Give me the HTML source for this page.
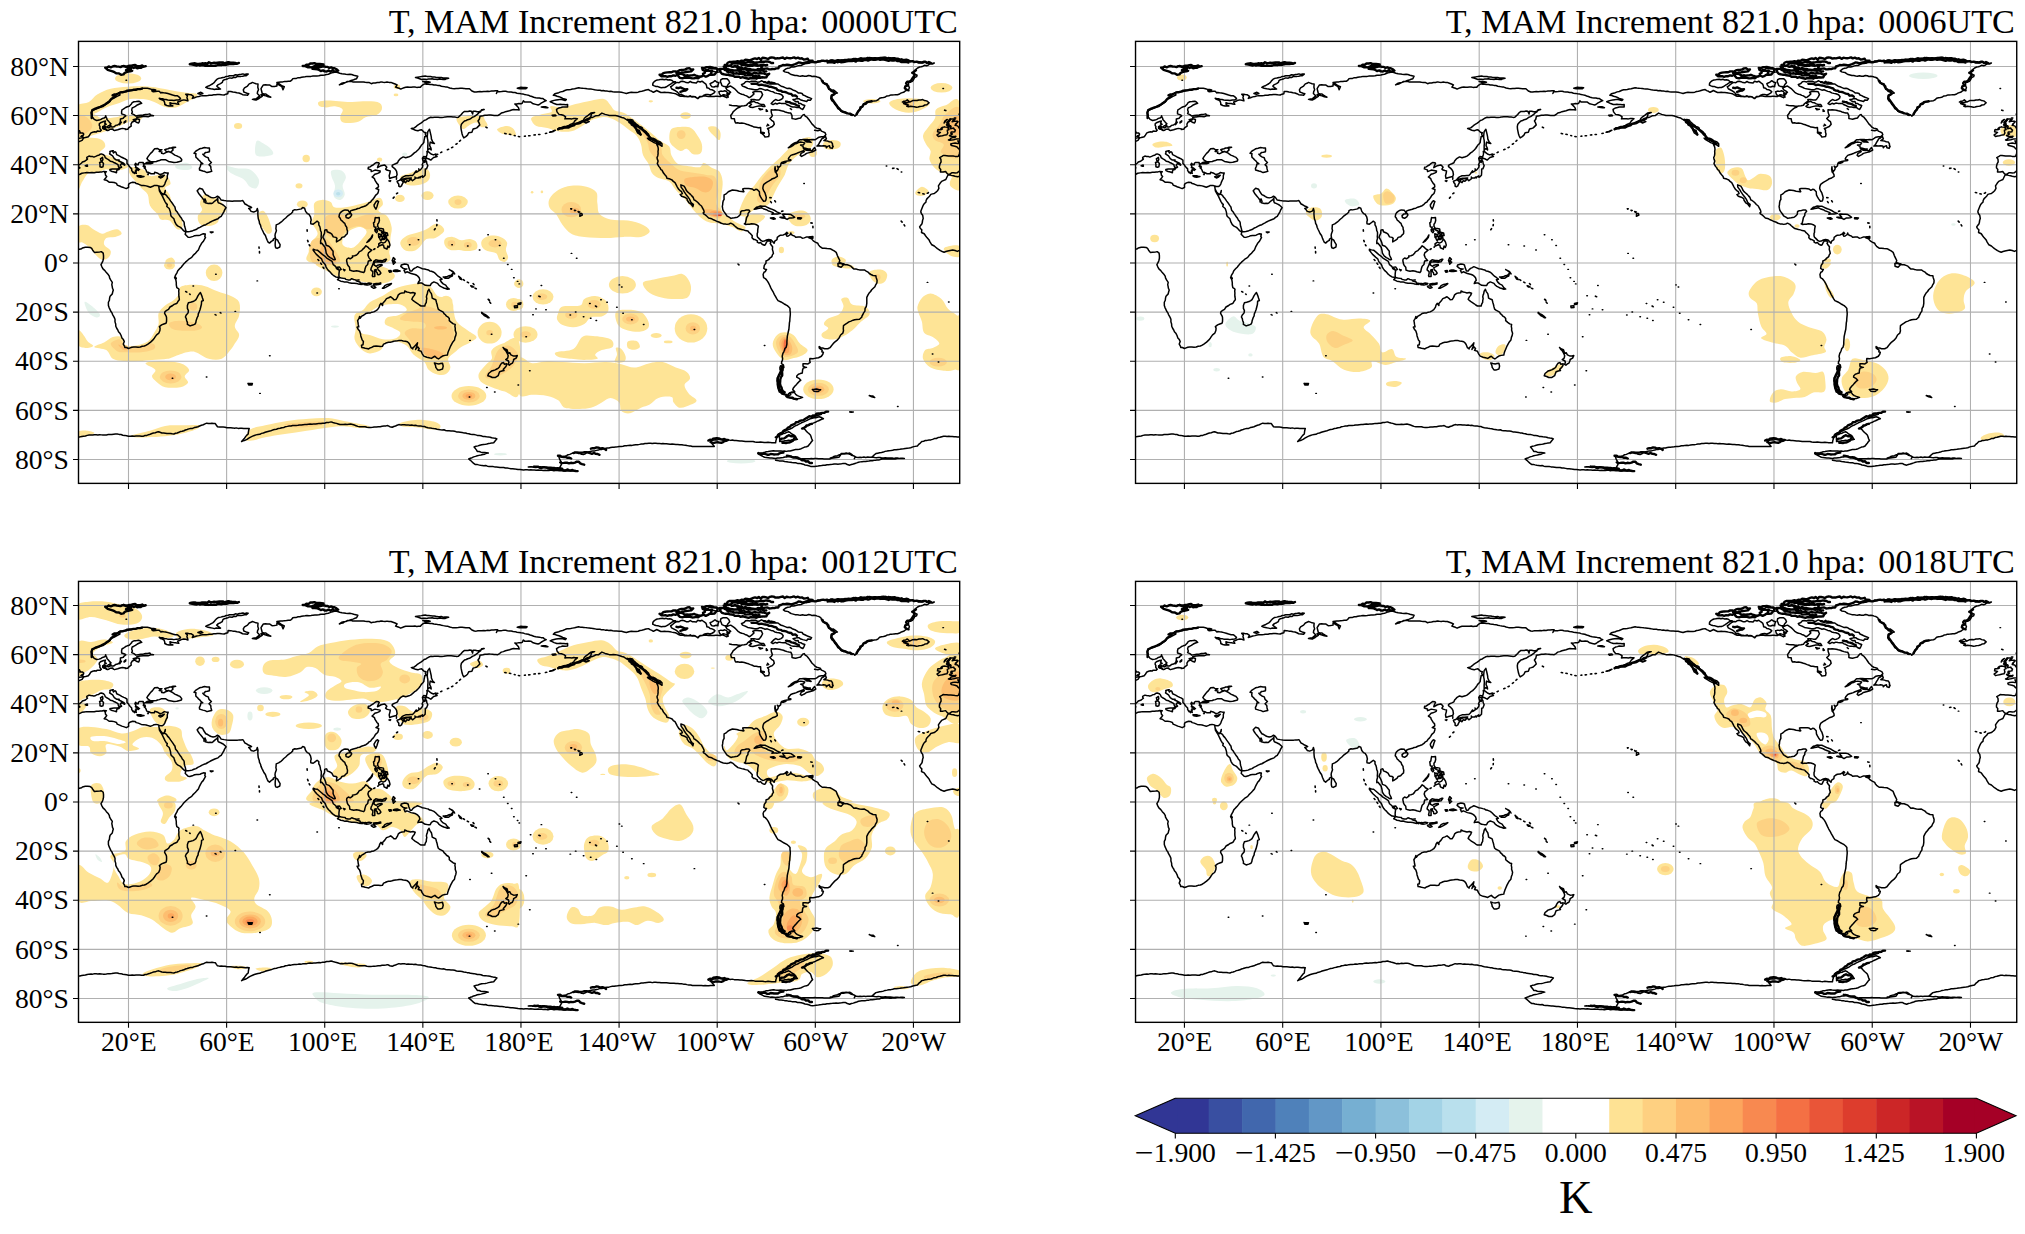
<!DOCTYPE html>
<html><head><meta charset="utf-8"><title>T, MAM Increment 821.0 hpa</title>
<style>html,body{margin:0;padding:0;background:#fff}svg{display:block}</style></head>
<body>
<svg width="2025" height="1234" viewBox="0 0 2025 1234" font-family='"Liberation Serif","Times New Roman",serif'>
<rect width="2025" height="1234" fill="#fff"/>
<defs><clipPath id="cp0"><rect x="0" y="0" width="881.20" height="442.00"/></clipPath><clipPath id="cp1"><rect x="0" y="0" width="881.20" height="440.95"/></clipPath>
<g id="coast" fill="none" stroke="#000" stroke-width="1.5" stroke-linejoin="round" stroke-linecap="round"><path stroke-width="1.45" d="M330.9 203.4h0.6M339.7 198.3h0.6M373.3 203.4h0.6M389.0 204.6h0.6M400.8 208.6h0.6M409.3 193.3h0.6M416.7 198.3h0.6M420.9 204.1h0.6M425.0 216.9h0.6M429.0 223.1h0.6M432.9 228.0h0.6M440.5 242.5h0.6M438.8 240.0h0.6M435.1 236.3h0.6M451.8 254.3h0.6M454.2 273.4h0.6M457.2 267.5h0.6M491.5 273.7h0.6M496.9 270.7h0.6M511.1 262.1h0.6M522.2 258.4h0.6M528.3 260.9h0.6M538.1 265.8h0.6M544.3 271.9h0.6M540.6 243.5h0.6M543.0 245.7h0.6M497.9 216.9h0.6M492.7 212.0h0.6M178.5 239.5h0.6M156.5 270.0h0.6M870.0 260.6h0.6M848.7 241.0h0.6M853.8 312.7h0.6M859.7 320.6h0.6M191.0 314.4h0.6M127.8 335.6h0.6M93.7 336.8h0.6M181.2 352.0h0.6M390.7 355.7h0.6M416.0 350.6h0.6M408.1 346.1h0.6M451.0 329.4h0.6M439.5 343.7h0.6M615.6 288.2h0.6M685.8 304.1h0.6M819.0 365.1h0.6M772.1 370.7h0.6M725.3 142.2h0.6M822.7 130.7h0.6M807.7 124.6h0.6M47.5 38.8h0.6M864.4 47.2h0.6M137.1 232.9h0.6M114.5 244.7h0.6M238.4 251.6h0.6M260.2 247.4h0.6M412.8 292.8h0.6M391.2 299.0h0.6M462.6 244.2h0.6M467.2 268.3h0.6M447.4 295.3h0.6M564.9 283.2h0.6M553.1 278.3h0.6M517.5 279.1h0.6M504.8 275.4h0.6M511.9 276.9h0.6"/><path d="M869.5 133.6L871.0 133.4L872.8 134.0L874.8 134.3L876.6 134.9L879.1 135.4L880.9 134.8L882.5 133.9L884.0 133.1M0.9 133.1L1.4 132.9L3.4 131.9L5.8 131.5L8.3 131.2L10.9 131.4L13.5 131.2L15.7 131.3L17.9 130.8L20.1 130.9L21.8 130.6L23.6 130.5L25.2 130.0L27.9 130.4L26.2 131.2L26.9 132.2L26.9 133.6L28.2 135.1L27.4 136.3L25.7 138.3L27.9 138.8L30.6 140.8L33.3 140.8L35.7 141.2L38.0 142.0L38.7 143.7L41.7 144.9L43.3 145.7L45.1 146.2L47.8 147.2L50.2 145.9L50.0 144.2L50.2 142.7L52.0 141.5L54.2 140.8L56.4 141.0L57.8 142.2L59.8 142.7L62.8 144.0L65.2 144.2L67.7 144.5L69.7 145.2L71.8 145.9L74.3 144.9L75.5 144.2L77.5 144.0L78.9 144.2L80.2 144.7L80.7 147.9L80.9 149.6L82.4 152.3L83.9 154.8L85.3 157.7L86.5 160.2L88.0 162.6L88.8 162.9L88.3 165.1L90.7 167.1L91.7 170.0L92.1 171.7L92.2 173.4L92.7 174.9L94.0 176.1L95.4 177.4L95.9 179.2L96.6 181.1L97.8 183.3L99.5 184.7L102.0 186.0L103.2 187.2L104.3 188.5L105.7 189.7L107.2 190.6L106.7 193.1L107.6 193.8L109.6 195.8L111.3 196.0L113.0 195.5L114.6 195.0L116.2 194.3L118.0 194.1L119.8 194.1L121.6 193.8L123.2 193.0L124.8 192.4L126.8 192.6L126.3 195.1L127.0 196.0L125.8 198.3L124.7 200.2L123.1 201.9L122.1 203.8L121.1 205.6L119.9 208.6L118.4 210.2L117.0 211.8L115.7 213.0L114.5 214.2L113.5 215.6L112.1 216.7L110.3 217.8L108.9 219.1L107.0 220.8L105.2 222.6L104.0 224.2L102.7 225.8L101.3 227.2L99.3 229.4L98.3 231.7L96.9 234.1L96.1 236.3L97.3 238.3L97.8 241.2L97.8 243.5L98.3 246.2L99.5 246.9L100.5 247.9L100.2 249.8L100.4 251.6L100.3 253.5L100.4 255.4L100.8 257.2L100.8 258.4L99.6 259.8L98.8 261.4L97.4 262.4L95.6 263.0L94.2 264.1L91.5 265.6L90.0 268.0L88.2 269.1L86.5 270.2L86.1 271.9L87.5 274.4L88.0 275.9L88.1 278.1L88.0 280.3L87.5 281.8L85.3 282.6L83.1 283.5L80.9 285.2L81.6 286.7L81.4 289.1L80.4 291.6L79.7 292.3L78.1 293.5L77.0 295.0L75.8 296.8L74.5 298.5L72.1 300.7L69.4 302.7L67.8 303.8L65.9 304.6L63.7 304.9L61.8 305.6L59.6 305.8L57.4 305.6L55.2 305.6L53.3 305.9L51.7 306.5L50.0 307.1L48.0 306.1L46.3 306.1L46.1 304.9L44.8 302.7L45.8 300.2L44.9 298.2L43.4 296.5L42.6 294.1L41.4 291.8L40.0 290.3L39.3 288.6L38.2 286.9L37.3 284.9L37.2 282.7L36.5 280.5L36.5 277.8L35.8 276.2L35.0 274.7L34.1 273.2L33.5 271.5L32.3 269.9L31.6 268.3L30.6 266.2L29.9 264.1L29.9 260.9L30.9 258.9L31.1 256.8L31.6 254.8L33.8 252.5L34.2 250.6L34.8 248.6L34.0 246.9L33.7 245.0L33.3 243.2L33.8 241.0L32.3 238.8L31.1 236.6L30.9 235.1L29.9 233.4L27.9 231.2L26.4 229.2L24.5 227.5L23.4 225.4L22.5 223.3L24.0 220.6L24.5 219.1L25.0 216.9L25.0 214.2L24.7 211.8L22.8 210.3L21.3 210.5L18.1 210.8L15.9 211.0L14.2 208.8L13.2 207.1L11.7 206.1L9.3 205.9L6.8 205.9L3.9 206.6L3.1 207.3L0.9 207.9M884.0 207.9L883.5 208.1L881.5 208.8L878.8 210.0L876.6 209.1L874.2 208.6L871.7 209.1L869.3 209.6L867.4 210.1L865.6 210.8L863.7 210.1L861.9 209.3L860.4 208.2L858.9 207.3L857.5 206.1L855.8 204.6L853.3 203.4L851.6 200.7L850.4 198.3L848.2 195.8L847.2 194.6L845.7 192.4L843.0 191.1L843.3 188.4L841.9 187.1L841.1 185.5L842.3 183.9L843.5 182.3L843.9 180.6L844.1 178.8L844.7 177.1L844.2 173.9L843.0 172.3L842.3 170.5L842.5 169.3L843.3 167.3L844.1 165.3L845.0 163.4L846.0 162.0L847.4 160.9L847.6 159.1L848.4 157.5L849.7 156.1L851.1 154.8L852.3 153.0L854.0 152.5L855.8 152.1L857.5 150.8L859.0 149.4L860.4 146.9L859.9 144.5L861.4 142.2L863.1 140.0L865.3 139.0L867.3 138.1L868.5 135.6L869.5 133.6M121.9 251.1L122.6 252.7L123.3 254.3L124.0 256.7L124.8 259.2L123.1 259.9L122.9 262.9L122.1 266.1L121.5 268.4L120.6 270.7L119.8 272.5L119.6 274.4L118.7 276.1L118.1 277.8L117.6 279.4L117.3 281.2L116.5 282.8L114.3 283.7L111.6 284.5L108.9 283.0L108.9 281.0L108.1 279.1L107.8 277.3L106.9 275.6L107.6 273.9L109.6 271.5L109.9 269.2L108.9 267.0L108.9 264.1L109.9 261.4L112.1 260.9L114.5 260.2L116.2 259.2L117.5 258.2L118.7 256.0L119.4 254.5L120.9 252.3L121.9 251.1M80.2 144.7L81.9 145.2L83.9 145.2L85.1 144.5L86.3 142.7L86.8 141.0L88.0 138.3L88.8 137.1L88.8 134.4L89.7 131.7L88.0 131.7L85.8 131.2L83.6 132.7L81.4 133.2L79.4 131.9L76.2 130.9L75.8 132.4L72.6 132.4L70.4 131.2L68.2 130.7L67.7 129.0L66.7 127.3L65.7 126.5L66.9 125.8L66.4 124.6L65.0 124.6L65.2 123.3L66.4 122.3L68.4 122.3L70.2 122.4L72.1 122.3L74.3 121.6L72.1 120.9L72.3 120.4L75.3 120.4L78.0 120.1L78.9 119.6L80.9 119.2L82.6 118.4L85.0 118.3L87.3 118.4L90.0 120.1L92.9 120.6L95.4 121.1L98.3 120.9L100.3 120.3L102.2 119.9L103.0 119.4L103.2 118.2L101.5 116.0L99.8 115.3L98.3 114.5L96.3 113.7L94.6 112.5L93.7 111.8L90.7 110.5L92.7 110.3L94.6 108.6L93.7 107.1L95.3 106.4L97.1 105.9L94.6 105.9L93.0 106.3L91.2 106.6L89.5 107.4L87.5 107.8L86.3 108.3L88.0 110.3L90.5 110.1L87.8 111.0L85.3 112.3L83.1 112.0L83.4 110.5L80.7 110.1L83.4 108.3L80.7 108.3L79.2 107.1L76.2 107.4L74.9 108.9L73.8 110.5L72.4 111.7L71.3 113.0L69.4 115.5L68.4 117.2L69.6 118.7L71.8 120.1L71.8 120.9L69.6 120.9L68.4 121.1L67.2 121.9L66.4 122.3L65.2 123.2L64.7 121.9L64.7 121.1L62.3 121.1L60.8 121.1L59.6 122.3L59.8 123.3L58.3 123.4L57.1 121.9L56.4 123.3L57.4 125.0L56.9 126.3L59.8 127.7L59.8 129.1L58.6 128.2L57.4 128.5L57.8 129.7L56.9 129.5L57.6 131.2L57.8 132.0L56.1 131.2L56.1 132.2L55.2 130.7L54.7 131.3L54.2 130.7L53.2 129.0L53.2 127.5L51.7 126.0L50.5 124.6L50.0 123.6L48.5 122.1L48.5 120.1L48.5 118.7L46.6 117.4L45.3 116.9L43.2 115.9L41.2 114.7L38.2 113.3L37.5 111.0L36.3 110.3L35.0 111.5L34.1 109.8L34.8 109.3L33.1 109.6L31.4 110.1L31.6 111.3L31.1 112.5L32.6 113.5L34.1 114.5L35.8 117.2L38.0 118.7L40.7 118.7L39.9 119.4L42.4 120.6L45.1 121.9L46.3 123.1L46.1 123.8L45.1 123.3L43.1 122.1L41.7 123.8L43.1 125.8L41.7 126.3L40.4 128.2L39.5 128.4L39.3 127.7L40.7 125.8L39.7 124.6L39.5 123.3L37.2 121.9L35.8 121.4L34.3 120.4L31.8 119.8L30.9 118.9L29.9 118.2L28.2 117.3L26.7 116.2L26.2 114.7L25.0 113.3L22.8 112.5L21.8 112.8L20.1 114.0L18.8 114.2L17.2 115.0L15.4 115.7L14.2 115.2L12.2 115.1L10.5 114.7L8.3 116.0L8.3 116.9L9.0 117.7L7.7 118.8L6.3 119.9L3.9 120.6L3.1 121.6L0.9 123.4L0.9 123.4M884.0 123.4L883.3 124.8L884.0 125.8M0.9 125.8L1.4 126.5L0.9 126.8M884.0 126.8L882.8 127.5L881.5 129.2L880.1 130.3L878.6 131.4L876.8 131.5L875.0 131.3L873.2 131.4L870.9 132.9L870.2 133.2L868.5 131.9L867.1 130.2L864.6 130.7L861.9 130.7L862.2 128.2L860.9 126.5L860.9 124.8L861.5 122.6L862.6 120.6L862.4 117.9L861.2 116.2L863.4 115.0L864.6 114.1L866.4 114.2L868.2 114.3L870.0 114.6L872.3 114.6L874.7 114.7L876.6 115.0L879.1 115.2L880.1 114.7L881.0 112.0L881.3 109.6L881.0 108.1L879.7 107.0L878.6 105.6L876.4 104.9L873.2 104.2L872.5 103.7L872.2 102.7L874.2 102.0L876.6 101.7L879.1 102.1L880.3 102.1L880.1 100.7L879.3 99.5L880.8 99.5L881.3 100.2L883.3 100.5L884.0 100.1M0.9 100.1L1.2 100.0L3.6 99.0L4.9 97.0L5.5 96.4L6.8 96.2L8.1 95.8L9.8 95.3L11.0 93.8L12.5 91.5L14.2 90.9L16.1 90.4L18.1 90.5L18.6 89.7L20.8 89.9L21.8 89.9L22.3 89.2L22.8 88.9L22.0 87.9L21.3 86.7L21.5 85.2L20.8 84.0L20.8 82.5L22.0 81.3L25.2 80.1L26.9 79.7L26.7 80.6L26.2 81.8L27.7 83.0L26.0 83.6L25.2 85.2L24.2 85.2L24.2 87.0L25.7 87.9L28.2 87.9L27.7 88.9L29.2 89.2L30.6 88.6L31.6 87.8L34.3 87.5L34.8 88.7L36.0 89.2L39.2 88.4L41.5 87.6L43.9 87.0L47.1 87.5L46.8 88.1L48.8 87.9L50.0 87.2L50.0 86.6L52.7 84.8L52.5 82.8L53.7 80.6L56.4 79.7L57.8 80.8L60.1 81.6L60.8 80.3L61.0 78.1L58.6 77.4L58.3 76.2L61.5 75.5L64.7 75.2L67.2 75.1L69.6 75.4L72.1 74.4L75.0 74.3L72.1 73.7L71.3 72.5L69.1 73.0L66.9 73.1L64.7 73.7L62.3 73.8L59.8 74.2L57.4 74.7L55.4 73.2L53.2 72.2L53.9 70.5L53.2 68.5L53.7 66.6L55.4 65.8L56.9 64.9L58.8 63.6L61.0 62.6L63.2 61.9L61.3 60.2L60.1 59.9L57.7 60.2L55.4 60.4L53.7 61.2L52.9 62.6L50.7 64.9L48.8 65.4L47.1 66.1L44.8 67.8L43.6 68.3L43.1 70.0L43.1 72.5L46.1 73.5L47.3 74.4L45.3 75.9L44.8 76.9L41.9 77.6L41.9 79.7L41.2 82.3L39.2 83.6L37.0 84.0L36.1 85.1L34.8 85.5L33.3 85.6L32.8 85.0L32.1 83.9L31.5 83.3L32.5 82.4L31.1 81.2L30.1 79.8L28.4 78.1L28.3 76.8L27.7 76.2L27.2 74.4L26.7 75.9L25.5 76.6L24.0 77.0L22.5 78.0L20.6 78.7L18.2 79.1L15.7 78.0L14.7 76.6L13.8 75.7L13.7 73.2L13.0 71.7L13.2 70.3L13.5 68.8L15.9 68.1L17.9 67.4L19.8 66.6L21.8 65.6L24.7 65.1L26.7 63.4L28.4 62.2L30.9 60.7L31.8 59.5L32.8 58.0L34.6 57.2L36.3 56.3L39.0 54.8L41.4 53.6L41.4 52.6L40.4 51.3L42.1 50.9L43.9 50.6L45.7 50.4L47.5 50.4L49.5 49.9L51.2 49.1L53.2 48.8L55.2 48.6L57.1 48.2L59.1 47.9L60.8 47.7L62.5 47.3L64.2 46.9L66.6 46.9L68.9 46.9L71.0 47.3L73.0 48.0L75.2 48.0L77.2 48.6L75.2 48.8L73.3 49.4L74.8 50.4L77.0 50.1L78.8 49.9L80.7 49.9L82.4 51.6L83.1 51.1L85.1 51.4L87.0 51.6L89.4 52.2L91.7 52.8L94.1 53.6L96.6 54.3L98.6 54.3L100.1 55.3L101.5 56.5L102.0 57.5L100.3 58.5L97.8 58.7L95.4 59.2L93.4 58.8L91.3 58.9L89.2 58.7L87.6 58.2L85.8 58.0L84.1 57.4L82.3 57.4L80.7 56.8L81.9 58.0L83.9 58.6L85.6 59.7L86.3 61.9L86.3 63.1L88.3 64.1L90.5 64.6L92.4 64.4L94.4 64.6L91.7 63.4L91.5 61.4L93.1 61.8L94.9 62.1L96.6 62.2L98.3 62.6L100.3 62.9L99.1 60.7L101.0 60.1L102.7 59.2L105.2 58.5L107.3 58.9L109.4 59.5L108.9 57.2L108.4 56.5L108.9 54.5L107.2 52.9L109.0 52.9L110.7 53.2L112.5 53.3L115.0 55.0L113.8 57.0L116.0 56.3L118.2 55.5L120.4 55.2L122.4 54.5L124.1 54.3L125.8 54.3L127.5 54.3L129.3 54.1L130.9 53.8L133.4 53.8L135.2 53.4L137.1 53.4L138.9 53.1L140.8 53.1L143.2 53.4L145.7 53.6L147.4 52.8L149.3 52.3L149.6 50.1L152.3 50.2L154.3 50.7L156.4 50.8L158.4 51.3L160.4 51.6L162.3 52.3L164.1 53.3L166.5 53.5L169.0 53.8L170.2 52.3L168.5 51.9L166.9 51.2L165.3 50.6L164.8 48.4L166.0 46.4L169.0 44.7L170.7 42.5L172.4 41.9L173.9 41.0L175.7 41.7L177.5 42.4L179.5 42.7L179.3 45.9L180.0 48.4L179.1 50.2L178.8 52.1L180.0 53.3L181.2 54.5L179.4 56.0L177.6 57.5L175.7 57.5L173.9 58.0L175.7 58.3L177.6 58.7L180.0 57.5L181.7 56.1L183.7 55.0L182.5 53.3L184.9 53.9L187.4 54.5L189.7 55.4L192.3 55.8L190.5 54.8L188.8 53.8L187.4 52.6L185.5 52.5L183.7 52.1L183.1 49.6L182.5 47.2L183.7 45.3L184.9 43.5L187.0 43.4L189.0 43.5L191.0 43.5L193.5 45.2L196.0 45.1L198.4 44.7L198.4 42.3L199.9 43.3L201.6 44.3L203.3 45.2L204.5 48.4L205.8 45.4L203.9 44.5L202.1 43.5L200.4 42.1L198.4 41.0L200.3 40.8L202.2 40.6L204.2 40.5L206.1 40.2L208.0 40.1L209.9 39.8L211.9 39.8L213.3 38.7L214.3 37.3L216.1 37.0L217.9 37.0L219.6 36.3L221.4 36.4L223.1 35.9L224.8 35.6L226.6 35.4L228.5 35.0L230.5 35.2L232.5 35.0L234.5 34.7L236.4 34.6L238.4 34.5L240.4 34.4L242.3 33.8L244.3 33.9L246.2 33.7L248.0 33.1L249.8 32.8L251.5 32.2L253.2 31.5L255.0 31.1L256.8 30.7L259.1 31.1L261.2 31.8L263.4 32.4L265.4 32.5L267.3 32.9L269.3 33.0L271.3 32.8L273.2 33.2L275.2 33.9L277.3 34.4L279.3 34.9L278.1 37.3L276.3 37.9L274.5 38.7L272.6 39.2L270.8 39.8L268.8 40.1L267.2 41.0L265.3 41.3L263.4 41.8L260.9 43.5L262.6 42.9L264.3 42.6L265.8 41.7L267.4 41.0L269.0 40.4L270.8 40.0L272.5 39.9L274.2 40.5L275.9 40.5L277.6 40.5L279.3 40.5L281.2 40.5L283.0 40.6L284.9 40.6L286.7 40.9L288.5 41.0L290.4 41.0L292.8 42.3L294.7 41.7L296.8 41.6L298.7 41.1L300.8 41.1L302.6 40.5L304.6 40.8L306.6 41.0L308.5 40.7L310.5 41.0L312.5 41.0L314.5 41.8L316.6 42.6L318.6 43.5L317.1 45.7L318.9 46.3L320.6 46.9L322.3 47.7L323.8 47.0L325.5 46.4L327.2 45.9L329.0 45.7L330.9 45.9L332.7 45.8L334.5 45.7L336.4 45.6L338.2 46.0L340.1 45.8L341.9 45.9L342.9 44.6L344.3 43.5L346.1 42.5L347.9 42.9L349.8 42.8L351.7 43.0L353.6 43.1L355.4 43.6L357.2 43.7L359.1 44.0L361.1 44.2L362.9 44.8L364.9 45.2L366.9 45.5L368.9 45.7L371.2 46.6L373.8 47.2L375.8 47.3L377.7 47.2L379.7 47.1L381.6 46.9L383.6 46.9L385.4 47.0L387.3 47.4L389.1 47.4L391.0 47.4L393.4 49.6L395.9 50.6L397.7 50.7L399.5 50.3L401.4 50.2L403.2 50.4L405.2 50.1L407.2 50.2L409.1 49.8L411.1 50.0L413.0 49.6L415.1 49.6L417.1 49.4L419.2 49.4L417.9 52.1L418.7 50.4L420.9 50.3L423.1 50.2L425.3 49.9L427.2 49.9L429.0 50.3L430.8 50.6L432.7 50.6L434.6 51.1L436.6 51.2L438.5 51.8L440.5 52.0L442.5 52.3L444.4 52.5L446.1 53.2L448.0 53.5L449.8 53.8L451.6 54.6L453.4 55.1L455.2 55.8L457.2 56.3L459.0 56.5L460.9 56.7L462.7 57.2L464.5 57.2L465.9 58.4L467.7 59.2L466.1 59.9L464.5 60.7L462.6 61.8L460.9 63.1L459.6 63.6L457.2 63.0L454.7 62.4L452.3 60.7L450.2 60.5L448.2 60.7L446.1 60.7L444.9 59.5L443.7 61.9L442.5 62.4L440.4 62.2L438.4 62.7L436.3 62.6L437.7 63.8L438.9 65.0L440.0 66.3L440.7 68.5L438.9 68.4L437.0 68.3L435.1 68.1L433.1 68.6L431.1 69.3L429.0 69.8L426.9 70.3L424.9 71.2L422.8 71.7L421.1 73.1L419.2 74.2L417.4 74.1L415.7 74.1L414.0 73.9L412.3 73.7L410.6 73.5L408.6 73.9L406.4 73.9L404.4 74.4L401.5 74.9L400.8 77.9L399.5 79.6L400.6 81.5L401.3 83.5L399.8 85.0L398.3 86.5L396.5 87.2L394.6 87.7L393.4 90.9L390.2 91.4L389.0 93.8L387.3 95.3L385.3 96.5L384.3 94.6L383.6 92.6L383.1 90.2L382.6 87.7L382.4 85.2L382.9 82.8L384.4 81.2L386.0 79.6L387.7 79.1L389.2 78.3L391.0 77.9L392.5 77.0L393.9 75.9L395.7 75.2L397.1 74.2L398.8 73.0L400.2 71.6L402.0 70.5L403.2 68.3L405.7 68.1L403.9 68.7L402.4 69.5L400.8 70.3L398.7 70.3L396.7 69.8L394.6 69.8L394.1 72.7L392.9 69.8L391.2 69.6L389.5 70.1L387.8 70.1L386.0 70.0L384.2 71.4L382.8 73.1L381.1 74.7L379.9 75.9L378.1 76.0L376.3 75.7L374.5 75.5L372.7 75.3L370.8 75.4L368.9 75.4L367.0 75.5L365.2 75.9L363.4 76.1L361.5 76.1L359.7 75.8L357.8 75.9L356.0 75.9L354.1 76.1L352.2 75.9L350.4 76.6L348.9 77.5L347.4 78.5L345.6 79.1L344.1 80.4L342.4 81.7L340.7 82.8L338.9 83.9L337.5 85.3L335.8 86.5L332.8 87.2L334.9 88.0L337.0 88.9L339.4 89.4L341.2 88.7L343.1 88.4L344.4 89.7L345.6 90.9L347.5 91.4L346.8 92.6L347.8 95.1L346.3 95.1L346.0 96.9L345.6 98.8L345.3 101.2L344.2 102.6L342.8 103.9L341.9 105.4L340.8 107.1L339.4 108.6L337.8 110.2L335.8 111.5L334.0 113.2L332.1 114.7L330.5 115.4L328.8 115.9L327.2 116.4L324.7 115.5L322.3 116.9L321.5 117.7L319.8 119.6L319.1 121.4L317.0 122.4L314.9 123.3L313.7 124.1L313.7 125.3L315.9 127.0L317.2 128.4L318.1 130.0L318.6 133.2L317.9 135.1L314.9 135.9L313.0 136.4L311.2 137.1L310.7 134.4L311.5 131.4L311.7 129.5L310.0 129.2L308.3 128.7L307.1 127.7L308.3 125.8L306.8 124.1L305.8 123.6L302.6 124.3L300.8 125.3L299.0 126.3L299.5 124.6L300.7 122.1L300.2 121.4L297.7 121.1L296.1 122.3L294.6 123.6L293.0 124.4L291.6 125.5L289.9 125.8L289.6 127.5L292.6 128.5L292.8 130.2L294.7 129.5L296.5 128.7L299.0 129.2L301.7 129.7L301.4 130.9L299.8 131.7L298.1 132.4L296.3 132.9L295.0 134.3L293.6 135.6L296.0 137.3L296.5 139.0L297.5 140.5L298.4 142.0L299.7 143.2L300.0 145.4L297.5 147.2L300.2 148.1L299.9 150.1L299.2 152.1L297.0 154.0L295.9 155.9L294.6 157.7L293.1 159.1L292.1 160.7L290.6 161.4L289.2 163.0L287.4 164.3L285.2 165.1L283.0 165.8L281.1 166.8L279.3 167.1L277.6 167.9L275.7 168.3L273.8 168.9L272.0 169.5L271.3 171.7L270.3 170.0L269.5 168.8L266.6 168.5L264.9 169.1L263.4 170.0L261.9 171.3L260.9 172.9L260.5 175.4L261.7 176.9L262.4 178.6L263.8 179.7L264.9 181.0L266.3 182.0L267.0 184.1L268.3 186.0L268.4 187.8L269.0 189.7L268.8 192.4L267.2 193.8L265.9 195.3L263.4 196.0L262.2 198.0L260.1 199.3L258.0 200.5L258.0 198.7L258.5 197.0L257.3 196.0L254.8 195.5L253.3 192.8L251.6 191.6L248.7 190.4L248.4 188.7L247.5 188.4L246.2 188.9L246.0 192.1L245.0 193.9L244.3 195.8L246.0 198.7L247.0 201.0L247.7 203.9L250.4 204.9L251.9 206.4L253.2 208.1L254.6 209.8L254.6 213.0L255.2 214.6L256.0 216.2L256.8 218.1L255.6 218.4L254.6 218.1L253.2 217.0L251.6 216.2L249.4 214.5L247.7 211.8L247.2 208.6L246.5 205.9L245.3 204.4L243.3 201.9L242.1 202.2L242.1 199.5L242.8 197.0L242.6 195.2L242.8 193.3L242.8 190.9L242.0 189.1L241.8 187.2L241.3 185.3L240.3 183.5L240.3 181.1L238.6 179.8L236.9 181.1L234.7 182.8L232.3 182.3L232.2 180.4L232.7 178.6L232.0 175.4L230.5 172.9L228.8 172.2L227.1 170.0L226.1 166.8L224.2 166.1L222.9 167.5L220.5 168.0L218.0 168.5L216.3 168.3L214.3 169.3L214.1 170.7L212.9 171.9L211.4 172.9L209.4 174.4L207.2 176.6L205.3 178.1L204.1 179.4L202.8 180.6L200.1 182.5L197.7 183.5L197.6 185.4L197.4 187.2L197.9 189.4L196.7 192.6L196.5 194.5L196.9 196.3L194.7 198.0L194.7 199.0L192.8 200.0L191.0 201.7L189.6 200.7L188.7 198.9L187.9 197.0L186.9 194.1L185.4 192.1L184.4 189.9L183.4 187.9L182.5 185.9L182.0 183.8L181.0 181.9L180.7 179.8L179.8 177.4L179.5 174.9L179.3 172.0L179.5 169.8L178.8 167.1L178.0 169.5L175.1 170.7L172.6 170.0L171.6 168.4L170.2 167.1L173.1 166.1L171.6 165.2L169.9 164.6L168.2 163.4L166.5 162.6L165.3 160.7L164.3 159.2L162.6 159.5L160.9 159.5L159.2 159.7L157.3 159.7L155.5 159.7L153.8 159.9L150.6 159.7L148.1 159.5L145.7 159.2L142.7 158.7L140.8 156.0L139.0 154.8L137.1 156.0L134.6 156.5L132.7 156.1L130.9 155.3L129.2 154.1L127.3 153.3L125.5 150.6L124.1 147.9L121.1 146.9L119.9 148.1L118.7 149.4L119.9 151.6L121.0 153.2L122.4 154.8L123.8 156.5L125.5 158.9L125.5 160.7L126.5 157.5L127.5 160.2L126.8 161.4L129.7 162.1L131.6 161.9L133.4 162.1L134.4 161.4L136.6 159.4L138.3 158.2L139.3 156.7L139.3 160.2L139.8 161.4L141.5 162.0L143.1 162.8L144.7 163.6L146.2 164.9L147.6 166.3L146.2 168.4L145.2 170.7L144.0 172.8L142.7 174.9L140.9 176.0L139.5 177.4L136.3 178.6L133.6 179.8L132.0 180.6L130.5 181.5L129.0 182.3L127.3 183.3L125.4 183.9L123.6 184.7L121.4 186.0L119.3 186.9L117.5 188.2L115.4 188.8L113.5 189.7L111.3 190.1L109.5 190.3L107.6 190.4L107.2 188.9L106.8 187.0L106.2 185.2L105.8 183.3L105.7 181.3L105.2 180.1L103.8 178.6L103.0 176.9L101.8 175.4L100.7 173.7L99.5 172.0L98.5 170.3L97.1 168.8L96.4 165.6L95.2 164.0L94.2 162.4L92.2 159.7L90.5 157.2L89.0 155.7L88.0 154.0L85.8 152.6L86.6 150.9L86.8 149.1L86.2 151.3L85.1 153.3L83.4 152.1L81.9 150.3L80.9 148.1M121.1 107.4L123.6 106.8L126.0 106.1L128.5 106.5L130.9 106.6L131.0 108.5L130.9 110.3L128.9 110.9L126.8 111.0L126.0 112.5L124.3 112.8L125.6 114.2L127.3 115.5L129.7 116.4L130.5 118.9L132.9 121.1L130.5 123.3L132.2 125.0L132.5 127.5L133.2 130.0L130.8 130.6L128.5 131.2L126.5 130.2L124.3 129.7L121.1 128.7L120.9 127.0L121.9 124.9L122.4 122.6L124.3 122.3L122.4 120.9L121.3 119.5L119.9 118.4L118.9 117.1L117.5 116.0L117.2 114.1L117.5 112.3L115.5 111.8L117.5 109.6L119.4 108.5L121.1 107.4M870.0 98.6L871.2 98.9L873.2 98.7L875.2 98.3L878.1 97.5L880.8 97.3L883.7 96.8L884.0 96.8M0.9 96.8L3.3 96.5L4.4 95.9L4.5 95.3L2.4 95.1L3.4 94.3L4.9 93.8L5.2 92.6L4.1 91.5L1.9 91.6L1.2 91.6L1.8 91.0L1.2 89.9L0.9 89.3M884.0 89.3L883.7 88.7L882.5 87.7L881.0 87.3L880.6 86.5L879.1 84.5L876.6 84.0L877.6 83.3L876.9 82.9L878.8 81.2L879.6 80.3L879.1 79.8L877.2 79.9L875.4 79.8L873.7 80.3L874.2 79.4L876.4 78.0L876.6 77.5L874.2 77.5L871.7 77.6L871.0 79.1L869.8 80.3L870.2 81.8L868.8 82.3L870.5 83.0L870.2 85.7L870.7 84.8L872.0 84.3L872.6 85.4L871.7 86.5L872.0 87.3L875.2 86.7L875.6 87.7L876.9 88.7L876.5 89.4L876.4 90.4L874.7 90.7L872.7 90.7L872.3 91.9L873.9 92.6L872.5 93.6L871.0 94.1L871.5 94.7L874.2 95.0L876.1 95.2L877.4 94.8L876.6 95.8L874.8 96.2L872.9 96.3L871.7 97.8L870.0 98.6M865.8 85.5L869.0 86.0L870.0 87.3L870.5 88.2L868.8 88.9L869.0 90.5L869.3 91.5L868.4 93.4L866.8 93.5L863.9 94.3L861.9 94.7L859.9 95.2L858.5 93.6L860.2 92.4L861.9 91.0L859.0 90.4L859.2 88.9L859.5 88.2L861.2 88.4L862.9 88.2L863.9 87.5L862.4 87.2L863.6 86.1L865.8 85.5M823.9 60.7L825.4 59.8L827.3 59.5L828.8 58.5L831.2 60.7L834.2 59.2L836.4 59.0L838.6 59.2L840.4 58.6L842.4 58.6L844.2 58.2L846.1 59.2L848.2 59.5L850.6 61.4L848.4 63.4L846.4 63.6L844.7 64.6L843.0 65.0L841.3 65.2L839.6 65.6L837.9 65.8L835.8 65.3L833.7 65.1L831.9 64.9L830.1 65.3L828.3 64.9L830.0 63.6L827.5 63.1L825.1 62.2L827.4 61.9L829.5 61.2L827.6 61.3L825.8 60.8L823.9 60.7M31.4 128.2L33.8 127.7L35.6 127.6L37.4 127.6L39.2 127.5L38.0 130.0L38.0 131.4L36.0 130.7L33.7 130.1L31.6 129.2L31.4 128.2M21.1 121.1L23.5 120.4L25.0 122.1L24.5 125.3L23.0 125.8L21.5 125.3L21.5 122.6L21.1 121.1M22.0 117.4L24.0 116.0L24.4 118.2L23.5 119.9L22.5 119.4L22.0 117.4M58.6 134.4L60.3 134.4L62.1 134.4L63.8 134.8L65.5 135.1L62.3 135.9L60.5 135.6L58.8 135.0L58.6 134.4M80.2 135.5L81.9 134.7L83.9 134.5L85.8 133.9L84.1 135.6L81.9 136.6L80.2 135.5M127.3 45.9L128.8 45.0L130.6 44.4L132.2 43.5L134.2 42.4L135.9 41.0L136.9 39.5L138.3 38.1L140.1 37.0L142.3 36.7L144.4 36.1L146.2 35.8L147.7 35.0L149.5 34.9L151.2 34.4L153.0 34.4L155.0 34.3L156.9 33.4L159.0 33.7L160.8 33.0L162.8 32.9L164.5 32.5L166.3 33.2L168.0 32.6L169.7 32.7L167.7 34.4L165.9 34.4L164.2 34.8L162.5 35.0L160.7 35.0L158.9 35.0L157.3 36.1L155.5 35.9L153.6 36.8L151.2 36.5L149.3 37.3L147.6 37.9L145.9 38.3L144.4 39.3L143.8 41.1L142.0 42.3L139.8 43.2L138.3 44.7L140.0 46.3L142.0 47.7L139.9 47.8L137.8 47.6L135.9 48.2L134.1 47.7L132.2 47.4L129.6 46.9L127.3 45.9M337.0 36.1L338.9 35.8L340.9 35.5L342.9 35.2L344.8 34.8L346.8 34.6L348.5 35.0L350.3 35.1L352.1 35.2L353.8 35.6L355.6 35.5L357.3 35.9L359.1 36.1L360.9 36.2L362.8 36.1L364.6 36.7L366.4 36.5L368.3 36.5L370.1 36.9L368.1 37.3L366.4 38.1L364.6 38.0L362.7 37.9L360.9 37.7L359.1 38.1L357.2 37.8L355.4 37.9L353.6 37.4L351.7 37.6L350.0 37.6L348.3 38.0L346.5 37.8L344.8 37.9L343.1 38.1L341.1 37.3L339.1 36.6L337.0 36.1M344.3 40.0L346.2 40.1L348.1 40.2L349.9 40.4L351.7 40.8L349.9 41.3L348.0 41.5L346.2 40.8L344.3 40.0M438.8 46.9L440.6 46.4L442.5 45.9L444.5 46.0L446.6 46.0L448.6 46.4L447.4 47.4L445.3 47.3L443.3 47.2L441.2 47.4L438.8 46.9M119.4 52.1L122.4 50.9L124.3 52.1L121.9 52.8L119.4 52.1M349.3 108.8L349.3 106.1L349.3 104.3L349.5 102.4L349.4 100.6L349.3 98.8L348.9 96.9L348.8 95.1L349.0 92.6L349.3 90.2L351.0 87.9L351.7 90.7L352.4 93.8L352.8 95.7L352.9 97.5L354.2 100.5L355.9 102.1L353.7 101.6L351.7 100.7L351.4 102.4L351.2 104.2L352.4 106.6L352.7 108.6L351.0 107.1L349.3 108.8M344.6 119.9L347.3 118.9L346.8 117.7L345.3 117.2L348.3 116.9L350.4 117.6L352.3 118.7L353.7 117.4L355.1 116.1L356.8 115.6L358.6 115.1L357.3 115.2L357.5 112.6L354.9 113.5L352.6 112.6L350.9 111.2L349.1 109.8L348.4 110.1L348.7 111.8L348.4 113.6L347.7 115.5L345.2 115.1L343.9 116.9L344.6 119.9M322.0 138.1L323.5 136.3L325.2 135.2L327.2 134.4L330.1 134.3L332.1 134.0L334.0 134.1L335.3 132.8L336.3 131.4L337.7 129.5L337.0 131.2L338.8 130.5L340.2 129.4L341.9 128.5L343.9 126.0L344.3 124.1L343.6 123.6L344.3 121.9L345.1 120.3L346.3 121.1L346.8 119.9L348.0 119.9L348.3 122.1L349.3 124.3L348.0 127.5L346.8 127.7L346.8 130.7L346.6 133.9L345.1 135.4L344.0 135.9L343.9 134.4L343.5 135.2L342.4 135.1L341.5 136.6L340.7 135.6L339.9 136.6L337.0 136.6L336.5 135.6L336.7 137.3L334.0 139.4L332.3 137.6L332.8 136.6L332.1 136.5L329.6 136.8L327.6 136.9L325.7 137.3L323.5 138.1L322.0 138.1M322.0 138.3L324.0 139.8L324.7 141.0L323.5 143.2L323.0 144.5L321.5 145.4L320.3 144.8L320.3 143.0L319.8 142.0L319.1 141.3L318.6 139.8L320.8 139.0L322.0 138.3M324.7 139.7L326.4 138.3L327.2 137.8L329.6 137.2L331.1 137.6L331.5 138.6L330.1 139.9L328.4 139.3L327.2 141.3L326.2 140.8L326.0 140.0L324.7 139.7M299.0 159.4L300.1 160.2L299.2 162.6L298.5 165.1L297.4 167.8L295.8 165.3L295.5 163.6L297.0 161.2L297.7 160.1L299.0 159.4M272.5 172.2L273.2 173.4L272.0 175.4L269.8 176.9L267.6 176.1L267.3 174.2L269.0 172.7L270.8 172.3L272.5 172.2M197.2 197.5L199.1 198.7L200.1 200.7L201.6 203.2L201.3 205.6L198.6 207.0L197.2 206.4L196.7 204.4L196.7 201.9L196.9 199.5L197.2 197.5M296.8 176.1L298.7 176.3L300.7 176.1L300.9 179.1L300.2 181.5L299.2 182.8L299.2 185.0L300.7 187.2L302.6 187.2L304.9 187.7L305.3 190.6L303.4 189.7L301.7 189.2L299.5 187.4L297.7 187.8L296.8 186.7L297.5 185.7L296.8 186.0L295.5 185.2L295.3 183.4L295.0 181.5L296.0 180.8L296.3 178.6L296.8 176.1M308.5 197.5L309.7 199.1L310.7 200.7L311.5 203.7L310.5 206.1L309.3 204.6L308.5 207.8L305.6 206.4L305.1 203.9L303.6 203.4L300.4 204.6L300.2 202.4L302.6 200.7L304.6 201.7L306.8 200.7L307.6 199.5L308.5 197.5M305.8 190.9L308.8 191.6L309.3 194.1L307.6 194.1L307.8 196.3L307.1 196.8L306.1 194.8L307.1 192.4L305.8 190.9M301.2 195.3L302.6 194.6L303.9 195.1L303.4 197.3L302.6 199.2L301.7 198.5L301.2 197.0L300.2 195.8L300.0 192.6L302.9 193.1L302.6 194.6M303.6 198.0L304.2 195.9L305.1 193.8L306.6 196.5L305.8 198.0L304.9 198.0L303.6 198.0M288.4 201.0L290.4 198.7L291.6 197.4L292.8 196.0L294.1 193.6L293.6 195.8L292.1 197.8L290.1 200.0L288.4 201.0M296.3 188.4L298.2 188.7L299.0 189.7L298.2 191.4L296.8 190.1L296.3 188.4M269.9 216.6L271.7 217.4L274.2 215.7L273.9 214.7L276.1 214.4L278.1 213.7L279.6 212.2L280.6 210.5L283.0 209.3L284.1 208.0L285.5 206.8L287.4 204.4L289.6 205.9L290.6 207.3L293.3 208.8L290.9 210.8L290.1 211.3L289.4 213.5L290.4 216.2L291.5 217.7L292.8 219.1L289.9 219.6L289.5 221.3L289.2 223.1L287.4 224.8L286.5 227.7L286.0 230.2L285.2 231.2L282.0 230.4L280.6 229.9L278.1 229.4L275.2 229.9L273.2 229.4L271.3 228.7L271.0 225.8L269.7 224.4L268.8 222.8L268.6 221.6L268.1 219.4L268.3 217.9L269.9 216.6M234.7 207.8L236.7 208.5L238.9 208.8L241.3 210.8L243.0 212.3L244.5 213.6L246.2 214.7L248.2 216.7L251.1 218.4L253.6 220.1L254.8 223.3L257.3 225.3L258.0 227.2L260.9 229.0L260.5 231.9L260.4 233.9L260.7 235.8L259.2 235.8L257.3 235.6L254.8 233.9L253.1 232.5L251.9 230.9L250.1 229.3L248.7 227.5L247.6 225.7L247.0 223.8L246.0 222.2L244.5 220.9L243.7 219.2L243.0 217.4L241.5 216.3L240.1 215.0L238.2 213.3L236.7 211.5L234.7 208.8L234.7 207.8M259.0 238.3L260.9 236.1L262.9 236.6L264.7 236.9L266.6 237.1L267.3 238.0L269.5 238.5L271.7 238.5L273.2 237.3L275.1 238.1L277.1 238.5L277.6 239.3L280.6 240.3L281.6 240.7L281.8 243.0L279.9 242.6L278.1 242.0L275.7 241.8L273.2 241.9L270.7 241.3L268.3 240.5L265.9 240.7L264.1 240.0L262.2 239.8L260.6 239.0L259.0 238.3M281.8 241.7L284.7 242.0L283.5 243.2L281.8 241.7M285.5 242.2L287.2 242.0L286.7 243.5L285.5 243.2L285.5 242.2M287.4 242.5L290.4 241.7L293.1 242.2L291.6 243.2L289.8 243.5L287.9 243.7L287.4 242.5M295.0 242.5L297.7 242.2L300.0 242.1L302.2 241.5L302.2 242.7L300.0 243.1L297.7 243.5L295.0 243.2L295.0 242.5M292.8 244.9L295.3 244.4L297.3 246.2L295.3 246.9L292.8 245.4L292.8 244.9M303.9 246.9L305.3 245.6L306.3 244.2L308.8 243.0L310.9 242.7L313.0 242.2L311.2 243.7L309.4 244.7L307.6 245.7L305.1 246.9L303.9 246.9M294.1 235.1L293.8 234.1L294.3 232.2L294.3 230.2L292.3 228.5L292.7 226.6L293.6 224.8L294.8 221.6L295.3 219.9L297.3 218.4L300.2 219.1L302.1 219.1L303.9 219.4L305.4 218.5L307.1 217.9L308.0 217.9L306.3 220.4L303.4 220.9L301.2 220.6L299.0 220.4L295.8 220.9L295.5 223.6L297.7 225.0L299.2 223.8L301.3 223.3L303.4 223.1L303.6 224.0L300.7 225.5L299.0 226.3L299.7 228.5L301.2 229.7L302.4 231.7L301.7 232.6L300.2 233.4L299.0 233.1L298.7 231.4L297.5 230.2L297.7 228.2L296.0 228.7L296.2 230.7L296.3 232.6L296.3 235.1L294.1 235.1M313.7 219.1L314.9 216.2L316.6 217.9L314.9 219.9L316.9 220.9L314.9 222.8L314.4 220.9L313.7 219.1M314.9 229.2L316.7 228.7L318.6 228.5L321.8 229.7L318.6 230.2L316.7 230.1L314.9 229.9L314.9 229.2M310.3 229.4L312.5 229.2L313.0 230.4L311.2 230.9L310.3 229.4M322.8 223.6L326.0 222.6L327.9 222.8L329.6 223.6L330.4 226.5L331.6 229.7L333.3 229.7L334.3 228.2L335.8 227.0L337.4 226.2L339.0 225.3L341.9 226.5L343.9 227.3L346.1 227.7L348.0 228.2L349.8 228.6L351.2 229.6L352.9 229.9L355.4 230.9L357.1 232.3L358.6 233.9L359.9 235.1L361.5 236.1L363.5 237.8L361.5 238.3L362.7 240.5L364.7 242.5L367.2 243.7L368.9 246.2L370.8 247.6L368.9 247.9L367.1 247.1L365.2 246.6L363.6 245.8L362.0 244.9L360.3 243.6L359.1 242.0L357.3 241.2L355.4 240.5L352.9 242.0L351.7 244.2L349.3 244.2L346.8 243.9L344.9 242.8L343.1 241.5L341.2 241.7L339.4 242.2L340.1 240.4L341.4 238.8L340.7 236.3L339.5 235.0L338.2 233.9L336.5 233.1L334.5 232.6L332.6 232.2L330.9 231.4L328.4 230.4L326.7 231.4L325.5 228.7L328.4 227.5L326.5 227.4L324.7 227.0L322.3 225.0L322.8 223.6M364.7 235.6L366.8 235.4L368.9 235.1L370.6 234.3L372.6 233.9L374.5 231.9L373.8 234.6L371.8 235.5L370.1 236.8L368.3 236.8L366.4 236.8L364.7 235.6M370.8 228.2L373.8 229.7L375.2 231.0L376.2 232.6L375.5 231.9L374.2 230.4L372.6 229.2L370.8 228.2M380.2 234.9L382.4 236.8L383.3 238.3L381.6 237.6L380.2 234.9M350.5 247.9L351.4 250.2L352.9 252.3L353.4 254.5L353.7 256.7L355.5 257.6L357.3 258.4L357.9 260.8L358.6 263.1L359.1 265.5L359.8 267.8L361.0 268.8L362.9 269.7L364.7 270.7L365.5 272.2L366.9 273.4L368.0 274.8L369.7 275.8L370.8 277.1L370.8 279.3L372.8 281.0L374.8 282.5L376.7 283.0L376.4 285.0L376.8 286.9L376.7 288.9L377.7 291.8L377.3 294.0L376.5 296.0L376.0 298.7L374.4 300.5L373.3 302.4L372.1 304.7L370.8 307.8L370.0 309.7L369.3 311.7L368.9 313.7L366.4 314.0L364.0 314.7L362.0 316.1L360.0 317.6L358.0 316.4L356.4 314.9L354.5 315.9L352.9 317.0L350.6 316.4L348.3 315.9L345.3 314.7L343.6 312.2L342.6 309.8L339.7 309.0L340.7 307.3L339.4 305.6L338.0 306.7L337.0 308.1L338.2 305.4L338.6 303.4L339.0 301.4L338.2 302.7L337.1 303.9L335.9 305.2L334.5 306.3L334.3 307.6L332.6 306.3L331.3 303.1L330.4 301.7L328.9 300.4L326.9 299.9L324.7 299.6L322.8 299.0L320.9 299.0L319.0 299.4L317.1 299.5L315.3 299.8L313.6 300.4L311.8 300.8L310.0 300.9L308.3 301.3L306.7 302.1L305.1 302.7L303.9 304.9L301.9 305.1L300.0 304.9L297.6 304.7L295.3 304.9L293.6 305.8L291.7 306.5L290.1 307.6L288.4 307.2L286.7 306.8L285.0 306.3L283.3 306.1L283.0 303.9L284.5 303.4L284.9 300.2L283.6 298.5L283.0 296.5L282.3 294.5L282.0 292.3L281.1 289.6L279.6 287.8L278.6 285.7L280.3 285.5L279.7 282.8L279.5 281.0L279.1 279.3L280.4 277.3L281.1 275.1L281.6 276.9L283.3 274.7L285.4 273.6L287.2 272.2L289.5 271.6L291.9 271.5L293.5 270.8L295.3 270.5L297.2 269.4L299.0 268.3L300.7 265.8L301.2 263.8L302.4 261.9L304.1 264.1L304.1 262.1L306.3 259.7L308.0 257.2L310.2 256.4L312.2 255.4L314.4 257.2L315.4 258.4L317.4 258.2L318.8 256.0L319.8 253.5L321.8 252.0L323.5 251.6L326.0 251.3L326.2 249.6L328.4 250.6L330.3 251.0L332.1 251.6L334.5 251.1L336.7 251.8L335.8 254.0L334.5 255.5L333.3 257.9L334.8 259.3L336.5 260.6L339.4 262.4L340.9 263.6L342.6 264.6L344.5 264.5L346.3 264.6L346.8 262.7L347.8 260.9L347.9 259.0L348.3 257.2L347.9 255.4L348.3 253.5L348.8 252.5L349.3 249.8L350.5 247.9M355.9 321.6L358.0 322.2L360.3 322.6L362.1 322.2L364.0 321.8L364.7 324.8L364.0 327.7L361.5 328.5L359.1 328.5L357.3 326.0L357.1 324.3L355.9 321.6M424.6 306.1L426.5 307.6L428.5 308.3L429.1 310.1L429.7 312.0L431.2 311.3L432.4 313.5L435.1 314.7L437.0 314.6L438.8 314.2L437.6 316.7L435.1 318.1L435.1 319.1L433.9 321.8L432.2 322.6L430.9 323.8L429.7 323.0L430.4 321.1L430.0 319.6L427.3 318.1L429.2 316.7L429.7 314.4L429.0 312.5L428.2 311.0L427.3 309.4L425.8 308.1L424.6 306.1M425.0 321.1L425.8 322.8L428.2 322.3L428.0 324.0L427.0 325.7L424.8 328.0L425.5 329.2L423.3 329.7L421.1 330.4L419.9 333.6L419.7 334.3L417.0 336.1L413.8 336.1L411.8 335.1L409.3 334.3L410.1 332.1L411.6 330.9L413.0 329.7L414.9 329.1L416.7 328.5L418.3 327.6L419.9 326.7L420.9 325.7L421.6 324.0L423.1 321.8L425.0 321.1M403.2 271.0L404.9 272.2L406.9 273.2L408.8 274.7L410.6 276.4L409.3 276.4L407.7 275.1L405.7 274.2L404.5 272.9L403.2 271.7L403.2 271.0M435.8 264.6L438.8 264.3L439.0 266.1L436.1 266.3L435.8 264.6M439.5 262.1L442.5 261.4L442.0 262.9L439.5 263.1L439.5 262.1M501.3 174.9L503.8 173.7L503.3 172.2L501.6 172.0L501.3 174.9M499.6 170.2L501.3 170.5L500.4 171.0L499.6 170.2M495.9 168.8L497.2 169.0L496.4 169.3L495.9 168.8M492.3 167.3L493.2 167.3L492.7 167.8L492.3 167.3M471.7 60.4L473.6 59.6L475.6 59.0L477.6 58.6L479.7 58.3L481.7 58.0L484.2 58.4L486.6 59.2L487.8 58.2L486.0 57.6L484.2 57.0L482.4 56.1L480.5 55.3L478.6 54.9L476.8 54.1L474.8 53.8L476.3 52.3L478.3 51.8L480.3 51.3L482.1 50.5L484.2 50.1L486.9 48.9L488.6 48.4L490.4 48.3L492.2 48.1L494.0 47.7L496.1 47.4L498.1 46.9L500.1 46.4L501.8 46.7L503.6 46.8L505.3 47.0L507.0 47.2L508.7 47.4L510.6 47.5L512.4 47.7L514.3 48.0L516.1 48.4L517.9 48.7L519.7 48.9L521.5 48.8L523.1 49.4L524.9 49.2L526.6 49.7L528.3 49.6L530.3 50.0L532.3 49.8L534.2 50.3L536.1 50.6L538.1 50.6L540.6 50.7L543.0 50.9L545.5 51.5L547.9 52.1L550.3 51.3L552.8 50.9L555.3 51.1L557.8 51.0L559.7 50.8L561.4 50.1L563.3 49.8L565.1 49.4L567.5 48.6L570.0 48.2L571.5 49.2L573.3 49.9L574.9 50.9L577.4 49.6L578.1 49.1L580.2 50.1L582.3 51.1L584.1 51.0L586.0 50.9L587.8 51.0L589.6 51.1L591.5 51.3L593.3 51.7L595.2 52.0L597.0 52.3L598.6 53.2L600.1 54.1L601.9 54.8L603.8 54.7L605.6 55.2L607.4 55.2L609.3 55.3L611.1 55.1L612.9 55.2L614.8 55.1L616.6 55.3L619.1 57.2L621.5 55.0L624.0 55.0L626.4 54.5L628.3 54.8L630.1 55.0L632.0 54.8L633.8 55.0L635.5 55.1L637.2 54.9L638.9 54.9L640.7 55.0L642.4 55.0L644.8 53.3L646.7 53.7L648.5 54.0L649.7 55.8L649.2 53.9L648.5 52.1L650.4 51.6L652.2 50.9L650.4 49.5L648.5 48.4L647.3 46.4L648.9 45.9L650.5 45.2L652.2 44.7L654.1 45.9L655.9 47.2L657.1 48.4L658.3 49.6L659.5 50.9L661.2 52.0L663.2 52.8L665.0 53.2L666.5 54.0L668.1 54.5L670.6 56.3L671.8 55.8L673.7 54.2L675.5 52.6L674.3 50.9L676.7 50.1L678.8 50.1L680.8 50.2L682.8 50.4L684.1 53.3L682.8 55.8L681.7 57.3L680.4 58.7L677.9 58.7L675.5 58.2L672.5 58.2L673.0 59.5L670.6 61.2L669.1 62.4L668.1 63.9L665.7 64.4L663.2 64.6L661.6 65.6L659.8 66.3L658.3 67.3L656.4 68.9L654.6 70.5L653.6 72.4L652.2 74.2L652.9 77.1L655.9 77.4L656.2 79.5L657.1 81.6L659.1 81.4L661.2 81.8L663.2 81.6L665.8 82.0L668.1 82.8L670.0 83.4L671.9 84.2L673.8 84.8L675.5 85.7L677.7 85.9L679.9 86.3L682.1 86.2L682.2 87.9L682.3 89.7L682.1 91.4L683.9 92.5L685.3 93.8L686.5 95.6L688.4 95.4L690.2 95.1L690.7 92.6L690.1 90.8L690.2 88.9L689.0 87.2L690.7 86.7L692.2 85.8L693.9 85.2L695.8 82.8L695.1 80.3L693.1 78.9L691.4 77.1L692.9 75.8L693.9 74.2L693.2 72.4L692.7 70.5L692.7 68.3L694.7 68.6L696.8 68.3L698.8 68.5L700.9 68.8L702.9 69.4L704.9 69.8L706.7 70.6L708.6 71.2L710.4 71.6L712.3 71.7L713.5 74.2L713.5 77.1L715.3 77.5L717.2 77.9L719.6 77.2L722.1 76.6L723.2 75.0L724.5 73.5L725.8 73.2L726.7 74.7L728.4 75.7L729.5 77.1L730.8 78.7L731.9 80.3L733.6 82.8L735.3 84.3L736.8 86.0L738.3 86.8L740.0 87.2L741.7 87.7L742.9 89.7L744.8 90.5L746.6 91.4L747.4 93.4L745.4 95.1L742.9 95.3L740.5 95.8L738.7 97.1L736.8 98.3L734.4 98.2L731.9 98.3L729.4 98.2L727.0 98.0L725.0 98.0L723.1 98.3L721.1 98.3L718.9 100.5L716.0 101.5L714.4 102.4L713.0 103.4L711.6 105.0L709.8 106.4L712.3 105.4L714.3 104.2L716.0 102.7L718.0 102.1L719.9 101.2L722.1 100.7L724.2 101.0L726.3 101.5L725.0 103.4L722.1 103.7L724.5 104.9L724.8 106.6L725.8 108.1L728.2 108.8L730.1 109.0L731.9 109.1L733.4 109.6L734.6 107.8L736.1 106.1L737.3 108.6L734.4 110.3L731.9 111.0L729.9 111.5L728.0 112.0L726.4 113.3L724.5 114.2L723.1 115.0L721.8 114.0L722.6 112.0L724.2 111.2L725.8 110.3L725.0 109.3L721.8 110.5L719.6 111.3L717.9 112.2L716.0 112.8L714.1 113.4L712.3 114.0L710.6 116.0L709.8 117.7L710.8 118.7L712.3 118.3L712.3 119.1L710.6 119.4L708.8 119.6L706.2 120.1L703.2 121.1L705.3 121.2L707.4 120.9L704.9 121.9L702.5 121.9L702.5 122.3L702.0 124.6L700.3 126.0L698.8 124.8L699.8 126.5L699.5 128.2L697.8 130.4L696.8 128.2L696.6 125.3L696.3 127.7L696.8 130.7L697.8 131.7L698.6 133.3L698.8 135.1L696.3 136.6L693.9 137.3L692.7 138.3L690.2 139.8L688.0 141.0L685.3 143.0L684.6 144.9L684.3 146.9L684.8 148.5L685.6 150.1L686.5 151.6L687.2 153.8L687.8 156.0L687.5 158.2L686.8 159.7L685.1 159.9L683.3 157.5L682.1 155.5L681.1 153.5L680.9 150.3L678.7 148.1L677.2 147.9L675.5 148.9L673.8 147.6L672.0 147.3L670.1 147.2L668.1 147.2L665.7 147.2L664.2 147.6L664.7 149.1L665.4 150.3L664.7 150.5L663.2 150.1L660.8 149.9L658.3 149.1L656.1 148.8L653.9 148.6L651.5 149.6L649.8 150.4L648.5 151.6L647.2 152.7L645.6 153.5L645.5 155.8L645.6 158.0L644.7 159.6L644.3 161.4L644.2 163.2L643.8 165.0L644.1 166.8L644.5 168.7L645.6 170.5L647.0 172.4L648.3 174.4L651.0 176.1L652.4 177.0L654.1 176.6L655.9 176.4L658.8 175.9L660.6 174.5L662.0 172.9L662.2 170.5L663.2 169.5L664.2 169.3L666.2 169.1L668.1 168.5L670.3 168.5L671.3 169.8L669.6 172.0L669.4 174.2L668.1 176.1L667.6 178.6L666.9 181.8L665.9 182.5L666.9 183.0L669.4 182.8L671.1 182.8L673.0 182.3L675.5 182.5L677.9 183.3L679.9 184.7L679.4 187.2L679.2 189.0L679.2 190.9L678.7 192.1L678.7 194.6L679.2 195.8L680.4 197.0L682.4 199.0L684.1 200.0L685.8 199.7L688.0 198.6L690.2 198.1L692.7 198.7L694.4 200.5L695.6 201.9L696.3 199.7L698.5 198.3L698.8 196.0L700.5 194.6L702.0 193.8L704.9 193.6L706.9 192.4L708.4 191.0L709.3 192.1L707.6 193.3L708.4 194.8L709.8 194.6L711.8 193.1L712.3 191.6L712.8 193.3L714.5 194.1L716.2 194.8L717.2 195.8L719.9 195.5L721.8 195.5L723.8 196.8L725.8 196.5L728.2 195.5L730.1 195.6L731.9 195.3L730.4 196.5L733.1 197.5L734.8 199.5L736.8 200.7L739.3 201.9L740.0 203.5L741.2 204.9L743.7 206.8L746.1 206.8L748.6 207.1L751.5 207.3L753.7 208.4L755.7 209.6L757.7 211.0L758.9 214.2L760.1 216.7L761.3 219.1L760.6 221.1L763.8 222.1L765.0 222.3L766.2 223.3L768.7 223.3L770.5 224.0L772.4 224.8L774.6 227.0L775.3 227.7L777.3 227.5L779.1 228.1L781.0 228.5L783.4 228.7L785.9 228.6L787.7 229.7L789.5 230.7L790.8 232.1L792.5 233.1L794.5 234.1L797.4 234.4L797.6 235.8L798.6 239.0L798.4 241.5L797.2 243.4L796.4 245.4L794.8 246.9L793.2 248.4L792.1 250.1L790.6 251.7L789.5 253.5L788.3 256.0L788.3 257.9L788.3 260.0L788.3 262.1L787.8 265.1L786.6 267.0L786.4 269.7L785.1 271.5L784.4 273.1L783.4 274.7L783.4 275.6L781.0 277.8L778.0 278.1L776.2 278.3L774.6 278.8L772.5 279.7L770.4 280.5L768.6 281.8L766.7 283.0L765.0 284.2L764.8 287.4L765.0 289.4L764.3 291.8L762.1 293.6L760.6 296.5L758.4 299.0L756.2 300.7L754.5 302.5L753.0 304.4L751.5 306.3L749.3 307.4L746.1 307.3L744.2 306.7L742.2 306.3L740.7 305.1L740.7 306.6L742.1 307.8L743.7 308.8L743.4 310.5L744.9 310.8L744.3 312.9L742.9 314.9L740.0 316.4L738.1 316.6L736.2 317.0L734.4 317.4L731.4 317.1L731.2 319.1L731.7 321.1L729.5 322.6L727.0 322.4L724.5 322.3L724.5 324.8L726.2 325.5L728.0 326.0L724.8 326.7L724.1 328.5L723.8 331.6L721.8 332.2L719.9 332.9L718.4 334.3L718.2 335.8L720.9 337.3L722.3 338.8L720.5 340.3L718.9 342.0L717.8 343.4L716.5 344.7L714.7 346.9L714.2 348.3L716.2 350.1L713.5 350.6L711.7 351.3L710.1 352.3L709.1 354.0L706.2 353.0L703.7 351.3L700.8 350.6L700.1 348.7L699.5 346.9L699.1 345.0L698.8 343.2L699.0 341.3L698.5 339.5L698.8 336.6L699.9 335.3L701.2 334.1L702.5 330.9L703.7 328.5L705.4 326.0L704.9 323.5L703.0 322.3L703.2 319.9L703.9 319.4L704.1 317.1L703.7 314.9L704.4 312.0L705.3 310.4L705.9 308.8L706.4 307.2L707.7 305.8L708.1 304.1L708.4 302.7L708.4 300.2L708.6 297.7L708.8 295.0L709.3 292.7L709.8 290.4L710.4 287.9L710.6 285.5L710.8 283.5L710.9 281.5L711.3 279.6L711.4 277.4L711.6 275.3L711.8 273.2L711.8 271.2L711.5 269.1L711.5 267.0L710.3 265.6L708.8 264.3L707.3 263.4L705.7 262.6L704.1 261.6L702.5 260.6L699.5 259.2L698.2 257.2L697.1 255.2L695.9 253.2L694.9 251.1L693.4 248.6L692.2 246.2L691.2 243.9L690.0 241.5L689.1 240.0L688.0 238.5L686.8 237.2L685.1 236.3L684.6 233.1L685.5 230.9L686.8 230.2L688.0 228.0L686.8 228.0L685.3 227.0L685.8 224.0L687.5 221.6L687.5 219.6L688.7 219.1L690.7 217.9L690.7 217.2L693.4 215.2L693.9 213.5L694.9 212.0L694.5 210.0L693.9 208.1L694.1 205.4L692.9 203.9L691.7 201.9L692.4 201.0L691.4 199.5L689.0 199.5L687.8 201.2L686.8 203.4L685.8 203.9L683.6 202.9L682.1 201.2L680.6 201.7L678.7 200.7L678.9 199.5L676.2 198.0L675.2 198.0L673.5 196.3L673.8 194.3L671.8 192.1L670.4 191.0L669.4 189.7L666.9 189.2L665.1 188.5L663.2 188.2L661.4 187.7L659.5 187.2L657.6 185.7L656.0 184.4L654.6 183.0L652.2 181.8L650.5 182.6L648.5 183.0L646.7 182.7L644.8 182.5L642.8 181.9L641.0 180.9L638.9 180.2L636.9 179.3L635.0 178.4L633.3 177.4L630.1 176.6L628.1 174.7L626.8 173.5L625.2 172.5L624.7 171.5L625.7 170.7L625.2 168.8L624.1 166.7L623.0 164.6L621.1 163.1L619.6 161.4L618.2 160.1L616.6 158.9L615.6 158.7L614.7 156.0L613.3 154.5L612.0 153.0L610.4 151.6L608.8 150.3L607.6 148.6L606.8 146.7L605.6 144.7L602.4 143.5L602.6 145.7L603.7 147.2L604.8 148.7L605.6 150.3L607.3 152.8L609.3 155.3L611.0 157.7L612.4 160.7L613.4 162.1L614.9 163.1L614.4 165.3L613.4 163.9L612.2 162.5L610.5 161.4L608.8 158.9L608.5 157.2L606.1 155.8L603.1 154.8L601.7 153.2L603.9 152.3L603.1 150.3L601.6 149.2L600.2 147.9L598.7 145.4L597.7 143.5L596.5 141.3L594.8 140.1L593.6 138.6L591.6 137.7L588.4 136.8L587.9 135.1L586.4 133.4L585.0 131.7L583.5 128.7L582.3 128.2L581.6 126.5L580.3 125.0L578.8 122.3L579.6 119.6L578.9 118.0L578.5 116.3L579.3 114.3L579.6 112.3L579.5 110.1L579.8 108.0L579.6 106.1L579.0 104.4L578.1 102.7L581.1 103.3L583.5 104.9L583.5 102.4L581.8 100.5L578.6 99.2L576.1 97.5L574.4 96.8L572.5 96.5L570.5 94.8L570.0 92.6L568.6 91.5L567.6 90.2L566.0 89.1L564.4 88.2L563.9 86.5L562.4 85.5L560.7 85.0L559.3 83.8L557.8 82.8L556.5 81.4L555.0 80.2L554.1 78.6L551.6 78.1L548.9 78.6L547.1 77.8L545.5 76.6L543.4 76.1L541.3 75.4L539.2 74.7L536.9 74.2L534.9 74.1L532.8 74.2L530.8 74.2L528.7 73.5L526.6 73.0L523.4 71.7L521.7 72.9L520.2 74.2L517.5 74.3L515.6 75.3L513.6 76.2L511.4 76.2L512.4 75.2L512.9 72.5L516.1 71.2L514.2 71.3L512.4 71.7L509.9 73.7L507.5 75.4L505.7 77.1L505.0 78.9L502.8 79.8L500.6 80.8L498.9 81.6L497.2 82.3L495.7 83.3L493.7 84.1L491.5 84.8L489.1 85.5L486.6 86.2L484.9 86.6L483.2 87.0L481.4 87.2L479.7 87.7L480.5 86.5L483.0 86.1L485.4 85.2L487.9 84.8L490.3 84.0L491.9 83.1L493.6 82.4L495.2 81.6L496.1 79.8L497.7 78.4L498.9 77.4L497.0 77.2L495.2 77.1L493.4 77.5L491.5 77.4L489.8 77.4L488.1 77.3L486.4 77.5L487.1 75.4L485.4 74.2L483.0 73.4L480.5 73.0L478.5 70.5L478.0 68.1L480.5 66.6L482.4 66.2L484.2 65.6L486.6 65.7L489.1 65.6L489.1 63.1L487.2 63.3L485.4 63.1L483.6 63.0L481.8 62.9L480.1 63.1L478.3 63.1L475.6 62.2L473.7 61.2L471.7 60.4M776.3 74.7L775.0 73.3L772.5 73.7L771.2 72.5L769.1 72.0L767.3 70.9L765.0 71.0L762.5 70.0L761.3 68.1L759.2 67.1L758.5 65.3L757.2 63.9L756.0 62.3L755.2 60.7L753.3 59.2L752.3 57.2L752.8 54.5L755.0 53.8L756.5 52.2L758.9 51.6L756.4 49.6L754.7 48.5L752.2 48.8L750.3 47.9L750.3 44.7L748.4 43.8L746.6 42.7L744.9 41.6L744.7 39.7L742.9 38.6L742.2 37.1L740.5 36.1L738.8 35.7L737.1 35.1L735.4 34.9L733.5 35.1L731.9 34.4L729.9 34.1L728.0 34.9L726.0 34.9L724.0 34.4L722.1 34.9L720.3 34.6L718.4 34.2L716.5 34.2L714.7 33.7L712.8 33.2L711.2 32.3L709.8 31.2L708.1 30.9L706.3 30.5L704.9 29.5L707.4 27.5L709.2 26.8L711.3 26.6L713.0 25.4L715.3 25.6L717.2 25.1L719.0 24.5L720.9 24.2L722.9 24.0L724.5 23.1L726.3 22.4L728.2 22.2L730.2 21.9L731.9 21.1L733.9 21.1L735.9 20.9L737.9 20.5L739.7 19.5L741.7 19.7L743.5 19.7L745.3 19.4L747.1 19.4L748.9 19.6L750.6 19.4L752.4 18.7L754.2 18.9L756.0 19.0L757.8 18.8L759.5 18.5L761.3 18.9L763.1 18.7L764.9 18.7L766.6 18.6L768.3 18.0L770.1 18.2L771.9 18.4L773.6 17.9L775.3 17.1L777.2 18.3L778.9 17.9L780.6 17.6L782.3 16.7L784.1 17.0L785.9 17.0L787.7 17.2L789.5 16.8L791.2 16.1L793.1 16.7L794.9 16.5L796.7 16.4L798.5 16.6L800.3 16.4L802.1 16.2L803.9 16.7L805.9 16.2L807.8 16.1L809.6 17.3L811.6 16.4L813.4 16.7L815.3 17.0L817.2 17.4L819.2 17.8L821.2 17.7L823.0 18.5L825.1 18.2L827.2 18.2L829.2 18.6L831.0 19.2L832.9 19.9L834.9 20.1L836.8 20.3L838.5 21.0L840.3 21.7L842.3 21.4L844.2 21.6L846.2 20.8L848.1 20.9L850.0 22.1L851.9 21.3L853.8 22.1L855.8 21.6L853.8 22.6L851.4 22.5L849.6 23.8L848.0 24.4L846.0 23.9L844.5 24.8L842.8 25.4L841.1 25.6L839.1 26.6L837.4 28.0L835.7 29.4L834.9 31.2L836.5 32.7L838.6 33.7L838.1 35.3L836.2 36.1L834.9 38.6L833.8 40.0L832.1 40.8L830.0 41.0L830.0 44.2L830.9 46.3L830.0 48.4L828.1 48.9L826.6 49.8L825.1 50.9L822.9 51.5L821.1 52.6L819.0 53.3L817.2 53.3L815.5 53.5L813.8 53.7L812.0 53.7L810.4 54.3L808.5 54.6L806.9 55.6L805.0 56.1L803.0 56.3L801.1 56.9L799.7 58.4L798.0 59.3L795.7 59.5L793.7 60.0L791.8 60.4L789.6 60.5L788.0 61.9L785.9 61.9L784.7 63.8L783.4 65.6L782.4 66.9L781.5 68.4L779.7 69.3L779.2 71.1L778.5 73.0L776.3 74.7M675.7 167.8L677.9 165.8L680.0 165.3L681.9 164.6L684.2 164.8L686.5 164.8L688.4 165.7L690.2 166.6L692.0 167.4L693.9 168.0L696.2 169.1L698.3 170.5L700.1 171.3L702.0 172.0L698.8 172.7L697.0 172.6L695.2 172.6L693.4 172.8L694.6 171.2L691.4 170.0L689.5 169.3L687.8 168.3L684.8 167.3L682.8 166.3L681.0 166.8L679.2 167.1L677.5 167.6L675.7 167.8M701.5 175.9L703.7 176.6L706.6 176.9L708.6 178.1L711.1 176.6L712.9 176.6L714.7 176.4L716.2 175.9L715.0 174.9L712.5 173.2L710.3 172.9L708.1 172.9L705.4 172.7L703.9 172.9L705.4 174.7L706.4 175.9L703.7 175.9L701.5 175.9M691.9 176.6L695.1 176.3L696.8 177.4L695.1 177.9L691.9 176.6M719.2 176.4L721.1 176.3L723.1 176.6L722.1 177.5L719.2 177.4L719.2 176.4M732.2 195.3L734.4 195.1L734.4 196.8L732.2 196.8L732.2 195.3M738.5 104.7L740.1 103.1L741.0 101.2L742.2 99.4L743.2 97.5L745.3 96.4L746.9 94.8L747.9 97.5L745.4 99.2L747.2 99.4L749.1 99.7L750.8 100.4L752.8 100.5L754.0 102.4L754.0 104.7L754.7 104.8L753.7 107.0L751.5 106.4L751.0 104.4L749.1 105.0L747.9 106.4L747.4 104.7L745.2 104.4L742.9 104.7L740.7 104.4L738.5 104.7M726.0 106.6L727.8 107.0L729.5 107.6L731.9 107.6L730.7 108.6L728.9 108.0L727.0 107.8L726.0 106.6M725.8 99.0L728.3 99.2L730.7 99.7L732.6 101.0L730.4 100.6L728.2 100.5L725.8 99.0M569.0 96.8L571.3 97.4L573.7 97.8L575.5 98.6L577.4 99.2L579.0 100.9L581.1 102.2L580.3 102.9L578.2 102.2L576.1 101.5L574.5 100.6L573.0 99.7L570.0 98.0L569.0 96.8M557.8 88.7L560.9 88.9L561.5 91.2L562.2 93.4L560.6 92.4L559.0 91.4L557.8 88.7M505.0 80.3L506.7 79.5L508.7 79.1L510.7 80.3L507.5 81.6L505.0 80.3M479.3 87.5L481.1 87.0L482.9 86.7L480.5 87.9L479.3 87.5M471.9 90.7L473.8 90.1L475.6 89.2L474.4 90.4L471.9 90.7M462.8 65.6L464.9 65.3L467.0 65.3L469.4 66.3L467.6 66.4L465.8 66.1L462.8 65.6M473.6 73.9L476.8 73.5L477.5 74.4L474.4 74.7L473.6 73.9M663.0 43.2L665.5 42.1L667.1 40.3L669.1 40.0L671.1 40.6L673.0 39.8L675.0 39.8L677.0 39.8L678.9 40.8L680.8 40.7L682.9 39.4L684.8 40.3L686.6 40.3L688.3 41.3L690.3 39.9L691.9 41.5L693.8 41.0L695.6 41.3L697.3 42.3L699.5 42.6L701.0 43.8L702.7 44.8L704.7 45.4L706.6 46.2L708.4 47.0L710.6 46.9L712.5 47.4L714.3 48.6L716.5 49.3L718.4 50.4L719.7 51.5L721.7 51.7L723.6 52.1L724.6 53.6L726.3 54.3L727.9 55.1L729.6 55.9L731.4 56.5L733.1 57.2L732.0 58.8L729.3 58.6L728.2 60.2L726.3 59.7L724.3 59.2L722.3 58.6L720.7 57.4L718.4 57.2L716.5 57.9L714.5 58.2L715.9 59.2L717.2 60.3L719.6 60.1L720.3 62.0L722.3 62.2L724.1 63.4L726.3 64.1L725.5 66.1L724.3 68.1L722.4 67.3L720.8 65.9L718.4 66.1L716.4 65.7L714.2 65.7L712.3 65.2L710.6 64.1L708.7 63.4L707.0 62.1L704.7 62.2L702.6 62.0L700.5 61.7L698.5 62.6L696.7 61.9L694.5 63.2L692.7 62.2L694.1 60.7L695.6 59.2L697.1 58.1L699.1 59.0L700.8 58.8L702.5 58.2L704.1 57.0L704.7 55.3L703.2 53.3L700.5 52.3L698.4 52.0L696.3 51.5L694.6 50.4L692.5 50.0L690.6 49.2L688.7 48.4L686.6 48.8L684.7 48.0L682.8 47.4L681.0 47.2L679.5 48.1L677.7 48.3L676.0 48.4L673.6 47.8L671.1 47.4L669.2 47.0L667.6 46.1L665.9 45.4L664.0 44.7L663.0 43.2M670.6 61.4L673.0 60.6L675.5 59.9L677.1 61.1L679.2 61.4L681.0 62.5L683.0 63.1L685.3 63.1L686.5 65.1L684.5 65.1L682.5 64.4L680.4 64.6L678.3 65.0L676.3 65.5L674.3 66.1L672.2 65.9L670.6 64.9L673.0 63.1L670.6 61.4M592.1 45.4L593.9 44.3L595.3 42.9L597.0 41.8L598.6 41.0L600.6 41.3L602.1 40.2L603.9 39.9L605.8 40.3L607.7 41.2L609.6 41.4L611.8 40.1L613.7 41.2L615.6 41.3L617.8 41.5L619.3 39.8L621.7 40.6L623.5 39.8L625.4 41.3L627.4 42.7L628.1 44.6L628.4 46.4L630.3 46.8L631.6 48.1L633.5 48.4L635.2 49.2L636.5 50.4L635.3 51.8L633.5 52.8L631.6 53.5L629.4 53.0L627.4 53.2L625.5 53.8L623.7 55.2L621.1 55.6L619.6 57.2L617.6 56.2L615.6 55.3L613.6 55.7L611.8 54.4L609.7 55.3L607.8 54.8L606.1 54.5L604.4 53.9L602.9 52.9L600.9 53.3L600.0 51.8L598.6 50.5L597.0 49.4L595.0 48.4L593.1 47.4L592.1 45.4M574.2 43.7L574.4 41.9L575.5 40.5L577.1 39.3L578.7 38.6L580.5 38.4L582.2 38.0L584.0 37.8L585.7 38.4L587.7 37.9L589.4 38.6L591.3 38.3L593.1 38.8L594.7 40.1L597.0 40.3L595.1 40.8L593.5 41.7L592.1 42.7L590.0 44.1L587.9 45.4L586.3 46.1L584.5 46.1L582.8 46.3L581.1 45.9L579.4 45.2L577.5 45.1L575.8 44.5L574.2 43.7M631.6 42.3L633.4 41.4L635.0 40.4L636.5 39.3L638.2 40.6L640.4 41.3L639.6 43.3L639.4 45.4L637.5 44.9L635.5 45.6L633.5 45.4L632.3 44.0L631.6 42.3M642.4 38.3L644.2 37.4L646.2 37.4L648.3 37.3L650.3 39.1L651.2 41.3L649.5 43.2L648.3 45.4L645.7 45.2L643.4 44.2L642.8 42.3L641.9 40.4L642.4 38.3M640.4 50.4L642.3 49.7L644.4 50.0L646.3 49.4L648.1 50.2L649.2 51.8L651.2 52.3L649.2 54.0L648.3 56.3L646.4 55.4L644.5 54.7L642.4 54.3L640.9 52.5L640.4 50.4M626.4 29.2L628.2 29.9L630.2 29.1L631.9 30.1L633.8 29.9L635.6 30.0L637.4 30.7L639.2 30.8L641.1 30.5L642.4 28.0L640.5 27.8L638.6 28.0L636.9 27.3L635.0 27.4L633.2 26.9L631.3 26.8L629.8 27.7L628.1 28.5L626.4 29.2M685.3 41.0L687.1 41.0L689.0 41.1L690.8 40.9L692.7 40.8L695.0 41.7L697.6 42.3L695.5 42.6L693.5 42.4L691.4 42.7L689.4 42.1L687.4 41.5L685.3 41.0M715.7 350.8L713.4 351.3L711.1 351.3L712.3 353.3L709.8 354.2L707.4 355.0L708.7 356.1L710.6 356.2L712.3 356.7L714.7 357.3L717.2 357.7L719.0 357.3L720.9 357.2L724.1 356.0L720.9 355.0L718.9 354.2L717.2 353.0L715.7 350.8M733.9 348.1L736.0 347.9L738.0 347.6L740.1 348.1L742.2 348.3L739.8 350.1L737.7 350.2L735.6 349.8L733.9 348.1M702.0 324.5L703.7 324.8L703.7 328.0L701.5 328.0L701.4 326.2L702.0 324.5M790.8 354.2L792.6 354.7L794.5 354.7L796.2 356.2L793.2 355.5L790.8 354.2M169.5 342.0L171.7 342.2L173.9 342.2L173.4 343.7L170.2 343.7L169.5 342.0M882.5 395.8L884.0 395.6M0.9 395.6L1.4 395.5L3.2 395.1L5.0 394.8L6.9 394.6L8.7 394.0L10.6 393.7L12.5 393.6L14.2 393.7L15.9 393.4L17.6 393.4L19.3 393.6L21.1 393.3L22.8 393.5L24.5 393.7L26.2 393.7L27.9 393.6L29.7 393.2L31.5 393.2L33.3 393.1L35.1 392.8L36.9 392.6L38.7 392.6L40.6 393.0L42.5 393.2L44.3 393.8L46.2 394.0L48.1 394.4L50.0 394.8L51.9 394.8L53.7 394.6L55.6 394.9L57.5 394.6L59.4 394.5L61.2 394.6L63.1 394.8L65.0 394.8L66.5 394.1L68.4 394.0L70.0 393.3L71.7 392.8L73.4 392.2L75.0 391.6L76.8 391.4L78.4 390.7L80.2 390.4L83.4 391.6L85.1 391.7L86.8 391.9L88.5 392.1L90.2 392.1L92.0 392.1L93.7 392.4L95.4 392.6L97.0 391.9L98.7 391.6L100.4 390.9L101.9 390.2L103.7 389.9L105.4 389.4L106.9 388.6L108.6 388.1L110.3 387.5L112.1 387.1L114.1 387.0L115.8 386.2L117.6 385.8L119.4 385.4L121.1 384.6L122.9 383.9L124.8 383.4L126.5 382.5L128.2 381.8L130.0 382.0L131.7 382.0L133.4 381.9L135.1 382.1L136.8 382.2L137.9 383.9L139.0 385.4L140.9 385.7L142.8 385.6L144.7 385.7L146.6 385.8L148.5 386.3L150.4 386.3L152.3 386.4L154.1 386.5L156.0 386.8L157.8 386.5L159.6 387.0L161.5 386.9L163.3 386.8L165.2 387.0L167.0 387.2L168.8 387.0L170.7 387.2L170.2 388.9L169.9 390.8L169.7 392.6L168.1 394.0L166.9 395.5L165.8 397.2L164.4 398.7L163.1 400.2L164.8 399.3L166.8 398.8L168.5 398.0L170.3 396.8L172.1 395.7L174.1 394.8L175.8 394.1L177.6 393.5L179.5 393.1L181.4 392.9L183.0 392.0L184.9 391.6L186.7 390.9L188.5 390.3L190.4 389.8L192.3 389.4L194.1 388.7L195.9 388.1L197.9 387.8L199.7 387.2L201.6 386.9L203.4 386.3L205.3 386.1L207.0 385.3L208.9 385.0L210.7 384.6L212.5 384.7L214.1 384.2L215.9 384.0L217.6 384.0L219.4 383.9L221.1 383.6L222.9 383.7L224.6 383.3L226.4 383.2L228.2 383.2L229.9 382.8L231.7 382.6L233.5 382.8L235.3 382.5L237.1 382.6L238.8 382.3L240.6 382.0L242.4 382.2L244.2 381.8L246.0 381.8L248.1 381.1L250.4 381.0L252.6 380.5L254.4 381.1L256.1 381.6L258.0 382.0L259.7 382.6L261.4 383.2L263.2 383.1L265.0 383.2L266.8 382.9L268.6 383.1L270.4 382.9L272.2 382.7L274.1 383.1L275.8 383.7L277.5 384.3L279.3 385.0L281.1 385.4L282.9 385.3L284.8 385.4L286.6 385.4L288.5 385.9L290.3 386.0L292.2 386.0L294.1 385.9L296.0 385.7L297.9 385.6L299.8 385.4L301.7 385.3L303.6 384.9L305.5 384.7L307.4 384.5L309.3 384.2L311.3 385.3L313.7 385.9L315.3 385.1L317.0 384.6L318.6 383.9L320.3 383.2L322.2 383.5L324.0 383.3L325.9 383.3L327.7 383.7L329.6 383.5L331.4 383.9L333.3 383.7L335.1 384.0L336.9 383.9L338.7 384.3L340.5 384.5L342.3 384.6L344.1 385.0L346.0 385.2L347.7 385.8L349.5 386.3L351.4 386.5L353.3 386.9L355.1 387.2L356.9 387.3L358.6 387.8L360.2 388.1L362.0 388.4L363.7 388.5L365.5 388.4L367.1 389.1L368.8 389.3L370.6 389.4L372.5 389.5L374.4 389.6L376.2 389.9L378.0 390.5L379.9 390.7L381.7 390.9L383.6 391.1L385.2 391.5L387.0 391.7L388.6 392.2L390.4 392.3L392.0 392.9L393.7 393.0L395.5 393.2L397.2 393.5L398.8 394.0L400.7 394.1L402.5 394.3L404.3 395.0L406.1 395.2L408.0 395.4L409.8 395.5L411.6 395.8L413.2 396.4L415.0 396.7L416.8 396.9L418.4 397.5L416.8 399.4L415.2 401.4L413.5 401.5L411.8 401.9L410.1 402.2L408.4 402.7L406.7 403.0L405.0 403.2L403.2 403.4L401.3 403.9L399.4 404.5L397.5 404.9L395.6 405.6L396.7 407.0L397.9 408.5L398.8 410.0L400.7 410.1L402.4 410.8L404.3 411.1L406.2 411.1L408.0 411.3L409.8 411.7L407.9 412.0L406.2 412.8L404.4 413.2L402.5 413.7L400.6 414.0L398.8 414.4L397.0 415.0L395.2 415.5L393.6 416.3L391.9 416.9L390.2 417.6L391.9 418.9L393.4 420.3L394.9 421.7L396.6 423.0L398.4 423.0L400.1 423.5L401.9 423.9L403.6 424.1L405.4 424.3L407.2 424.1L408.9 424.8L410.7 425.0L412.5 425.1L414.3 425.2L416.1 425.5L417.9 425.6L419.7 425.8L421.5 426.1L423.4 426.1L425.2 426.2L426.9 426.7L428.8 426.7L430.6 427.0L432.4 427.3L434.2 427.3L436.1 427.5L437.9 427.8L439.6 428.1L441.5 428.2L443.3 428.4L445.1 428.6L446.9 428.4L448.7 428.4L450.5 428.5L452.3 428.4L454.1 428.5L455.9 428.7L457.7 428.9L459.6 428.6L461.4 428.9L463.1 428.9L464.9 429.1L466.7 428.8L468.4 429.2L470.2 429.2L471.9 428.9L473.7 428.9L475.5 429.4L477.2 429.0L479.0 429.1L480.8 429.3L482.5 429.2L484.3 429.3L486.0 429.6L487.8 429.4L489.6 429.7L491.3 429.4L493.1 429.5L494.9 429.5L496.6 429.5L498.4 429.7L496.6 429.4L494.8 429.4L493.0 429.3L491.2 429.2L489.5 429.1L487.7 428.9L485.9 428.5L484.1 428.5L482.3 428.6L480.6 428.1L478.8 428.2L481.0 426.5L482.3 424.3L483.2 422.0L482.4 420.0L481.2 418.0L480.5 415.9L482.4 415.5L484.4 415.2L486.4 414.9L488.0 414.2L489.5 413.4L491.3 413.0L492.9 412.3L494.5 411.6L496.2 411.0L497.9 411.5L499.7 412.0L501.6 412.1L503.2 412.9L505.0 413.2L507.2 412.1L509.2 410.7L510.9 410.3L512.7 409.9L514.4 409.5L516.3 409.5L518.0 409.0L519.8 408.7L521.5 408.0L523.4 408.0L525.1 407.5L526.8 407.1L528.6 406.7L530.4 406.7L532.1 406.2L533.8 405.9L535.6 405.8L537.3 405.5L539.1 405.4L540.8 405.1L542.7 405.0L544.5 404.8L546.3 404.4L548.1 404.3L549.9 404.0L551.7 403.8L553.6 404.0L555.4 403.6L557.3 403.4L559.1 403.3L561.0 403.0L562.8 402.6L564.7 402.6L566.5 402.2L568.4 402.0L570.3 401.9L572.0 401.8L573.8 402.2L575.6 401.8L577.3 401.9L579.1 402.0L580.9 402.0L582.6 402.3L584.4 402.2L586.2 402.4L587.9 402.4L589.8 402.6L591.7 402.8L593.6 402.7L595.5 402.9L597.4 403.1L599.3 403.1L601.2 403.3L603.1 403.4L604.9 403.7L606.8 403.8L608.5 404.2L610.3 404.5L612.2 404.6L613.9 405.1L615.7 405.0L617.6 405.1L619.4 405.0L621.2 405.0L623.0 405.1L624.8 405.2L626.7 405.0L628.5 405.2L630.3 405.2L632.1 405.1L633.9 405.1L635.8 405.1L634.7 403.6L633.4 402.2L632.9 400.6L631.6 399.2L633.4 399.2L635.2 398.6L636.9 398.4L638.8 398.5L640.6 398.0L642.4 398.0L644.3 398.0L646.2 398.5L648.0 398.7L650.0 398.5L651.9 399.0L653.8 398.7L655.7 399.2L657.6 399.2L659.5 399.3L661.4 399.6L663.3 399.6L665.1 399.8L667.0 400.1L668.9 400.2L670.8 400.2L672.7 400.1L674.6 400.2L676.4 400.7L678.2 400.8L680.1 400.9L682.0 400.7L683.8 400.9L685.7 401.1L687.6 401.2L689.5 400.9L691.4 401.0L693.3 401.4L695.2 401.4L697.1 401.4L697.4 399.4L698.0 397.5L698.5 395.5L699.0 393.6L700.4 392.6L702.1 391.9L703.7 391.3L705.2 390.5L706.8 389.7L708.3 389.0L709.9 388.3L711.5 387.6L713.1 386.9L714.5 385.9L715.9 385.0L717.4 384.2L719.1 383.6L720.5 382.7L722.1 382.0L723.6 381.1L725.3 380.5L726.9 379.7L728.7 379.0L730.2 378.1L731.9 377.3L733.7 376.9L735.4 376.4L737.3 376.4L739.0 375.9L740.7 375.4L743.0 376.2L744.9 377.3L743.2 377.9L741.6 378.6L740.1 379.4L738.4 380.0L736.9 380.9L735.3 381.5L733.6 382.2L731.9 382.7L730.3 383.9L728.4 384.8L726.7 385.9L725.3 387.2L726.7 388.4L727.9 389.8L729.1 391.1L730.6 392.3L731.9 393.6L732.6 395.4L733.2 397.4L734.1 399.2L732.8 400.5L731.9 401.9L730.8 403.2L729.7 404.6L728.0 405.4L726.1 405.7L724.4 406.5L722.7 407.3L720.9 407.8L719.0 408.1L717.1 408.2L715.3 408.6L713.5 409.1L711.6 409.6L709.7 409.6L707.9 410.0L706.0 409.7L704.1 409.9L702.3 409.5L700.4 409.7L698.6 409.7L696.7 409.6L694.9 409.3L693.1 409.5L691.4 409.8L689.7 410.2L687.9 410.4L686.3 410.9L684.6 411.3L682.9 411.6L681.1 411.9L679.4 412.2L680.9 413.3L682.7 414.1L684.3 415.0L686.0 415.9L687.9 416.1L689.7 416.4L691.5 416.7L693.4 416.6L695.3 416.8L697.1 417.1L698.9 416.7L700.9 416.7L702.8 416.4L704.7 416.2L706.5 415.6L708.5 415.5L710.3 415.1L712.3 414.9L714.0 415.5L715.6 416.2L717.4 416.6L719.1 417.1L720.9 417.6L722.6 417.7L724.3 417.3L726.0 417.4L727.7 417.3L729.4 417.3L731.2 417.3L732.9 417.2L734.6 417.3L736.3 417.1L738.2 417.2L740.0 417.4L741.9 417.3L743.8 417.3L745.6 417.5L747.5 417.6L749.3 417.6L751.2 417.6L753.0 417.0L754.8 416.6L756.6 416.3L758.5 416.1L760.4 415.9L761.7 414.2L762.6 412.2L764.3 412.0L766.0 412.1L767.7 411.7L769.4 412.0L771.2 411.7L772.8 412.7L774.3 414.0L776.0 415.0L777.8 415.9L779.7 416.1L781.6 415.9L783.5 416.0L785.4 415.7L787.3 416.1L789.2 415.7L791.1 415.8L793.0 415.9L794.5 414.7L795.9 413.4L797.4 412.2L799.3 411.8L801.1 411.4L803.0 411.1L804.9 410.7L806.6 410.0L808.6 409.7L810.4 409.3L812.3 409.2L814.1 408.9L815.8 408.4L817.7 408.4L819.5 408.1L821.3 407.9L823.1 407.6L825.0 407.4L826.8 407.1L828.6 406.8L830.4 406.6L832.2 406.3L834.3 405.5L836.6 405.0L838.9 404.6L840.2 403.0L841.8 401.7L843.3 400.2L845.1 399.8L846.8 399.2L848.6 399.0L850.5 398.7L852.3 398.5L854.1 398.0L855.8 397.2L857.8 397.1L859.5 396.2L861.4 395.9L863.3 395.3L865.1 394.8L866.8 394.8L868.6 395.2L870.3 394.9L872.1 395.0L873.8 395.1L875.6 395.3L877.3 395.4L879.0 395.5L880.8 395.5L882.5 395.8M701.2 400.2L701.2 398.0L701.0 395.8L701.2 393.6L703.1 393.1L704.8 392.2L706.7 391.8L708.3 391.0L710.1 390.4L711.9 391.3L713.3 392.6L715.2 393.5L716.7 394.8L717.6 396.5L718.9 398.0L717.2 398.3L715.4 398.6L713.6 398.4L711.9 399.0L710.0 398.9L708.3 399.3L706.5 399.4L704.8 399.8L703.0 399.9L701.2 400.2M697.1 418.9L698.9 419.1L700.7 419.5L702.6 419.5L704.4 419.7L706.2 420.2L708.1 420.3L709.8 420.7L711.7 420.8L713.5 421.2L715.4 421.4L717.2 421.4L719.0 422.0L720.9 422.0L722.8 422.3L724.7 422.8L726.5 423.6L728.4 423.9L730.3 424.4L732.1 425.0L734.1 425.2L735.9 425.1L737.8 424.9L739.5 424.7L741.3 424.3L743.1 424.1L744.9 423.8L746.7 423.8L748.5 423.3L750.4 423.3L752.2 423.0L754.0 422.9L755.8 422.7L757.6 422.6L759.5 422.8L761.3 422.5L763.1 422.3L764.9 422.0L766.7 422.0L768.8 423.1L771.2 423.8L772.9 423.1L774.8 422.7L776.5 422.1L778.2 421.5L780.0 420.8L781.7 420.5L783.4 420.3L785.2 420.2L787.0 420.2L788.6 419.8L790.4 419.7L792.1 419.4L793.9 419.3L795.6 419.0L797.3 418.8L799.1 418.5L800.8 418.5L802.5 417.9L804.2 417.7L806.0 417.6L807.8 417.6L809.6 417.5L811.4 417.7L813.2 417.7L815.0 417.3L816.8 417.6L818.6 417.1L820.4 417.1L822.2 417.0L824.0 417.2L825.9 417.1L824.1 416.9L822.4 416.8L820.7 417.0L818.9 416.7L817.2 416.7L815.5 417.0L813.7 416.7L812.0 416.6L810.3 416.5L808.5 416.6L806.8 416.3L805.1 416.5L803.3 416.5L801.6 416.2L799.9 416.0L798.2 416.3L796.4 416.1L794.7 415.8L793.0 415.9M733.1 376.1L734.9 375.7L736.4 374.9L738.0 374.4L740.5 373.7L742.9 372.9L741.1 373.4L739.3 373.9L737.2 374.6L735.2 375.4L733.1 376.1M771.2 370.5L773.0 370.6L774.8 370.7L773.1 370.9L771.2 370.5M449.8 425.5L451.7 425.4L453.5 425.7L455.3 425.9L457.2 426.0L459.0 425.9L460.9 425.9L462.7 426.1L464.5 426.2L466.3 426.1L468.1 426.3L469.9 426.4L471.7 426.7L473.5 426.4L475.2 426.6L477.0 426.5L478.8 426.7L480.6 427.0L482.4 427.1L484.2 427.0L482.5 426.7L480.7 426.6L479.0 426.4L477.3 426.6L475.6 426.0L473.8 426.2L472.2 425.8L470.4 425.9L468.7 425.8L467.0 425.5L465.3 425.4L463.6 425.5L461.8 425.3L460.1 425.3L458.4 425.4L456.7 425.6L455.0 425.5L453.3 425.3L451.5 425.7L449.8 425.5M865.6 81.6L866.3 79.8L868.0 78.4L868.8 78.1L867.1 79.6L866.1 81.1L865.6 81.6M259.0 225.8L260.9 225.5L262.7 228.0L260.9 229.0L259.5 227.0L259.0 225.8M264.9 228.0L266.6 228.5L265.9 229.4L264.9 228.0M277.4 238.8L280.6 238.5L279.3 239.3L277.4 238.8M305.8 193.3L307.6 193.8L308.0 196.3L307.1 196.8L306.1 195.3L305.8 193.3M300.0 192.4L302.4 193.3L302.9 194.6L301.4 195.8L300.2 195.5L300.0 192.4M304.6 197.3L306.3 196.8L306.3 197.8L304.9 198.0L304.6 197.3M303.1 190.9L305.1 192.1L304.1 192.4L303.1 190.9M392.2 244.4L394.1 244.9L395.4 245.7L393.4 245.7L392.2 244.4M409.6 257.9L411.1 259.7L410.6 258.4L409.6 257.9M45.6 80.8L47.3 79.4L47.1 80.6L45.6 81.6L45.6 80.8M41.2 83.3L42.9 80.8M54.7 78.4L57.4 77.6L57.8 78.4L55.4 79.1L54.7 78.4M28.4 85.7L29.9 84.3L31.6 84.0L31.6 85.7L29.9 86.5L28.4 85.7M25.0 85.7L27.2 85.2L26.9 86.5L25.2 86.2L25.0 85.7M6.8 124.3L8.8 123.6L9.0 124.8L7.6 124.8L6.8 124.3M69.1 132.7L70.1 132.2L69.6 133.4M57.4 126.0L58.8 126.5L60.3 127.7L61.0 128.2M64.7 125.0L65.9 125.5M131.7 190.6L134.6 190.6L132.9 191.4L131.7 190.6M97.1 235.8L97.8 237.1M136.6 273.2L137.6 273.7M141.7 271.2L142.5 271.7M310.5 139.5L312.2 139.3L311.5 140.0L310.5 139.5M318.1 136.3L317.9 137.8M340.2 127.5L340.7 128.7M702.5 121.9L705.0 121.5L707.4 120.6L706.2 121.4L704.4 121.8L702.5 121.9M759.4 222.1L762.6 222.1L764.8 223.6L762.6 225.8L759.6 224.8L759.4 222.1M662.0 64.9L659.9 64.9L657.9 64.4L655.9 64.4L653.4 64.1L651.0 63.6M736.1 88.9L739.3 89.4L741.0 88.9M711.8 67.3L713.0 68.1M687.8 68.3L689.0 69.8L687.8 70.0L687.8 68.3M680.4 67.1L682.2 67.5L684.1 67.8L681.6 68.5L680.4 67.1M689.0 82.8L690.2 84.0L688.2 84.5M683.3 90.9L685.8 91.4L685.8 91.9L683.3 90.9M751.8 416.6L753.7 416.2L755.2 415.2L757.1 414.7L759.0 414.3L760.6 413.4L762.3 413.0L764.0 412.7L765.8 412.7L767.5 412.4L769.2 412.2L771.2 412.8L772.9 413.8L775.0 414.3L776.8 415.2L775.8 417.4"/><path stroke-width="2.4" d="M26.7 26.3L28.6 26.2L30.2 25.1L32.3 25.9L34.1 25.1L36.1 24.6L38.2 25.1L40.2 25.3L42.0 25.7L43.9 24.7L45.7 24.9L47.5 25.6L49.3 26.1L51.1 26.5L52.5 27.5L50.3 28.9L47.5 28.7L49.7 28.3L51.7 29.1L53.7 29.5L51.8 30.0L49.9 30.3L48.0 30.7L46.3 31.4L45.0 33.0L42.6 33.4L40.5 32.0L37.7 31.9L36.0 30.8L34.1 30.0L31.6 29.2L29.2 28.5L26.7 26.3M45.1 24.6L47.1 25.0L49.1 24.9L51.0 24.4L53.0 24.3L54.9 23.8L56.7 23.5L58.3 24.7L60.1 24.7L61.9 24.7L63.7 24.1L65.3 25.3L67.2 24.8L65.5 25.3L63.7 25.6L62.3 26.5L60.5 26.4L58.7 26.9L57.0 25.8L55.2 26.6L53.5 25.6L51.8 25.5L50.0 26.0L47.5 25.5L45.1 24.6M111.3 22.8L113.0 22.3L114.8 22.1L116.5 21.9L118.4 22.6L120.1 22.6L121.9 22.4L123.6 21.9L125.3 22.0L127.0 21.9L128.8 22.2L130.4 20.9L132.2 21.8L133.9 21.7L135.6 21.3L137.3 21.6L139.0 21.3L140.8 21.1L142.5 21.1L144.3 21.0L146.1 21.9L147.9 21.2L149.7 20.7L151.5 21.1L153.3 21.3L155.0 21.4L156.8 21.5L158.6 22.2L160.4 21.6L158.7 22.4L156.9 22.1L155.2 22.7L153.4 22.6L151.5 22.4L149.8 22.9L148.1 23.3L146.3 23.4L144.5 23.3L142.8 23.8L141.0 23.6L139.2 23.6L137.5 24.4L135.7 24.3L133.9 24.5L132.1 24.3L130.3 24.5L128.5 24.1L126.7 24.4L125.0 24.0L123.2 23.6L121.5 24.2L119.7 23.5L118.0 24.2L116.2 23.8L113.8 23.3L111.3 22.8M234.0 27.5L236.0 27.1L237.7 26.0L239.9 26.1L241.8 25.6L243.8 25.1L245.6 24.9L247.3 25.5L249.1 25.5L250.7 26.6L252.6 25.9L254.3 26.7L256.0 26.8L258.0 27.9L259.7 29.2L257.8 29.9L255.9 30.1L253.9 28.9L252.1 30.3L250.0 29.2L248.2 30.1L246.2 30.0L244.6 29.0L242.3 29.6L240.6 28.6L238.9 28.0L236.4 27.7L234.0 27.5M224.2 24.6L226.3 24.5L227.9 23.3L230.2 23.4L231.8 22.1L234.0 22.1L235.9 21.7L237.6 22.5L239.5 22.5L241.3 22.6L243.2 22.8L245.0 23.1L243.2 24.1L240.7 23.7L238.9 24.8L236.8 24.4L235.0 25.3L233.1 26.0L231.1 25.9L229.1 25.8L226.8 24.7L224.2 24.6M600.9 29.0L602.9 28.5L605.1 28.6L607.0 28.0L608.8 27.0L610.9 26.8L612.6 28.2L614.7 28.0L612.7 30.0L611.0 30.2L609.2 30.4L607.5 30.6L605.8 31.0L603.5 31.2L601.9 32.4L603.9 32.6L605.3 33.5L606.8 34.4L608.5 33.9L610.4 34.2L612.1 34.0L613.9 34.0L615.6 33.4L617.4 34.3L619.4 34.8L621.3 35.2L623.5 34.9L621.3 35.6L619.6 36.9L617.6 36.5L615.6 36.9L613.6 37.0L611.7 36.4L609.7 36.3L607.8 36.5L605.8 36.2L603.9 36.9L601.4 36.5L599.9 34.9L599.8 33.1L598.0 31.9L598.9 30.1L600.9 29.0M641.4 27.5L643.1 27.5L644.9 27.5L646.5 28.6L648.3 28.0L650.2 28.5L652.2 28.5L654.1 28.8L656.1 29.2L658.1 29.0L660.0 28.8L661.2 30.5L663.1 30.2L665.0 30.0L666.4 31.1L668.1 31.4L670.1 31.4L672.0 32.0L674.0 32.3L676.0 31.6L677.9 31.9L679.8 32.2L681.6 31.6L683.4 32.0L685.2 31.9L687.0 32.7L688.8 33.1L690.7 32.4L688.9 34.0L687.8 35.9L685.8 36.1L683.7 35.9L681.8 36.4L679.7 36.4L677.9 37.3L676.0 36.8L674.0 36.9L672.1 36.6L670.1 37.4L668.1 36.9L666.1 36.5L664.2 35.8L662.0 36.4L660.2 35.2L658.1 35.4L656.2 35.4L654.7 34.4L653.0 34.1L651.2 33.9L649.3 33.2L647.2 33.3L645.3 32.9L643.4 32.4L642.1 30.9L641.7 29.2L641.4 27.5M623.5 26.5L625.5 26.9L627.5 25.8L629.5 25.7L631.5 25.6L633.5 26.0L635.5 26.7L637.7 26.9L639.4 28.0L638.7 29.8L637.5 31.4L636.1 33.1L633.5 33.4L631.1 33.3L629.4 34.5L627.4 35.4L625.2 34.4L624.5 32.4L626.4 31.4L626.4 29.5L624.2 28.5L623.5 26.5M646.3 23.6L648.2 23.2L649.2 21.4L650.9 20.6L653.2 20.6L655.1 20.4L657.1 20.2L659.1 19.8L661.3 20.4L663.0 19.2L665.1 19.6L666.9 18.3L669.0 18.6L671.1 19.0L673.0 18.2L674.8 17.5L676.6 17.0L678.6 17.7L680.3 16.6L682.3 18.2L684.0 16.4L685.8 16.6L687.8 17.0L689.6 17.7L691.4 16.4L693.2 16.1L695.1 16.2L697.0 17.2L698.8 16.9L700.7 17.0L702.5 16.5L704.4 16.1L706.2 17.5L708.1 16.3L710.0 16.7L711.8 16.9L713.7 16.5L715.6 16.0L717.4 17.0L719.5 16.3L721.4 17.2L723.4 16.9L725.2 18.1L727.2 17.9L729.3 17.4L730.4 19.4L732.3 19.3L734.1 19.4L732.6 20.2L730.9 20.9L729.0 20.8L727.2 21.1L725.5 21.6L723.8 22.1L721.9 21.3L720.0 21.0L718.4 22.1L716.6 22.8L714.6 23.4L712.8 24.0L710.6 23.6L708.4 23.3L706.4 23.7L704.4 23.6L702.5 24.6L700.6 25.1L699.9 27.0L697.6 27.0L696.0 27.7L694.2 27.6L692.4 27.9L690.7 28.0L688.9 27.1L686.8 27.2L684.6 27.7L682.8 26.5L681.8 28.1L679.4 27.5L677.9 28.5L676.2 28.5L674.5 28.2L672.7 28.1L671.1 27.5L668.9 27.7L667.1 26.5L664.7 27.4L663.0 26.0L660.9 26.3L659.2 24.9L657.1 25.1L655.1 25.1L653.2 25.3L651.7 24.0L649.7 24.7L648.2 23.5L646.3 23.6M645.3 25.1L647.4 25.3L649.2 24.2L651.2 24.3L652.9 24.9L654.5 25.4L656.6 24.5L658.1 25.6L659.5 26.6L661.5 27.0L663.0 28.0L661.0 28.4L659.2 29.1L657.1 29.0L655.2 29.3L653.6 28.7L651.8 28.7L650.2 28.0L648.3 27.4L646.5 26.5L645.3 25.1M581.1 33.4L583.3 33.3L584.8 31.7L586.8 31.3L588.9 31.0L591.0 30.9L593.0 30.9L594.9 30.0L597.0 30.0L598.5 30.8L600.0 31.6L601.9 31.9L600.2 32.7L598.6 33.6L597.0 34.4L594.8 34.0L592.9 34.9L590.9 34.7L588.9 35.4L587.0 34.8L585.0 34.9L583.0 34.9L581.1 33.4M659.1 21.6L660.9 21.4L662.6 20.8L664.5 21.4L666.4 21.7L668.1 20.9L670.1 20.3L672.1 20.4L674.0 20.5L676.0 21.3L677.9 21.1L679.9 21.0L681.8 20.6L683.8 20.4L685.8 20.4L687.7 20.0L689.5 20.3L691.2 20.6L692.8 21.6L694.6 21.6M663.0 23.6L664.7 22.9L666.6 23.8L668.4 23.5L670.3 23.5L672.1 23.1L673.9 23.0L675.5 23.8L677.3 24.1L679.0 24.4L680.9 24.1L682.8 23.6L684.8 23.3L686.8 24.1L688.7 23.6M653.2 22.6L655.1 21.9L657.1 21.9L659.1 22.3L661.0 22.1L662.9 23.0L665.0 23.5L667.2 23.7L669.1 24.6L670.9 24.4L672.6 24.3L674.4 24.3L676.0 23.6L678.1 23.3L680.0 24.2L682.0 24.2L683.8 25.1M627.4 28.5L629.4 29.2L631.4 29.4L633.5 29.0L632.6 31.9M648.3 30.0L650.1 30.9L652.1 31.0L654.1 31.4L655.9 32.2L658.1 31.9L659.9 32.3L661.8 32.3L663.7 32.6L665.5 32.9L667.1 34.2L669.1 33.9L671.1 33.9L673.1 33.5L674.9 34.9L676.9 34.6L678.9 35.0L680.9 34.6M659.1 27.0L661.0 26.8L662.7 27.5L664.7 27.3L666.4 27.8L668.1 28.5L670.0 29.2L672.0 29.2L674.0 29.0L676.0 28.8L677.9 29.0L679.9 29.3L681.9 29.0L683.9 29.3L685.8 29.7L687.8 30.0M598.0 46.4L599.9 46.8L602.0 46.1L603.9 46.9L606.1 48.0L608.8 47.9L607.1 49.1L604.8 49.4L601.9 50.4M673.0 42.3L675.0 42.2L677.0 42.4L678.9 42.7L680.8 43.7L682.8 43.2L684.8 43.7L686.8 44.1L688.8 44.5L690.6 45.4L692.7 45.4L694.3 46.0L696.0 46.6L697.8 47.0L698.9 48.6L700.5 49.2L702.5 49.4L703.8 50.4L705.8 50.5L707.5 50.9L709.0 51.6L710.6 52.3L712.8 52.6L714.2 54.3L716.8 54.0L718.4 55.3M707.6 60.2L709.4 60.6L711.2 60.8L712.7 61.9L714.5 62.2L716.6 62.8L718.4 63.9L720.4 64.6M549.2 78.4L550.7 79.6L552.8 79.6L554.8 82.1L557.3 84.0L560.2 85.7L562.7 87.5L564.6 88.9L566.8 90.9L568.5 92.9L570.0 94.3L571.2 96.3L573.7 98.0L576.6 99.5L579.1 101.2L581.5 102.4M550.9 80.8L552.6 81.8L553.3 83.3L555.2 84.2L556.3 85.7L558.2 88.2L560.4 90.7L562.2 93.1M13.2 76.6L13.2 73.7L13.0 71.2L13.9 68.8L16.9 67.3L20.1 66.1L21.9 65.5L23.5 64.6L26.5 63.1L28.9 61.4L31.1 59.7L32.8 57.5L35.3 55.8L37.2 54.5L34.1 54.0L35.7 53.1L37.7 53.1L40.2 52.1L41.8 51.0L43.9 50.9L47.1 49.9L48.8 49.2L50.7 49.1L52.9 49.0L54.9 48.4L57.2 48.4L59.3 47.7L61.5 47.7L63.5 47.2M703.5 324.8L702.7 327.7L702.0 330.7L700.5 333.6L699.3 336.6L699.3 339.5L699.5 342.5L700.0 345.4L701.0 348.3L702.5 350.8L703.5 352.2L705.4 352.8L707.3 353.3L708.6 354.5L709.9 355.7L711.8 356.2L713.7 356.2L715.2 357.2L718.4 357.9M704.2 328.5L703.5 330.3L703.7 332.1L703.7 334.1L702.5 335.8L701.8 337.9L701.7 340.0L701.5 342.2L702.0 344.4L703.1 346.3L703.5 348.3L704.5 349.8L706.2 350.8M773.6 73.5L771.4 72.2L768.7 72.0L766.6 71.0L764.3 70.3L762.5 69.2L761.3 67.8L760.0 66.5L758.9 65.1L756.9 62.4L755.0 59.7L753.0 57.0L753.2 54.0L755.0 53.2L756.4 52.1L755.1 50.4L752.8 49.6L752.0 48.1L750.3 47.2L749.1 44.7L748.5 43.1L746.6 42.3L744.5 41.1L743.4 39.3M830.0 48.9L827.8 48.2L826.3 46.7L826.8 45.0L828.8 44.2L827.6 41.8L828.7 40.3L830.9 40.2L832.5 39.3L834.2 36.6L836.2 33.9L835.4 32.4L833.7 31.4L835.6 30.3L837.4 29.0M793.2 59.9L790.7 60.3L788.3 60.9L787.3 62.4L785.1 62.9L783.9 65.3L781.9 66.1L781.5 67.8L779.5 70.3L778.0 72.7M511.1 77.1L508.7 77.8L506.7 79.1L504.8 79.7L503.1 80.6L501.5 81.7L499.4 82.1L497.0 82.5L495.4 84.0L493.4 84.5L491.5 85.2L489.7 86.2L487.6 86.2L485.5 86.0L483.7 87.0L481.5 86.8L479.7 87.9M871.5 78.1L870.2 79.8L868.8 81.1L869.8 82.5L868.5 83.5L870.2 85.0M455.7 425.2L457.5 425.4L459.3 425.2L460.9 426.2L462.5 426.8L464.5 425.7L466.3 426.0L468.0 426.2L469.6 427.2L471.4 427.3L473.1 427.5L474.9 427.5L476.6 427.6L478.4 427.2L480.1 427.4L481.9 427.7L483.5 428.6L485.2 429.2L486.9 429.1L488.8 428.1L490.5 428.7L492.2 429.1L494.0 428.6L495.7 429.4L497.4 429.6L499.1 429.7M479.5 414.4L481.6 414.2L483.3 415.5L485.3 415.6L487.4 415.7L489.0 416.4L491.1 416.4L492.7 417.1M495.0 411.7L496.7 411.0L498.6 411.0L500.5 411.3L502.4 411.4L504.3 411.2L506.1 410.7L508.0 410.7L509.8 411.2L511.6 411.8L513.4 412.4L515.6 411.6L517.3 412.5L519.2 412.6L521.0 413.4M512.4 407.3L514.2 406.7L516.2 406.8L518.0 406.0L520.0 406.3L521.8 407.1L524.1 406.8L525.9 407.4L527.6 408.5M481.7 421.1L483.4 421.7L485.2 421.5L487.1 421.2L488.9 421.4L490.5 422.0L492.4 421.4L494.5 421.7L496.5 421.2L498.3 420.3L500.4 420.3L501.6 421.9L503.6 422.7L505.7 423.3M629.9 399.2L631.4 398.3L633.4 398.6L634.7 397.3L636.5 397.0L638.4 396.7L640.3 397.0L642.0 397.7L643.8 398.3L645.8 397.6L647.6 398.5L649.5 398.5L648.0 399.4L646.0 399.6L644.6 400.8L642.9 401.4L641.1 401.2L639.3 400.9L637.5 401.0L635.6 401.5L633.8 401.2L632.1 400.7M697.3 396.0L699.5 395.1L700.1 393.2L701.8 392.0L703.9 391.1L704.9 389.4L706.8 388.6L708.4 387.6L709.5 386.2L711.4 385.4L712.5 384.0L714.4 383.2L716.3 382.5L717.5 380.9L719.7 380.6L721.4 379.5L723.1 379.0L725.0 378.7L726.4 377.6L728.0 376.8L729.3 375.8L730.8 374.9L733.0 375.2L734.4 374.1L736.6 374.2L737.9 372.4L739.9 372.1L742.0 371.9L743.9 371.5L745.9 371.4L747.5 370.3L749.6 370.2M701.7 398.2L703.4 397.2L705.7 397.0L707.3 395.9L708.8 394.6L710.6 393.8L712.5 394.9L715.1 394.7L716.9 396.0L715.5 397.5L714.5 399.3L712.5 400.4L710.9 401.1L709.2 401.2L707.5 401.6L705.7 401.4L703.9 401.4M723.6 387.2L725.4 386.4L727.0 385.5L728.0 384.0L729.9 383.7L731.5 382.8L733.4 382.5M679.9 411.7L681.6 412.4L683.4 412.6L685.4 412.2L687.1 412.6L688.7 413.4L690.5 413.4L692.1 412.6L693.9 412.8L695.6 413.1L697.3 413.0L699.4 413.0L701.1 411.9L702.9 411.3L704.9 411.2M708.4 414.4L710.1 414.6L711.8 415.0L713.4 415.6L715.1 416.1L716.9 415.9L719.0 416.0L720.4 417.1L722.1 417.8L723.6 418.9L725.8 418.7L727.4 420.1L729.7 419.9L731.1 421.6L733.4 421.6M731.9 20.6L733.7 19.8L735.6 20.8L737.5 20.9L739.3 20.3L741.1 20.2L742.9 19.4L744.7 19.2L746.6 19.7L748.4 19.2L750.3 20.2L752.1 19.3L754.0 19.1L755.8 19.8L757.7 19.6L759.5 18.7L761.3 19.2L763.1 19.0L764.9 19.1L766.6 18.5L768.4 19.3L770.1 18.2L771.9 18.4L773.6 18.2L775.3 17.7L777.1 17.5L778.9 18.2L780.6 17.6L782.3 17.0L784.2 17.6L785.9 17.2L787.6 17.2L789.3 16.5L791.0 17.0L792.7 16.9L794.5 17.2L796.2 16.7L797.9 17.3L799.6 17.2L801.4 17.0L803.0 16.5L804.9 16.2L806.8 16.4L808.5 17.4L810.4 16.5L812.2 17.7L814.1 16.9L816.0 16.8L817.8 17.4L819.6 17.4L821.1 18.6L823.1 17.9L824.6 19.0L826.5 18.8L828.4 18.3L830.0 19.2L831.8 20.1L834.0 19.7L835.7 20.7L837.9 20.2L839.8 20.6L841.6 20.7L843.3 21.0L845.1 20.4L846.9 20.4L848.5 21.6L850.4 20.6L852.1 21.4M749.1 21.1L750.8 20.7L752.5 20.9L754.2 20.9L756.0 21.5L757.6 20.2L759.4 20.9L761.1 20.1L762.8 21.0L764.6 20.8L766.2 20.4L768.1 20.0L769.9 19.6L771.7 19.7L773.6 19.6L775.4 19.2L777.4 20.2L779.1 18.9L781.0 19.2L782.7 19.4L784.4 19.4L786.1 18.6L787.8 18.4L789.6 19.2L791.3 18.6L792.9 18.0L794.7 18.4L796.4 18.5L798.1 18.2L799.9 17.8L801.6 18.5L803.3 18.3L805.0 18.1L806.7 18.4L808.4 19.0L810.1 19.5L811.9 18.7L813.6 19.1L815.3 19.2L817.3 18.8L819.0 19.7L820.9 19.6L822.6 20.6L824.4 20.7L826.3 20.7L828.2 20.7L830.0 21.1"/><path stroke-width="1.6" stroke-dasharray="1.3 3.4" d="M476.8 88.9L473.9 90.2L470.9 90.9M468.2 91.9L465.0 92.4M461.4 93.1L459.3 93.2L457.2 93.4L454.2 93.8M451.5 94.3L448.4 94.6L445.9 94.8M441.2 95.3L438.3 94.8L435.8 94.1M432.2 93.1L430.0 92.6L427.7 92.4L424.6 91.6M407.4 85.7L409.6 87.0M358.1 113.5L361.0 112.0L364.0 110.3L366.4 109.3M368.9 108.3L370.8 107.6L372.6 106.6L375.0 105.4M377.5 102.9L379.1 101.8L380.4 100.5L381.7 99.2L383.1 98.0M239.4 218.1L240.8 219.6L242.6 222.3L243.7 223.8L244.3 225.5L245.4 227.0L246.7 228.5L247.5 229.4M295.3 208.1L297.3 206.8L299.0 206.1L299.7 205.4M384.8 238.3L387.3 240.0L389.7 241.2L392.9 242.2M394.6 242.2L395.9 243.7L396.8 245.2M396.6 246.9L398.3 247.6L399.0 248.1M411.3 260.9L412.5 262.1L413.8 264.8M460.4 254.8L462.1 255.5L463.3 256.0M517.0 264.6L518.0 265.3M659.5 222.6L660.8 223.8L662.2 223.1M839.8 151.1L841.7 151.5L843.5 152.1L846.0 152.8L847.8 152.2L849.6 151.6L850.9 150.1M814.1 127.0L817.3 126.5L819.2 127.8L821.4 128.7M822.7 179.8L823.9 181.0L825.1 182.3L826.3 184.7M866.1 68.8L867.6 69.3L867.3 70.5M880.6 72.7L881.3 73.9L880.8 74.4M875.9 76.6L877.4 76.6M107.2 250.1L109.9 251.6L111.6 253.0M228.6 188.4L228.8 190.9L228.3 192.8M229.1 199.0L230.0 201.3L230.8 203.7L231.3 204.4M180.5 205.6L180.7 208.1L181.0 210.5L181.0 212.4L180.5 214.2M315.6 155.8L314.2 157.2L313.9 157.7M319.1 151.6L318.1 152.3M691.4 156.2L694.6 156.5L695.1 157.7M692.2 160.2L693.2 161.9L693.9 163.1M696.3 159.4L697.3 160.9L698.8 162.1M703.2 170.0L704.9 169.5M732.4 181.5L733.9 181.8L734.4 184.7L734.4 186.0L734.6 187.4M355.9 188.4L357.1 186.7L358.3 184.2L358.6 181.1L358.5 179.2L358.3 177.4"/></g>
<path id="grid" d="M50.00 -2V444.0M148.12 -2V444.0M246.23 -2V444.0M344.35 -2V444.0M442.46 -2V444.0M540.58 -2V444.0M638.70 -2V444.0M736.81 -2V444.0M834.93 -2V444.0M-2 418.12H883.2M-2 368.98H883.2M-2 319.85H883.2M-2 270.72H883.2M-2 221.59H883.2M-2 172.46H883.2M-2 123.32H883.2M-2 74.19H883.2M-2 25.06H883.2" fill="none" stroke="#b0b0b0" stroke-width="1.1"/>
</defs>
<g transform="translate(78.5,41.38)">
<g clip-path="url(#cp0)"><ellipse cx="49.6" cy="37.0" rx="13.1" ry="5.2" fill="#fee496"/><path d="M-0.5 63.8C1.4 61.6 7.1 62.4 10.4 60.5C13.7 58.7 15.4 55.1 19.1 52.9C22.8 50.7 27.0 48.7 32.2 47.4C37.3 46.1 42.9 45.6 49.6 45.3C56.3 44.9 64.3 44.7 71.4 45.3C78.4 45.8 85.0 47.5 91.0 48.5C96.9 49.5 101.6 50.5 106.2 51.1C110.8 51.8 116.3 51.6 118.2 52.5C120.0 53.3 118.8 54.8 117.1 56.2C115.4 57.5 111.7 58.8 108.4 60.5C105.1 62.2 101.2 65.1 97.5 66.0C93.8 66.8 90.3 66.4 86.6 65.5C82.9 64.6 79.4 61.8 75.7 60.5C72.0 59.2 68.9 58.2 64.8 57.7C60.8 57.2 55.8 57.0 51.8 57.7C47.7 58.3 45.0 60.2 40.9 61.6C36.8 63.0 32.3 64.1 27.8 66.0C23.4 67.8 19.6 71.2 14.7 72.5C9.9 73.8 2.1 75.1 -0.5 73.6C-3.1 72.1 -2.4 66.0 -0.5 63.8Z" fill="#fee496"/><path d="M-0.5 72.5C2.1 68.1 10.7 71.7 14.7 72.5C18.8 73.2 19.6 76.3 23.5 76.8C27.3 77.4 33.7 76.3 37.6 75.8C41.5 75.2 42.1 73.8 46.3 73.6C50.6 73.3 60.1 73.4 62.7 74.2C65.2 75.1 63.8 77.5 61.6 78.6C59.3 79.7 53.5 79.6 49.6 80.8C45.7 81.9 42.8 83.9 38.7 85.6C34.6 87.2 30.1 88.9 25.6 90.3C21.2 91.8 17.0 92.9 12.6 94.3C8.1 95.6 1.7 101.9 -0.5 98.2C-2.7 94.5 -3.1 76.9 -0.5 72.5Z" fill="#fee496"/><path d="M-0.5 99.7C1.7 91.4 8.5 96.6 12.6 96.4C16.6 96.3 21.0 97.1 23.5 98.6C25.9 100.1 27.1 102.9 26.7 105.2C26.4 107.4 20.4 110.0 21.3 111.7C22.2 113.4 27.9 113.3 32.2 115.0C36.4 116.6 43.4 119.6 46.3 121.5C49.2 123.3 50.4 124.5 49.2 125.8C47.9 127.1 42.5 128.7 38.7 129.1C34.9 129.5 29.9 127.6 26.7 128.0C23.6 128.4 23.0 130.7 20.2 131.3C17.4 131.8 13.2 129.8 10.4 131.3C7.6 132.8 5.7 137.6 3.9 140.0C2.0 142.4 0.2 152.3 -0.5 145.4C-1.2 138.6 -2.7 108.0 -0.5 99.7Z" fill="#fee496"/><path d="M50.7 125.8C52.9 124.9 61.3 126.5 64.8 128.0C68.4 129.5 67.7 133.6 71.4 134.6C75.1 135.5 83.1 132.2 86.6 133.5C90.1 134.8 92.1 140.0 92.1 142.2C92.1 144.4 86.8 144.7 86.6 146.5C86.4 148.4 89.5 149.7 91.0 153.1C92.4 156.4 93.5 162.4 95.3 166.1C97.2 169.8 100.4 171.5 101.9 174.8C103.3 178.2 104.6 183.5 104.0 185.7C103.5 188.0 100.8 189.0 98.6 187.9C96.4 186.8 93.7 180.9 91.0 179.2C88.2 177.5 84.3 179.2 82.3 178.1C80.2 177.0 80.8 175.1 79.0 172.7C77.1 170.3 73.0 167.3 71.4 164.0C69.7 160.6 70.7 156.0 69.2 153.1C67.7 150.1 64.7 148.8 62.7 146.5C60.6 144.3 59.1 142.2 57.2 140.0C55.4 137.8 52.9 135.9 51.8 133.5C50.7 131.1 48.5 126.8 50.7 125.8Z" fill="#fee496"/><path d="M121.5 161.8C121.8 159.2 124.0 154.0 125.8 153.1C127.7 152.1 130.1 155.6 132.3 156.3C134.6 157.1 136.7 156.1 138.9 157.4C141.1 158.7 143.9 161.9 145.4 164.0C146.9 166.0 148.3 167.5 147.6 169.4C146.8 171.2 142.5 172.8 141.1 174.8C139.6 176.9 140.7 179.7 138.9 181.4C137.0 183.0 133.1 184.5 130.2 184.6C127.2 184.8 123.3 184.1 121.5 182.5C119.6 180.8 118.9 177.2 119.3 174.8C119.6 172.4 123.3 170.5 123.6 168.3C124.0 166.1 121.1 164.4 121.5 161.8Z" fill="#fee496"/><path d="M179.2 172.7C179.9 171.0 182.9 169.0 184.6 169.4C186.3 169.8 187.7 172.4 189.0 174.8C190.3 177.2 191.5 181.0 192.2 183.6C193.0 186.1 193.9 188.6 193.3 190.1C192.8 191.6 190.6 193.0 189.0 192.3C187.3 191.5 185.0 188.0 183.5 185.7C182.0 183.5 181.0 181.4 180.3 179.2C179.5 177.0 178.4 174.3 179.2 172.7Z" fill="#fee496"/><ellipse cx="159.6" cy="84.5" rx="4.1" ry="3.0" fill="#fee496"/><path d="M240.1 60.5C241.6 59.5 244.6 59.0 249.9 59.0C255.3 59.0 265.1 60.4 271.7 60.5C278.4 60.7 284.1 59.7 289.1 59.9C294.1 60.0 298.7 60.2 301.1 61.6C303.5 63.0 303.9 66.1 303.3 68.1C302.7 70.2 300.6 72.3 297.9 73.6C295.1 74.9 289.9 74.6 287.0 75.8C284.0 76.9 283.4 79.1 280.4 80.1C277.5 81.1 272.5 81.6 269.5 81.6C266.6 81.6 264.3 81.3 263.0 80.1C261.7 78.9 261.7 76.7 261.9 74.7C262.1 72.6 265.0 69.8 264.1 68.1C263.2 66.5 259.3 65.2 256.5 64.9C253.7 64.5 250.4 66.0 247.8 66.0C245.2 66.0 242.5 65.8 241.2 64.9C239.9 63.9 238.7 61.5 240.1 60.5Z" fill="#fee496"/><ellipse cx="227.7" cy="117.1" rx="3.7" ry="3.7" fill="#fee496"/><ellipse cx="220.5" cy="144.4" rx="3.5" ry="2.6" fill="#fee496"/><ellipse cx="301.1" cy="118.2" rx="2.6" ry="2.2" fill="#fee496"/><path d="M235.8 161.8C237.1 159.4 240.6 158.7 243.4 158.5C246.2 158.3 249.9 159.4 252.1 160.7C254.3 162.0 253.1 165.4 256.5 166.1C259.8 166.9 266.2 166.0 271.7 165.0C277.3 164.1 284.1 162.2 289.1 160.7C294.1 159.2 298.5 156.0 301.1 156.3C303.7 156.7 304.6 160.6 304.4 162.9C304.2 165.1 299.3 167.4 300.0 169.4C300.8 171.4 306.5 172.1 308.7 174.8C311.0 177.6 312.5 182.0 313.1 185.7C313.7 189.4 312.4 192.5 312.0 196.6C311.6 200.7 312.2 205.4 310.9 209.7C309.6 213.9 317.3 219.6 304.4 221.7C291.4 223.7 247.3 223.7 234.7 221.7C222.1 219.6 230.7 213.2 230.3 209.7C230.0 206.2 231.0 203.9 232.5 201.0C234.0 198.0 238.9 195.6 239.1 192.3C239.2 188.9 234.2 184.7 233.6 181.4C233.1 178.0 235.4 176.0 235.8 172.7C236.2 169.3 234.5 164.2 235.8 161.8Z" fill="#fee496"/><ellipse cx="223.8" cy="162.9" rx="5.4" ry="3.9" fill="#fee496"/><path d="M321.8 135.6C322.6 133.6 328.6 132.8 332.7 131.3C336.8 129.8 342.6 126.9 345.8 126.9C348.9 126.9 350.5 129.3 351.2 131.3C352.0 133.3 351.8 136.9 350.1 138.9C348.5 140.9 345.1 142.5 341.4 143.3C337.7 144.0 331.7 144.6 328.3 143.3C325.0 142.0 321.1 137.7 321.8 135.6Z" fill="#fee496"/><ellipse cx="349.0" cy="154.2" rx="6.1" ry="4.4" fill="#fee496"/><ellipse cx="321.4" cy="157.0" rx="4.8" ry="3.7" fill="#fee496"/><ellipse cx="379.5" cy="160.7" rx="9.8" ry="6.5" fill="#fee496"/><ellipse cx="318.5" cy="45.3" rx="3.3" ry="2.2" fill="#fee496"/><ellipse cx="317.5" cy="53.5" rx="2.4" ry="1.3" fill="#fee496"/><path d="M378.4 76.8C379.9 75.4 385.2 75.2 389.3 74.7C393.4 74.1 399.4 72.8 402.4 73.6C405.4 74.3 405.6 77.2 406.7 79.0C407.9 80.9 409.7 83.4 408.9 84.5C408.2 85.6 404.2 86.1 402.4 85.6C400.5 85.0 399.9 81.6 398.0 81.2C396.2 80.8 393.7 82.3 391.5 83.4C389.3 84.5 386.8 87.7 385.0 87.7C383.1 87.7 381.7 85.2 380.6 83.4C379.5 81.5 377.0 78.3 378.4 76.8Z" fill="#fee496"/><path d="M418.7 87.7C419.6 86.4 425.7 84.5 428.5 84.5C431.3 84.5 433.6 86.1 435.1 87.7C436.5 89.4 438.2 93.3 437.2 94.3C436.3 95.2 432.0 93.5 429.6 93.2C427.2 92.8 424.9 93.0 423.1 92.1C421.2 91.2 417.8 89.0 418.7 87.7Z" fill="#fee496"/><path d="M321.8 201.0C322.2 198.6 325.4 196.1 328.3 194.4C331.3 192.8 335.9 192.3 339.2 191.2C342.6 190.1 345.0 189.4 347.9 187.9C350.9 186.4 354.1 183.0 356.7 182.5C359.2 181.9 361.7 183.3 363.2 184.6C364.7 185.9 366.5 188.1 365.4 190.1C364.3 192.1 359.6 195.3 356.7 196.6C353.7 197.9 350.5 196.2 347.9 197.7C345.4 199.2 343.6 203.3 341.4 205.3C339.2 207.4 337.5 209.1 334.9 209.7C332.3 210.2 328.4 210.1 326.2 208.6C323.9 207.1 321.4 203.4 321.8 201.0Z" fill="#fee496"/><path d="M366.5 197.7C367.8 196.2 371.3 195.3 374.1 195.5C376.9 195.7 379.8 198.4 382.8 198.8C385.8 199.2 388.9 197.3 391.5 197.7C394.1 198.1 396.9 199.3 398.0 201.0C399.1 202.6 399.5 206.0 398.0 207.5C396.6 209.0 392.3 209.5 389.3 209.7C386.4 209.9 383.6 208.8 380.6 208.6C377.6 208.4 374.3 209.3 371.9 208.6C369.5 207.9 367.4 206.1 366.5 204.2C365.5 202.4 365.2 199.2 366.5 197.7Z" fill="#fee496"/><path d="M403.5 198.8C404.8 196.9 408.0 195.0 411.1 194.4C414.2 193.9 419.0 194.4 422.0 195.5C425.0 196.6 427.6 198.8 428.5 201.0C429.4 203.2 427.2 206.0 427.4 208.6C427.6 211.2 429.8 214.2 429.6 216.2C429.4 218.3 427.8 220.2 426.3 220.6C424.9 220.9 422.4 219.9 420.9 218.4C419.4 216.9 419.7 213.3 417.6 211.9C415.6 210.4 411.3 210.8 408.9 209.7C406.5 208.6 404.4 207.2 403.5 205.3C402.6 203.5 402.2 200.6 403.5 198.8Z" fill="#fee496"/><path d="M-0.5 185.7C1.0 183.0 5.6 183.2 8.2 183.6C10.8 183.9 12.2 186.4 14.7 187.9C17.3 189.4 20.9 191.9 23.5 192.3C26.0 192.6 27.4 190.8 30.0 190.1C32.6 189.3 36.5 187.5 38.7 187.9C40.9 188.3 43.4 191.0 43.1 192.3C42.7 193.6 39.1 194.8 36.5 195.5C33.9 196.3 29.7 195.3 27.8 196.6C26.0 197.9 24.9 200.9 25.6 203.2C26.4 205.4 31.4 207.5 32.2 209.7C32.9 211.9 31.5 214.7 30.0 216.2C28.5 217.7 25.7 219.0 23.5 218.4C21.2 217.8 19.1 215.2 16.9 213.0C14.7 210.7 12.6 207.4 10.4 205.3C8.2 203.3 5.7 201.9 3.9 201.0C2.0 200.0 0.2 202.5 -0.5 199.9C-1.2 197.3 -2.0 188.5 -0.5 185.7Z" fill="#fee496"/><path d="M87.7 218.4C88.6 217.5 91.7 216.0 93.1 216.2C94.6 216.4 96.0 218.6 96.4 219.5C96.8 220.4 96.8 221.3 95.3 221.7C93.8 222.0 89.0 222.2 87.7 221.7C86.4 221.1 86.8 219.3 87.7 218.4Z" fill="#fee496"/><path d="M178.1 99.7C179.4 97.9 182.2 100.6 184.6 101.9C187.0 103.2 190.6 105.5 192.2 107.3C193.9 109.2 195.7 111.5 194.4 112.8C193.1 114.1 187.6 115.0 184.6 115.0C181.6 115.0 178.1 115.4 177.0 112.8C175.9 110.2 176.8 101.6 178.1 99.7Z" fill="#e5f3ec"/><path d="M97.5 123.7C99.2 122.7 105.6 121.1 108.4 121.5C111.2 121.9 113.8 124.6 113.8 125.8C113.8 127.1 111.0 128.4 108.4 128.7C105.8 128.9 100.4 128.2 98.6 127.4C96.7 126.5 95.8 124.7 97.5 123.7Z" fill="#e5f3ec"/><path d="M147.6 124.8C148.7 124.0 154.4 126.4 158.5 126.9C162.6 127.5 167.8 126.2 171.5 128.0C175.2 129.9 179.1 134.7 180.3 137.8C181.4 141.0 179.6 145.2 178.1 146.5C176.6 147.8 173.8 146.9 171.5 145.4C169.3 144.0 168.3 140.2 165.0 137.8C161.7 135.4 154.9 133.5 151.9 131.3C149.0 129.1 146.5 125.5 147.6 124.8Z" fill="#e5f3ec"/><path d="M253.2 129.1C254.9 128.0 260.6 128.0 263.0 129.1C265.4 130.2 267.2 133.1 267.4 135.6C267.6 138.2 264.3 141.4 264.1 144.4C263.9 147.3 266.6 150.7 266.3 153.1C265.9 155.5 263.8 158.1 261.9 158.5C260.1 158.9 256.3 157.6 255.4 155.2C254.5 152.8 256.8 147.7 256.5 144.4C256.1 141.0 253.8 138.2 253.2 135.6C252.7 133.1 251.5 130.2 253.2 129.1Z" fill="#e5f3ec"/><ellipse cx="326.2" cy="112.8" rx="2.6" ry="1.7" fill="#e5f3ec"/><path d="M453.6 75.8C455.4 74.5 461.1 73.4 464.5 72.5C467.8 71.6 471.9 71.6 473.2 70.3C474.5 69.0 470.2 65.6 472.1 64.9C473.9 64.1 479.8 66.3 484.1 66.0C488.3 65.6 492.3 63.8 497.1 62.7C501.9 61.6 507.6 60.3 512.4 59.4C517.2 58.6 522.1 56.9 525.4 57.7C528.8 58.4 530.1 61.8 532.0 63.8C533.8 65.7 534.1 67.9 536.3 69.2C538.5 70.5 542.1 70.1 545.0 71.4C548.0 72.7 550.8 74.8 553.7 76.8C556.7 78.9 559.1 80.8 562.5 83.4C565.8 86.0 570.0 89.3 573.3 92.1C576.7 94.9 579.1 97.5 582.1 99.7C585.0 101.9 588.9 102.7 590.8 105.2C592.6 107.6 591.5 110.9 592.9 113.9C594.4 116.8 596.5 120.7 599.5 122.6C602.4 124.4 606.7 124.2 610.4 124.8C614.1 125.3 618.7 126.4 621.3 125.8C623.8 125.3 623.4 121.3 625.6 121.5C627.8 121.7 631.7 125.5 634.3 126.9C636.9 128.4 639.2 128.0 640.9 130.2C642.5 132.4 643.8 136.1 644.1 140.0C644.5 143.9 643.4 149.0 643.0 153.1C642.7 157.1 641.6 160.6 641.9 164.0C642.3 167.3 643.5 170.4 645.2 172.7C646.9 174.9 649.5 175.5 651.7 177.0C654.0 178.5 655.7 179.9 658.3 181.4C660.9 182.9 666.2 184.3 667.0 185.7C667.7 187.2 664.9 190.1 662.6 190.1C660.4 190.1 657.3 187.0 653.9 185.7C650.6 184.4 646.7 183.2 643.0 182.5C639.3 181.7 635.5 182.3 632.1 181.4C628.8 180.4 626.4 179.2 623.4 177.0C620.5 174.8 617.7 171.6 614.7 168.3C611.8 165.0 609.0 160.8 606.0 157.4C603.0 154.1 599.9 151.7 597.3 148.7C594.7 145.7 593.7 142.0 590.8 140.0C587.8 138.0 582.8 138.2 579.9 136.7C576.9 135.3 575.0 133.7 573.3 131.3C571.7 128.9 571.6 125.5 570.1 122.6C568.6 119.6 565.9 117.2 564.6 113.9C563.3 110.5 563.6 106.3 562.5 103.0C561.3 99.6 560.3 96.9 558.1 94.3C555.9 91.7 552.4 90.0 549.4 87.7C546.4 85.5 543.6 83.0 540.7 81.2C537.7 79.3 534.9 77.8 532.0 76.8C529.0 75.9 526.6 75.4 523.3 75.8C519.9 76.1 515.7 77.5 512.4 79.0C509.0 80.5 507.0 82.6 503.7 84.5C500.3 86.3 496.8 89.0 492.8 89.9C488.7 90.8 483.8 90.5 479.7 89.9C475.6 89.4 472.5 87.6 468.8 86.6C465.1 85.7 460.5 85.6 457.9 84.5C455.3 83.4 454.3 81.6 453.6 80.1C452.8 78.6 451.7 77.0 453.6 75.8Z" fill="#fee496"/><path d="M592.9 87.7C594.8 85.9 598.3 85.7 601.7 85.6C605.0 85.4 609.6 85.2 612.5 86.6C615.5 88.1 617.2 91.5 619.1 94.3C620.9 97.0 622.9 100.0 623.4 103.0C624.0 105.9 623.8 110.0 622.3 111.7C620.9 113.4 617.1 113.5 614.7 112.8C612.3 112.0 610.4 107.9 608.2 107.3C606.0 106.8 604.2 110.2 601.7 109.5C599.1 108.8 594.8 105.2 592.9 103.0C591.1 100.8 590.8 99.0 590.8 96.4C590.8 93.9 591.1 89.6 592.9 87.7Z" fill="#fee496"/><path d="M630.0 85.6C631.1 84.8 635.6 84.6 637.6 85.6C639.6 86.5 641.4 88.8 641.9 91.0C642.5 93.2 642.0 98.1 640.9 98.6C639.7 99.2 637.1 95.7 635.4 94.3C633.7 92.8 632.0 91.4 631.1 89.9C630.1 88.4 628.9 86.3 630.0 85.6Z" fill="#fee496"/><ellipse cx="607.1" cy="74.2" rx="5.4" ry="3.3" fill="#fee496"/><path d="M668.1 153.1C670.3 149.7 673.3 147.3 675.7 144.4C678.1 141.4 679.6 138.8 682.2 135.6C684.8 132.5 687.6 129.2 690.9 125.8C694.3 122.5 698.1 119.6 701.8 116.0C705.5 112.5 709.0 108.3 712.7 105.2C716.4 102.0 720.3 99.0 723.6 97.5C726.9 96.1 730.5 95.5 732.3 96.4C734.2 97.4 735.2 100.8 734.5 103.0C733.8 105.2 730.6 107.7 728.0 109.5C725.4 111.4 722.2 111.6 719.3 113.9C716.3 116.1 712.8 119.2 710.5 122.6C708.3 125.9 708.0 129.8 706.2 133.5C704.3 137.2 701.5 141.0 699.7 144.4C697.8 147.7 696.8 150.1 695.3 153.1C693.8 156.0 692.8 159.6 690.9 161.8C689.1 164.0 687.0 165.0 684.4 166.1C681.8 167.2 678.7 166.8 675.7 168.3C672.7 169.8 669.6 174.1 667.0 174.8C664.4 175.6 661.2 174.5 660.5 172.7C659.7 170.8 661.3 167.3 662.6 164.0C663.9 160.6 665.9 156.4 668.1 153.1Z" fill="#fee496"/><path d="M745.4 100.8C746.9 99.5 751.3 98.6 754.1 98.6C756.9 98.6 760.6 99.5 761.7 100.8C762.8 102.1 762.3 104.9 760.6 106.2C759.0 107.5 754.5 108.4 751.9 108.4C749.3 108.4 746.5 107.5 745.4 106.2C744.3 104.9 743.9 102.1 745.4 100.8Z" fill="#fee496"/><ellipse cx="734.5" cy="111.7" rx="3.9" ry="3.9" fill="#fee496"/><path d="M471.0 157.4C472.5 154.5 476.0 150.9 479.7 148.7C483.4 146.5 488.0 144.9 492.8 144.4C497.6 143.8 503.8 144.3 508.0 145.4C512.3 146.6 516.0 148.1 517.8 150.9C519.7 153.7 518.3 158.1 518.9 161.8C519.5 165.5 518.9 169.9 521.1 172.7C523.3 175.4 527.2 177.0 532.0 178.1C536.8 179.2 543.8 178.3 549.4 179.2C554.9 180.1 560.9 181.7 564.6 183.6C568.3 185.4 571.5 188.1 571.2 190.1C570.8 192.1 566.9 194.6 562.5 195.5C558.0 196.5 551.0 195.3 545.0 195.5C539.1 195.7 534.3 196.6 527.6 196.6C520.9 196.6 511.8 196.3 505.8 195.5C499.9 194.8 496.5 194.3 492.8 192.3C489.1 190.2 486.6 186.9 484.1 183.6C481.5 180.2 479.7 175.6 477.5 172.7C475.3 169.7 472.1 168.7 471.0 166.1C469.9 163.5 469.5 160.4 471.0 157.4Z" fill="#fee496"/><ellipse cx="453.6" cy="150.9" rx="1.3" ry="1.3" fill="#fee496"/><ellipse cx="463.4" cy="150.5" rx="1.3" ry="1.3" fill="#fee496"/><path d="M710.5 172.7C712.0 171.0 716.3 169.8 719.3 169.4C722.2 169.0 725.7 169.2 728.0 170.5C730.2 171.8 732.3 174.8 732.3 177.0C732.3 179.2 730.6 182.3 728.0 183.6C725.4 184.8 720.0 185.4 717.1 184.6C714.1 183.9 711.7 181.2 710.5 179.2C709.4 177.2 709.1 174.3 710.5 172.7Z" fill="#fee496"/><path d="M667.0 174.8C668.5 173.0 674.5 172.7 677.9 172.7C681.2 172.7 686.2 173.4 686.6 174.8C687.0 176.3 683.0 179.9 680.1 181.4C677.1 182.9 671.4 184.7 669.2 183.6C666.9 182.4 665.5 176.7 667.0 174.8Z" fill="#fee496"/><ellipse cx="702.9" cy="208.6" rx="2.6" ry="3.3" fill="#fee496"/><ellipse cx="712.7" cy="191.2" rx="3.3" ry="1.7" fill="#fee496"/><path d="M810.7 61.6C811.1 59.8 815.7 58.5 819.4 57.7C823.1 56.9 828.1 56.7 832.5 56.8C836.9 56.9 842.4 57.3 845.6 58.3C848.7 59.3 851.4 61.0 851.0 62.7C850.6 64.4 846.9 66.7 843.4 68.1C839.9 69.6 834.8 71.4 830.3 71.4C825.9 71.4 820.6 69.8 817.3 68.1C813.9 66.5 810.4 63.4 810.7 61.6Z" fill="#fee496"/><ellipse cx="863.0" cy="46.4" rx="10.9" ry="4.8" fill="#fee496"/><path d="M881.5 62.7C879.1 51.2 871.4 62.8 867.3 63.8C863.3 64.7 859.4 65.9 857.5 68.1C855.7 70.4 857.8 73.9 856.5 76.8C855.2 79.8 852.0 82.6 849.9 85.6C847.9 88.5 844.8 91.3 844.5 94.3C844.1 97.2 846.4 100.4 847.7 103.0C849.0 105.6 851.5 106.9 852.1 109.5C852.7 112.1 850.3 115.3 851.0 118.2C851.8 121.2 854.0 124.7 856.5 126.9C858.9 129.2 860.9 130.5 865.2 131.3C869.4 132.0 878.7 142.9 881.5 131.3C884.3 119.6 883.9 74.2 881.5 62.7Z" fill="#fee496"/><path d="M881.5 133.5C880.2 131.2 875.5 133.8 873.9 135.6C872.2 137.5 870.4 142.1 871.7 144.4C873.0 146.6 879.8 150.6 881.5 148.7C883.2 146.9 882.8 135.7 881.5 133.5Z" fill="#fee496"/><path d="M836.9 150.9C837.6 149.4 841.2 145.6 843.4 145.4C845.6 145.3 849.6 148.3 849.9 149.8C850.3 151.3 847.4 153.4 845.6 154.2C843.7 154.9 840.5 154.7 839.0 154.2C837.6 153.6 836.1 152.4 836.9 150.9Z" fill="#fee496"/><path d="M865.2 207.5C865.5 205.8 871.1 204.6 873.9 204.2C876.7 203.9 880.2 203.5 881.5 205.3C882.8 207.2 883.2 213.7 881.5 215.1C879.8 216.6 874.5 215.3 871.7 214.0C868.9 212.7 864.8 209.2 865.2 207.5Z" fill="#fee496"/><path d="M754.1 217.3C755.2 216.2 758.4 214.9 760.6 215.1C762.9 215.3 766.4 217.3 767.2 218.4C767.9 219.5 767.2 221.1 765.0 221.7C762.8 222.2 756.0 222.4 754.1 221.7C752.2 220.9 753.0 218.4 754.1 217.3Z" fill="#fee496"/><ellipse cx="572.3" cy="59.9" rx="2.2" ry="1.1" fill="#fee496"/><ellipse cx="793.3" cy="59.9" rx="8.7" ry="2.2" fill="#fee496"/><path d="M101.9 245.6C103.9 244.1 108.7 243.6 112.7 243.4C116.8 243.2 121.4 243.4 125.8 244.5C130.3 245.6 134.4 248.3 138.9 249.9C143.3 251.6 148.2 252.4 151.9 254.3C155.6 256.1 159.2 257.5 160.7 260.8C162.1 264.2 161.4 269.8 160.7 273.9C159.9 278.0 156.3 281.4 156.3 284.8C156.3 288.1 160.7 290.5 160.7 293.5C160.7 296.4 157.8 299.6 156.3 302.2C154.8 304.8 154.2 306.1 151.9 308.7C149.7 311.3 146.9 316.0 143.2 317.4C139.5 318.9 134.6 318.6 130.2 317.4C125.7 316.3 120.8 312.0 117.1 310.9C113.4 309.8 112.1 310.2 108.4 310.9C104.7 311.6 98.7 314.2 95.3 315.3C92.0 316.4 92.5 316.9 88.8 317.4C85.1 318.0 78.4 318.2 73.5 318.5C68.7 318.9 65.3 319.4 60.5 319.6C55.7 319.8 49.7 320.0 45.2 319.6C40.8 319.2 37.3 319.3 34.3 317.4C31.4 315.6 31.0 310.8 27.8 308.7C24.7 306.7 16.2 306.8 15.8 305.5C15.5 304.2 22.5 302.8 25.6 301.1C28.8 299.4 31.4 296.6 34.3 295.7C37.3 294.7 41.0 294.2 43.1 295.7C45.1 297.1 44.1 302.9 46.3 304.4C48.5 305.9 52.2 305.1 56.1 304.4C60.0 303.6 65.9 302.2 69.2 300.0C72.5 297.8 73.9 294.3 75.7 291.3C77.6 288.3 79.3 285.9 80.1 282.6C80.8 279.3 79.0 274.9 80.1 271.7C81.2 268.6 84.0 266.3 86.6 264.1C89.2 261.9 92.9 260.7 95.3 258.6C97.7 256.6 99.7 254.3 100.8 252.1C101.9 249.9 99.8 247.1 101.9 245.6Z" fill="#fee496"/><path d="M-0.5 289.1C0.4 287.5 3.3 291.6 4.9 293.5C6.6 295.3 7.6 298.2 9.3 300.0C11.0 301.9 14.9 303.3 14.7 304.4C14.6 305.5 10.8 306.7 8.2 306.6C5.6 306.4 1.0 306.2 -0.5 303.3C-2.0 300.3 -1.4 290.8 -0.5 289.1Z" fill="#fee496"/><path d="M67.0 321.8C67.9 320.3 76.3 319.6 82.3 319.6C88.2 319.6 97.0 320.3 101.9 321.8C106.7 323.3 109.8 326.1 110.6 328.3C111.3 330.6 106.4 332.6 106.2 334.9C106.0 337.1 110.2 339.5 109.5 341.4C108.7 343.2 105.7 345.0 101.9 345.8C98.0 346.5 90.7 346.7 86.6 345.8C82.5 344.8 80.1 342.2 77.9 340.3C75.7 338.5 73.7 336.9 73.5 334.9C73.4 332.8 77.9 330.6 76.8 328.3C75.7 326.1 66.1 323.3 67.0 321.8Z" fill="#fee496"/><ellipse cx="135.6" cy="231.4" rx="8.3" ry="8.3" fill="#fee496"/><ellipse cx="91.0" cy="223.8" rx="5.4" ry="4.4" fill="#fee496"/><ellipse cx="238.0" cy="250.4" rx="5.4" ry="4.4" fill="#fee496"/><path d="M276.1 273.9C277.4 270.7 282.2 270.7 284.8 268.4C287.4 266.2 288.0 263.2 291.3 260.8C294.7 258.4 300.3 256.5 304.4 254.3C308.5 252.1 310.8 249.6 315.3 247.8C319.7 245.9 325.7 244.3 330.5 243.4C335.3 242.5 339.9 241.9 343.6 242.3C347.3 242.7 349.7 243.5 352.3 245.6C354.9 247.6 356.2 252.4 358.8 254.3C361.4 256.1 365.0 255.2 367.5 256.5C370.1 257.8 372.8 259.7 374.1 261.9C375.4 264.1 374.4 266.4 375.2 269.5C375.9 272.7 376.0 277.1 378.4 280.4C380.8 283.8 386.0 286.5 389.3 289.1C392.7 291.7 397.7 293.6 398.0 295.7C398.4 297.7 394.1 299.4 391.5 301.1C388.9 302.8 385.4 303.8 382.8 305.5C380.2 307.1 378.5 308.9 376.3 310.9C374.0 312.9 370.5 314.9 369.7 317.4C369.0 320.0 372.3 323.6 371.9 326.2C371.5 328.7 369.8 331.5 367.5 332.7C365.3 333.9 361.8 333.9 358.8 333.1C355.9 332.4 352.3 330.4 350.1 328.3C347.9 326.2 348.4 323.3 345.8 320.7C343.2 318.1 337.8 315.9 334.9 313.1C331.9 310.3 331.3 306.6 328.3 304.4C325.4 302.2 321.2 300.4 317.5 300.0C313.8 299.6 309.2 300.7 306.6 302.2C304.0 303.7 304.8 307.1 302.2 308.7C299.6 310.4 294.7 312.2 291.3 312.0C288.0 311.8 285.2 310.0 282.6 307.6C280.0 305.2 277.0 301.4 276.1 297.8C275.2 294.3 277.2 291.0 277.2 287.0C277.2 282.9 274.8 277.0 276.1 273.9Z" fill="#fee496"/><path d="M239.1 221.6C232.4 223.1 245.5 227.7 249.9 230.3C254.4 232.9 259.6 235.2 265.2 236.9C270.7 238.5 276.7 239.2 282.6 240.1C288.5 241.1 295.2 242.3 300.0 242.3C304.8 242.3 308.1 241.4 310.9 240.1C313.7 238.8 316.4 236.7 316.4 234.7C316.4 232.7 313.7 229.9 310.9 228.2C308.1 226.4 303.7 225.3 300.0 224.2C296.3 223.1 299.5 222.1 289.1 221.6C278.8 221.2 245.7 220.1 239.1 221.6Z" fill="#fee496"/><ellipse cx="367.5" cy="260.8" rx="6.5" ry="6.5" fill="#fee496"/><ellipse cx="411.1" cy="291.3" rx="12.0" ry="10.9" fill="#fee496"/><ellipse cx="435.1" cy="263.0" rx="7.6" ry="6.5" fill="#fee496"/><ellipse cx="438.3" cy="242.3" rx="2.6" ry="2.6" fill="#fee496"/><path d="M413.3 308.7C415.1 306.1 419.5 303.7 424.2 302.2C428.8 300.7 437.7 291.5 440.5 300.0C443.3 308.5 442.9 343.8 440.5 352.3C438.1 360.8 431.0 351.2 426.3 350.1C421.7 349.0 417.4 347.4 413.3 345.8C409.2 344.1 404.6 342.5 402.4 340.3C400.2 338.1 399.5 335.5 400.2 332.7C401.0 329.9 404.5 326.6 406.7 324.0C409.0 321.4 412.2 320.0 413.3 317.4C414.4 314.9 411.4 311.3 413.3 308.7Z" fill="#fee496"/><ellipse cx="390.4" cy="354.5" rx="17.4" ry="9.8" fill="#fee496"/><path d="M-0.5 390.4C1.0 389.3 5.4 389.1 8.2 389.3C11.0 389.5 15.8 390.6 15.8 391.5C15.8 392.4 11.0 394.0 8.2 394.8C5.4 395.5 1.0 396.6 -0.5 395.8C-2.0 395.1 -2.0 391.5 -0.5 390.4Z" fill="#fee496"/><path d="M53.9 393.7C56.5 392.6 65.8 390.9 71.4 389.3C76.9 387.8 81.1 385.4 86.6 384.5C92.2 383.6 98.1 384.0 104.0 383.9C110.0 383.8 119.2 383.1 121.5 383.9C123.7 384.6 120.4 386.7 117.1 388.2C113.8 389.7 107.0 391.5 101.9 392.6C96.7 393.7 92.2 394.2 86.6 394.8C81.1 395.3 74.4 395.7 69.2 395.8C64.0 396.0 58.7 396.2 56.1 395.8C53.5 395.5 51.4 394.8 53.9 393.7Z" fill="#fee496"/><path d="M171.5 388.2C174.9 385.8 180.5 385.3 186.8 383.9C193.1 382.4 201.2 380.6 208.6 379.5C216.0 378.4 223.3 377.8 230.3 377.3C237.4 376.8 244.0 376.3 249.9 376.7C255.9 377.0 259.6 378.5 265.2 379.5C270.7 380.5 278.2 381.9 282.6 382.8C287.1 383.7 291.3 384.3 291.3 385.0C291.3 385.6 286.7 386.7 282.6 386.7C278.5 386.7 272.9 385.1 267.4 385.0C261.8 384.8 256.6 385.3 249.9 386.0C243.3 386.8 235.6 388.2 228.2 389.3C220.8 390.4 213.4 391.5 206.4 392.6C199.4 393.7 192.3 394.7 186.8 395.8C181.2 397.0 177.1 398.7 173.7 399.1C170.4 399.5 167.6 399.9 167.2 398.0C166.8 396.2 168.2 390.6 171.5 388.2Z" fill="#fee496"/><path d="M321.8 381.7C324.4 380.6 333.3 378.6 339.2 378.4C345.2 378.2 352.8 379.5 356.7 380.6C360.5 381.7 362.1 383.7 362.1 385.0C362.1 386.2 360.5 388.0 356.7 388.2C352.8 388.4 344.8 386.6 339.2 386.0C333.7 385.5 327.0 385.7 324.0 385.0C321.0 384.2 319.2 382.8 321.8 381.7Z" fill="#fee496"/><path d="M6.0 260.8C6.4 259.5 10.0 262.1 12.6 264.1C15.2 266.1 20.4 270.8 21.3 272.8C22.2 274.8 19.9 276.2 18.0 276.1C16.2 275.9 12.4 274.3 10.4 271.7C8.4 269.1 5.7 262.1 6.0 260.8Z" fill="#e5f3ec"/><ellipse cx="256.5" cy="285.2" rx="3.9" ry="1.1" fill="#e5f3ec"/><ellipse cx="422.0" cy="412.8" rx="6.5" ry="1.3" fill="#e5f3ec"/><ellipse cx="464.5" cy="255.4" rx="10.5" ry="7.6" fill="#fee496"/><ellipse cx="440.5" cy="242.3" rx="4.4" ry="4.4" fill="#fee496"/><ellipse cx="440.5" cy="263.0" rx="4.4" ry="5.4" fill="#fee496"/><ellipse cx="543.9" cy="243.4" rx="13.5" ry="8.7" fill="#fee496"/><path d="M564.6 241.2C565.7 239.2 570.7 239.1 575.5 238.0C580.3 236.8 588.1 235.6 592.9 234.7C597.8 233.8 600.9 231.8 603.8 232.5C606.8 233.2 608.9 236.5 610.4 239.0C611.8 241.6 612.9 244.8 612.5 247.8C612.2 250.7 611.5 254.8 608.2 256.5C604.9 258.1 597.8 257.7 592.9 257.6C588.1 257.4 584.0 256.7 579.9 255.4C575.8 254.1 571.6 252.3 569.0 249.9C566.4 247.5 563.5 243.3 564.6 241.2Z" fill="#fee496"/><path d="M479.7 271.7C480.6 269.5 480.4 266.5 484.1 265.2C487.8 263.9 497.8 265.4 501.5 264.1C505.2 262.8 503.2 259.1 505.8 257.6C508.4 256.0 513.0 254.4 516.7 254.7C520.4 255.1 525.4 257.2 527.6 259.7C529.8 262.2 530.5 266.9 529.8 269.5C529.0 272.1 526.2 273.9 523.3 275.0C520.3 276.1 515.3 274.8 512.4 276.1C509.4 277.4 508.8 280.9 505.8 282.6C502.9 284.3 498.6 285.7 494.9 285.9C491.2 286.0 486.8 285.0 484.1 283.7C481.3 282.4 479.4 280.3 478.6 278.2C477.9 276.2 478.8 273.9 479.7 271.7Z" fill="#fee496"/><path d="M537.4 270.6C539.1 268.0 545.1 268.4 549.4 268.4C553.6 268.4 559.1 269.0 562.5 270.6C565.8 272.3 567.7 275.7 569.0 278.2C570.3 280.8 571.2 283.8 570.1 285.9C569.0 287.9 566.0 289.7 562.5 290.2C558.9 290.8 553.3 290.2 549.4 289.1C545.5 288.0 541.6 286.8 539.6 283.7C537.6 280.5 535.7 273.2 537.4 270.6Z" fill="#fee496"/><ellipse cx="612.5" cy="287.0" rx="16.3" ry="14.2" fill="#fee496"/><ellipse cx="447.0" cy="293.1" rx="12.0" ry="8.3" fill="#fee496"/><ellipse cx="577.7" cy="294.1" rx="5.4" ry="2.6" fill="#fee496"/><ellipse cx="589.7" cy="300.5" rx="4.4" ry="1.3" fill="#fee496"/><path d="M477.5 310.9C480.1 309.6 490.5 310.2 494.9 307.6C499.4 305.1 500.3 297.9 503.7 295.7C507.0 293.4 509.7 294.2 514.5 294.6C519.4 294.9 528.6 296.0 532.0 297.8C535.3 299.7 535.6 303.6 534.1 305.5C532.7 307.3 526.2 307.4 523.3 308.7C520.3 310.0 517.5 311.6 516.7 313.1C516.0 314.6 520.8 316.5 518.9 317.4C517.0 318.4 510.3 318.5 505.8 318.5C501.4 318.5 497.2 318.0 492.8 317.4C488.3 316.9 482.3 316.4 479.7 315.3C477.1 314.2 474.9 312.2 477.5 310.9Z" fill="#fee496"/><path d="M549.4 300.0C550.9 298.8 556.1 298.7 558.1 299.6C560.1 300.5 561.7 304.0 561.4 305.5C561.0 306.9 558.0 308.1 555.9 308.3C553.9 308.5 550.5 308.0 549.4 306.6C548.3 305.1 547.9 301.2 549.4 300.0Z" fill="#fee496"/><path d="M537.4 306.6C538.2 305.6 541.2 306.2 542.9 307.6C544.5 309.1 546.8 313.0 547.2 315.3C547.6 317.5 546.9 319.8 545.0 320.7C543.2 321.6 537.4 322.0 536.3 320.7C535.2 319.4 538.3 315.5 538.5 313.1C538.7 310.7 536.7 307.5 537.4 306.6Z" fill="#fee496"/><path d="M440.5 317.4C442.7 312.3 448.8 321.4 453.6 321.8C458.4 322.2 463.6 319.8 468.8 319.6C474.0 319.4 477.8 320.3 484.1 320.7C490.3 321.1 498.4 321.8 505.8 321.8C513.2 321.8 521.3 320.5 527.6 320.7C533.9 320.9 538.0 322.0 542.9 322.9C547.7 323.8 551.1 326.3 555.9 326.2C560.7 326.0 566.4 322.7 571.2 321.8C576.0 320.9 579.8 320.0 584.2 320.7C588.7 321.4 593.2 324.5 597.3 326.2C601.4 327.8 605.8 328.7 608.2 330.5C610.6 332.4 611.8 334.8 611.5 337.0C611.1 339.3 606.2 341.0 606.0 343.6C605.8 346.2 608.3 349.7 610.4 352.3C612.4 354.9 617.6 357.0 618.0 358.8C618.4 360.7 615.3 361.9 612.5 363.2C609.8 364.5 604.6 366.8 601.7 366.4C598.7 366.1 596.6 362.8 595.1 361.0C593.6 359.1 595.5 356.3 592.9 355.6C590.4 354.8 583.6 355.3 579.9 356.6C576.2 357.9 574.1 361.5 571.2 363.2C568.2 364.8 565.8 365.0 562.5 366.4C559.1 367.9 554.9 371.3 551.6 371.9C548.2 372.4 544.7 371.6 542.9 369.7C541.0 367.9 542.5 363.2 540.7 361.0C538.8 358.8 534.9 356.6 532.0 356.6C529.0 356.6 526.6 359.3 523.3 361.0C519.9 362.7 516.4 365.3 512.4 366.4C508.3 367.6 503.7 367.5 499.3 367.5C494.9 367.5 489.6 367.9 486.2 366.4C482.9 365.0 482.7 360.9 479.7 358.8C476.7 356.8 473.3 355.4 468.8 354.5C464.4 353.5 458.4 353.7 453.6 353.4C448.8 353.0 442.7 358.4 440.5 352.3C438.3 346.2 438.3 322.6 440.5 317.4Z" fill="#fee496"/><path d="M694.2 302.2C694.4 299.2 696.5 295.4 698.6 293.5C700.6 291.6 703.4 290.9 706.2 290.9C709.0 290.9 712.3 291.6 714.9 293.5C717.5 295.4 719.0 299.6 721.4 302.2C723.8 304.8 728.7 306.7 729.1 308.7C729.4 310.8 726.4 312.7 723.6 314.2C720.8 315.7 715.9 316.7 712.7 317.4C709.6 318.2 707.7 319.6 705.1 318.5C702.5 317.4 699.3 313.7 697.5 310.9C695.6 308.1 694.0 305.2 694.2 302.2Z" fill="#fee496"/><path d="M762.8 257.6C763.6 256.1 767.5 255.5 769.3 256.5C771.2 257.4 770.7 261.5 773.7 263.0C776.7 264.5 783.8 263.5 786.8 265.2C789.7 266.8 791.9 270.2 791.1 272.8C790.4 275.4 785.0 278.0 782.4 280.4C779.8 282.8 778.5 284.7 775.9 287.0C773.3 289.2 770.5 291.6 767.2 293.5C763.8 295.3 760.0 297.3 756.3 297.8C752.6 298.4 747.6 297.7 745.4 296.8C743.2 295.8 742.5 294.1 743.2 292.4C744.0 290.7 749.4 288.6 749.7 287.0C750.1 285.3 745.4 284.3 745.4 282.6C745.4 280.9 747.2 278.8 749.7 277.2C752.3 275.5 758.0 274.8 760.6 272.8C763.2 270.8 764.6 267.8 765.0 265.2C765.4 262.6 762.1 259.0 762.8 257.6Z" fill="#fee496"/><path d="M791.1 230.3C792.6 228.7 799.0 227.8 802.0 228.2C805.0 228.5 807.8 230.5 808.5 232.5C809.3 234.5 807.8 238.5 806.4 240.1C804.9 241.8 802.1 242.7 799.8 242.3C797.6 241.9 794.8 240.0 793.3 238.0C791.8 235.9 789.6 232.0 791.1 230.3Z" fill="#fee496"/><path d="M754.1 221.6C756.0 221.1 763.5 220.9 767.2 221.6C770.9 222.4 775.9 225.1 775.9 226.0C775.9 226.9 770.5 227.2 767.2 227.1C763.8 226.9 758.5 225.8 756.3 224.9C754.1 224.0 752.2 222.2 754.1 221.6Z" fill="#fee496"/><ellipse cx="739.9" cy="347.9" rx="15.2" ry="9.8" fill="#fee496"/><path d="M839.0 265.2C839.6 262.6 841.2 258.7 843.4 256.5C845.6 254.2 848.8 251.9 852.1 252.1C855.4 252.3 860.0 255.0 863.0 257.6C866.0 260.1 866.9 264.6 869.5 267.4C872.1 270.1 876.2 272.0 878.2 273.9C880.3 275.7 880.9 269.7 881.5 278.2C882.1 286.8 882.4 315.5 881.5 324.0C880.6 332.5 878.8 327.4 876.1 328.3C873.3 329.3 869.2 329.8 865.2 329.4C861.1 329.0 855.6 328.2 852.1 326.2C848.6 324.1 845.4 320.4 844.5 317.4C843.6 314.5 845.0 310.6 846.7 308.7C848.3 306.9 851.9 307.7 854.3 306.6C856.7 305.4 860.8 304.0 860.8 302.2C860.8 300.3 856.9 297.5 854.3 295.7C851.7 293.8 847.4 293.9 845.6 291.3C843.7 288.7 844.3 283.8 843.4 280.4C842.5 277.1 840.9 274.3 840.1 271.7C839.4 269.1 838.5 267.8 839.0 265.2Z" fill="#fee496"/><ellipse cx="662.6" cy="419.8" rx="14.2" ry="2.2" fill="#e5f3ec"/><path d="M267.4 192.3C270.1 189.3 276.9 186.1 280.4 185.7C284.0 185.4 287.7 187.9 288.1 190.1C288.4 192.3 285.0 196.0 282.6 198.8C280.2 201.6 277.0 205.7 273.9 206.4C270.8 207.2 265.2 205.6 264.1 203.2C263.0 200.7 264.6 195.2 267.4 192.3Z" fill="#ffffff"/><path d="M282.6 273.9C284.6 271.9 288.4 272.1 291.3 270.6C294.3 269.1 297.1 266.5 300.0 265.2C303.0 263.9 305.0 263.4 308.7 263.0C312.4 262.6 318.5 262.1 321.8 263.0C325.1 263.9 328.7 266.6 328.3 268.4C328.0 270.3 323.0 272.6 319.6 273.9C316.3 275.2 311.0 274.6 308.7 276.1C306.5 277.5 305.5 280.7 306.6 282.6C307.7 284.4 312.7 285.5 315.3 287.0C317.9 288.4 321.4 289.6 321.8 291.3C322.2 293.0 320.4 295.6 317.5 296.8C314.5 297.9 308.8 298.4 304.4 297.8C299.9 297.3 295.0 294.6 291.3 293.5C287.6 292.4 284.6 293.2 282.6 291.3C280.6 289.5 279.3 285.6 279.3 282.6C279.3 279.6 280.6 275.9 282.6 273.9Z" fill="#ffffff"/><path d="M-0.5 74.7C1.0 71.7 5.8 74.3 8.2 75.8C10.6 77.2 13.3 81.0 13.7 83.4C14.0 85.8 12.8 88.2 10.4 89.9C8.0 91.6 1.4 95.8 -0.5 93.2C-2.4 90.6 -2.0 77.6 -0.5 74.7Z" fill="#fdd283"/><path d="M247.8 174.8C250.4 172.6 256.4 172.3 260.8 172.7C265.3 173.0 270.2 176.6 273.9 177.0C277.6 177.4 279.3 175.6 282.6 174.8C285.9 174.1 290.5 172.3 293.5 172.7C296.5 173.0 299.3 174.8 300.0 177.0C300.8 179.2 299.7 183.9 297.9 185.7C296.0 187.6 292.1 188.1 289.1 187.9C286.2 187.7 283.8 184.6 280.4 184.6C277.1 184.6 272.9 185.9 269.5 187.9C266.2 189.9 264.2 195.5 260.8 196.6C257.5 197.7 252.5 196.3 249.9 194.4C247.4 192.6 246.0 189.1 245.6 185.7C245.2 182.4 245.2 177.1 247.8 174.8Z" fill="#fdd283"/><path d="M232.5 201.0C234.4 196.7 241.9 195.9 245.6 196.6C249.3 197.4 251.7 201.1 254.3 205.3C256.9 209.6 264.2 218.9 260.8 221.7C257.5 224.4 239.5 225.2 234.7 221.7C229.9 218.1 230.7 205.2 232.5 201.0Z" fill="#fdd283"/><ellipse cx="379.5" cy="160.7" rx="3.5" ry="2.8" fill="#fdd283"/><ellipse cx="334.9" cy="199.9" rx="6.5" ry="4.4" fill="#fdd283"/><ellipse cx="373.0" cy="202.1" rx="3.9" ry="3.3" fill="#fdd283"/><ellipse cx="389.3" cy="203.6" rx="3.9" ry="3.0" fill="#fdd283"/><ellipse cx="416.5" cy="202.1" rx="6.5" ry="3.9" fill="#fdd283"/><ellipse cx="259.7" cy="152.0" rx="4.8" ry="3.9" fill="#d4ecf4"/><path d="M549.4 76.8C550.1 76.5 554.4 80.4 558.1 83.4C561.8 86.3 567.1 90.6 571.2 94.3C575.2 98.0 579.8 101.8 582.1 105.2C584.3 108.5 582.4 110.9 584.2 113.9C586.1 116.8 590.0 120.0 592.9 122.6C595.9 125.2 598.0 127.6 601.7 129.1C605.4 130.6 610.3 130.5 614.7 131.3C619.2 132.0 624.1 132.7 627.8 133.5C631.5 134.2 634.5 133.1 636.5 135.6C638.5 138.2 639.6 144.3 639.8 148.7C640.0 153.2 637.0 158.1 637.6 161.8C638.1 165.5 642.5 167.9 643.0 170.5C643.6 173.1 642.7 176.3 640.9 177.0C639.0 177.8 635.1 176.3 632.1 174.8C629.2 173.4 626.4 171.3 623.4 168.3C620.5 165.3 617.7 160.4 614.7 157.4C611.8 154.5 609.0 153.5 606.0 150.9C603.0 148.3 600.3 144.8 597.3 142.2C594.3 139.6 591.2 137.9 588.6 135.6C586.0 133.4 583.9 132.1 582.1 129.1C580.2 126.1 579.6 121.6 577.7 118.2C575.8 114.9 572.6 112.5 571.2 109.5C569.7 106.5 570.5 103.8 569.0 100.8C567.5 97.8 565.0 94.7 562.5 92.1C559.9 89.5 556.0 88.1 553.7 85.6C551.5 83.0 548.6 77.2 549.4 76.8Z" fill="#fdd283"/><ellipse cx="602.7" cy="93.2" rx="4.4" ry="4.4" fill="#fdd283"/><path d="M682.2 140.0C684.1 136.3 688.0 131.7 690.9 129.1C693.9 126.5 697.8 124.0 699.7 124.8C701.5 125.5 702.6 130.5 701.8 133.5C701.1 136.4 697.5 138.8 695.3 142.2C693.1 145.5 690.4 149.7 688.8 153.1C687.1 156.4 687.2 160.7 685.5 161.8C683.8 162.9 679.9 161.4 679.0 159.6C678.0 157.7 679.5 154.2 680.1 150.9C680.6 147.6 680.4 143.7 682.2 140.0Z" fill="#fdd283"/><ellipse cx="492.8" cy="168.3" rx="9.8" ry="7.6" fill="#fdd283"/><ellipse cx="721.4" cy="174.8" rx="5.4" ry="2.6" fill="#fdd283"/><ellipse cx="830.3" cy="61.6" rx="6.5" ry="3.3" fill="#fdd283"/><path d="M881.5 68.1C879.1 61.1 870.9 69.9 867.3 72.5C863.8 75.1 863.0 80.0 860.8 83.4C858.6 86.7 855.0 89.5 854.3 92.1C853.5 94.7 854.6 96.8 856.5 98.6C858.3 100.5 864.1 100.8 865.2 103.0C866.3 105.2 860.2 109.8 863.0 111.7C865.8 113.5 878.4 121.3 881.5 113.9C884.6 106.5 883.9 75.2 881.5 68.1Z" fill="#fdd283"/><path d="M32.2 302.2C32.5 300.2 38.5 297.7 40.9 297.8C43.3 298.0 43.7 302.0 46.3 303.3C48.9 304.6 51.5 305.6 56.1 305.5C60.7 305.3 70.2 301.8 73.5 302.2C76.9 302.6 77.6 306.2 75.7 307.6C73.9 309.1 67.5 310.4 62.7 310.9C57.8 311.5 51.5 311.1 47.4 310.9C43.3 310.7 41.3 311.3 38.7 309.8C36.1 308.3 31.8 304.2 32.2 302.2Z" fill="#fdd283"/><path d="M91.0 281.5C92.4 280.2 97.4 279.3 101.9 279.3C106.3 279.3 113.4 280.4 117.1 281.5C120.8 282.6 123.6 284.6 123.6 285.9C123.6 287.2 120.8 288.6 117.1 289.1C113.4 289.7 105.9 289.5 101.9 289.1C97.8 288.8 95.0 288.2 93.1 287.0C91.3 285.7 89.5 282.8 91.0 281.5Z" fill="#fdd283"/><ellipse cx="114.9" cy="265.2" rx="3.9" ry="3.9" fill="#fdd283"/><ellipse cx="92.1" cy="335.5" rx="10.9" ry="6.5" fill="#fdd283"/><ellipse cx="91.0" cy="223.8" rx="2.6" ry="2.2" fill="#fdd283"/><path d="M337.1 268.4C340.8 267.1 344.2 265.2 347.9 265.2C351.6 265.2 355.5 266.6 358.8 268.4C362.2 270.3 365.0 272.9 367.5 276.1C370.1 279.2 372.8 283.6 374.1 287.0C375.4 290.3 375.9 292.3 375.2 295.7C374.4 299.0 371.4 303.2 369.7 306.6C368.1 309.9 367.6 313.4 365.4 315.3C363.1 317.1 360.0 317.8 356.7 317.4C353.3 317.1 349.1 314.9 345.8 313.1C342.4 311.2 339.6 309.1 337.1 306.6C334.5 304.0 332.4 300.4 330.5 297.8C328.7 295.3 325.8 293.2 326.2 291.3C326.5 289.5 329.4 287.7 332.7 287.0C336.0 286.2 343.5 287.9 345.8 287.0C348.0 286.0 347.6 282.6 345.8 281.5C343.9 280.4 339.0 281.0 334.9 280.4C330.8 279.9 323.3 279.5 321.8 278.2C320.3 276.9 323.6 274.5 326.2 272.8C328.8 271.1 333.4 269.7 337.1 268.4Z" fill="#fdd283"/><ellipse cx="411.1" cy="291.3" rx="3.3" ry="2.6" fill="#fdd283"/><ellipse cx="436.1" cy="263.0" rx="3.3" ry="2.6" fill="#fdd283"/><path d="M419.8 308.7C422.8 305.4 427.4 303.6 430.7 304.4C434.0 305.1 438.7 309.8 439.4 313.1C440.2 316.4 437.6 320.6 435.1 324.0C432.5 327.3 427.9 330.5 424.2 332.7C420.5 334.9 416.2 336.7 413.3 337.0C410.3 337.4 406.7 337.1 406.7 334.9C406.7 332.6 411.1 328.4 413.3 324.0C415.5 319.5 416.8 312.1 419.8 308.7Z" fill="#fdd283"/><ellipse cx="390.4" cy="354.5" rx="10.9" ry="6.5" fill="#fdd283"/><path d="M206.4 382.8C208.2 381.9 221.5 381.0 228.2 380.6C234.8 380.2 243.7 379.9 245.6 380.6C247.4 381.3 243.9 383.6 239.1 384.5C234.2 385.4 222.8 386.3 217.3 386.0C211.7 385.7 204.5 383.7 206.4 382.8Z" fill="#fdd283"/><ellipse cx="463.4" cy="255.4" rx="5.4" ry="3.3" fill="#fdd283"/><ellipse cx="515.6" cy="263.0" rx="6.5" ry="4.4" fill="#fdd283"/><ellipse cx="492.8" cy="273.5" rx="6.1" ry="3.9" fill="#fdd283"/><ellipse cx="552.0" cy="277.6" rx="8.3" ry="5.4" fill="#fdd283"/><ellipse cx="614.3" cy="287.0" rx="7.2" ry="6.1" fill="#fdd283"/><ellipse cx="447.0" cy="293.1" rx="5.4" ry="3.3" fill="#fdd283"/><path d="M697.5 302.2C697.3 298.9 699.6 295.9 701.8 294.6C704.1 293.3 708.0 293.1 710.5 294.6C713.1 296.1 715.6 300.5 717.1 303.3C718.6 306.1 720.4 308.9 719.3 310.9C718.1 312.9 713.3 314.7 710.5 315.3C707.8 315.8 705.1 316.4 702.9 314.2C700.7 312.0 697.7 305.5 697.5 302.2Z" fill="#fdd283"/><ellipse cx="798.7" cy="235.8" rx="3.3" ry="3.3" fill="#fdd283"/><ellipse cx="739.9" cy="347.9" rx="10.5" ry="6.5" fill="#fdd283"/><ellipse cx="859.7" cy="320.7" rx="8.7" ry="4.4" fill="#fdd283"/><path d="M245.6 203.2C247.6 202.8 251.2 206.5 253.2 209.7C255.2 212.8 258.9 219.6 257.6 221.7C256.3 223.7 248.4 223.3 245.6 221.7C242.8 220.0 241.2 215.0 241.2 211.9C241.2 208.7 243.6 203.5 245.6 203.2Z" fill="#fdbe70"/><ellipse cx="259.7" cy="152.4" rx="2.2" ry="1.7" fill="#bbe0eb"/><path d="M606.0 137.8C607.1 136.3 611.0 136.0 614.7 135.6C618.4 135.3 624.5 134.9 627.8 135.6C631.1 136.4 633.6 137.8 634.3 140.0C635.1 142.2 633.6 146.9 632.1 148.7C630.7 150.6 628.2 151.3 625.6 150.9C623.0 150.5 619.9 147.6 616.9 146.5C613.9 145.4 610.0 145.8 608.2 144.4C606.3 142.9 604.9 139.3 606.0 137.8Z" fill="#fdbe70"/><path d="M625.6 168.3C627.1 167.8 631.4 167.6 634.3 168.3C637.3 169.0 641.9 171.4 643.0 172.7C644.1 174.0 642.7 175.6 640.9 175.9C639.0 176.3 634.7 175.6 632.1 174.8C629.6 174.1 626.7 172.7 625.6 171.6C624.5 170.5 624.1 168.9 625.6 168.3Z" fill="#fdbe70"/><ellipse cx="496.0" cy="169.4" rx="4.8" ry="3.0" fill="#fdbe70"/><path d="M881.5 74.7C880.2 72.1 876.3 75.0 873.9 76.8C871.5 78.7 867.5 83.0 867.3 85.6C867.2 88.1 870.4 91.0 872.8 92.1C875.2 93.2 880.0 95.0 881.5 92.1C883.0 89.1 882.8 77.3 881.5 74.7Z" fill="#fdbe70"/><path d="M39.8 303.3C39.8 302.7 43.2 304.7 45.2 305.5C47.3 306.2 51.8 307.1 51.8 307.6C51.8 308.2 47.3 309.5 45.2 308.7C43.2 308.0 39.8 303.8 39.8 303.3Z" fill="#fdbe70"/><ellipse cx="92.1" cy="335.5" rx="5.4" ry="3.3" fill="#fdbe70"/><ellipse cx="362.1" cy="286.3" rx="6.5" ry="1.7" fill="#fdbe70"/><path d="M343.6 306.6C345.1 305.6 353.0 307.6 356.7 308.7C360.4 309.8 365.0 311.8 365.4 313.1C365.7 314.4 361.8 316.2 358.8 316.4C355.9 316.5 350.5 315.8 347.9 314.2C345.4 312.5 342.1 307.5 343.6 306.6Z" fill="#fdbe70"/><ellipse cx="390.4" cy="354.5" rx="6.5" ry="3.9" fill="#fdbe70"/><ellipse cx="552.0" cy="277.6" rx="4.4" ry="2.6" fill="#fdbe70"/><ellipse cx="614.7" cy="287.0" rx="3.0" ry="2.6" fill="#fdbe70"/><path d="M700.7 302.2C700.7 299.3 703.4 296.2 705.1 295.7C706.8 295.1 709.1 297.1 710.5 298.9C712.0 300.8 713.6 304.1 713.8 306.6C714.0 309.0 713.1 312.1 711.6 313.1C710.2 314.1 707.0 314.5 705.1 312.7C703.2 310.8 700.7 305.1 700.7 302.2Z" fill="#fdbe70"/><ellipse cx="739.3" cy="347.9" rx="6.5" ry="3.9" fill="#fdbe70"/><ellipse cx="637.6" cy="172.0" rx="6.5" ry="3.0" fill="#fca85e"/><ellipse cx="390.4" cy="354.5" rx="3.3" ry="2.0" fill="#fca85e"/><path d="M702.9 302.2C703.2 299.8 705.3 296.6 706.6 296.8C707.9 296.9 710.0 300.9 710.5 303.3C711.1 305.7 711.0 309.6 710.1 310.9C709.2 312.2 706.3 312.4 705.1 310.9C703.9 309.4 702.7 304.6 702.9 302.2Z" fill="#fca85e"/><ellipse cx="738.9" cy="347.9" rx="3.3" ry="2.0" fill="#fca85e"/><ellipse cx="639.1" cy="172.7" rx="4.8" ry="2.2" fill="#f98e52"/><ellipse cx="640.2" cy="173.1" rx="3.3" ry="1.5" fill="#f47044"/><ellipse cx="706.6" cy="303.9" rx="1.5" ry="6.1" fill="#f47044"/><ellipse cx="641.1" cy="173.3" rx="2.0" ry="1.1" fill="#dd3d2d"/><ellipse cx="641.3" cy="173.3" rx="1.1" ry="0.7" fill="#cf2726"/><g><use href="#grid"/><use href="#coast"/></g></g>
<path d="M50.00 442.00v5.5M148.12 442.00v5.5M246.23 442.00v5.5M344.35 442.00v5.5M442.46 442.00v5.5M540.58 442.00v5.5M638.70 442.00v5.5M736.81 442.00v5.5M834.93 442.00v5.5M0 418.12h-5.5M0 368.98h-5.5M0 319.85h-5.5M0 270.72h-5.5M0 221.59h-5.5M0 172.46h-5.5M0 123.32h-5.5M0 74.19h-5.5M0 25.06h-5.5" stroke="#000" stroke-width="1.1" fill="none"/>
<rect x="0" y="0" width="881.20" height="442.00" fill="none" stroke="#000" stroke-width="1.4"/>
<text x="879.3" y="-8.5" font-size="34.15" text-anchor="end">T, MAM Increment 821.0 hpa: <tspan dx="3.7">0000UTC</tspan></text>
<text x="-9.6" y="34.3" font-size="27.6" text-anchor="end">80°N</text>
<text x="-9.6" y="83.4" font-size="27.6" text-anchor="end">60°N</text>
<text x="-9.6" y="132.5" font-size="27.6" text-anchor="end">40°N</text>
<text x="-9.6" y="181.7" font-size="27.6" text-anchor="end">20°N</text>
<text x="-9.6" y="230.8" font-size="27.6" text-anchor="end">0°</text>
<text x="-9.6" y="279.9" font-size="27.6" text-anchor="end">20°S</text>
<text x="-9.6" y="329.1" font-size="27.6" text-anchor="end">40°S</text>
<text x="-9.6" y="378.2" font-size="27.6" text-anchor="end">60°S</text>
<text x="-9.6" y="427.3" font-size="27.6" text-anchor="end">80°S</text>
</g>
<g transform="translate(1135.53,41.38)">
<g clip-path="url(#cp0)"><ellipse cx="46.3" cy="36.1" rx="4.8" ry="3.0" fill="#fee496"/><path d="M16.9 103.0C17.3 102.0 20.8 100.7 23.4 100.4C26.0 100.0 29.8 100.2 32.1 100.8C34.4 101.4 37.3 103.3 36.9 104.1C36.6 104.8 32.6 104.8 30.0 105.2C27.3 105.5 23.5 106.6 21.2 106.2C19.0 105.9 16.5 104.0 16.9 103.0Z" fill="#fee496"/><ellipse cx="191.1" cy="114.7" rx="5.4" ry="1.7" fill="#fee496"/><path d="M237.9 154.2C238.9 152.7 243.3 153.2 245.6 152.0C247.8 150.8 249.0 147.0 251.0 147.0C253.0 147.0 255.9 150.2 257.5 152.0C259.1 153.8 260.6 155.6 260.4 157.4C260.2 159.3 259.0 161.8 256.4 162.9C253.9 164.0 248.3 164.3 245.6 164.0C242.8 163.6 241.4 162.4 240.1 160.7C238.8 159.0 237.0 155.6 237.9 154.2Z" fill="#fee496"/><path d="M170.4 170.5C171.0 169.0 173.5 166.7 175.9 166.1C178.3 165.6 182.8 165.7 184.6 167.2C186.4 168.7 187.1 172.8 186.3 174.8C185.6 176.9 182.6 179.2 180.2 179.2C177.9 179.2 174.3 176.3 172.6 174.8C170.9 173.4 169.9 172.0 170.4 170.5Z" fill="#fee496"/><ellipse cx="19.1" cy="197.1" rx="4.4" ry="3.7" fill="#fee496"/><ellipse cx="340.3" cy="131.3" rx="1.1" ry="1.1" fill="#fee496"/><ellipse cx="178.5" cy="144.4" rx="3.0" ry="2.6" fill="#e5f3ec"/><path d="M209.6 158.5C210.9 157.6 217.0 156.7 219.4 157.4C221.8 158.2 224.2 161.6 223.8 162.9C223.4 164.2 219.3 165.0 217.2 165.0C215.2 165.0 213.1 164.0 211.8 162.9C210.5 161.8 208.3 159.4 209.6 158.5Z" fill="#e5f3ec"/><ellipse cx="517.8" cy="68.6" rx="5.4" ry="3.0" fill="#fee496"/><path d="M579.8 109.5C580.8 107.1 583.8 105.5 585.3 106.2C586.8 107.0 587.8 110.7 588.6 113.9C589.3 117.0 589.8 121.8 589.6 124.8C589.5 127.7 588.8 130.5 587.5 131.3C586.2 132.0 583.3 131.0 582.0 129.1C580.7 127.3 580.2 123.7 579.8 120.4C579.5 117.1 578.9 111.9 579.8 109.5Z" fill="#fee496"/><path d="M591.8 131.3C591.8 129.4 594.9 127.2 597.3 126.5C599.7 125.8 603.9 125.7 606.0 126.9C608.0 128.1 608.1 131.4 609.2 133.5C610.4 135.5 610.8 138.5 612.5 138.9C614.2 139.3 617.0 136.8 619.0 135.6C621.1 134.5 621.9 132.6 624.5 132.4C627.1 132.2 632.3 132.9 634.3 134.6C636.3 136.2 636.8 139.8 636.5 142.2C636.1 144.6 634.7 147.8 632.1 148.7C629.5 149.6 624.6 148.0 621.2 147.6C617.9 147.2 615.5 147.3 612.5 146.5C609.6 145.8 606.4 144.7 603.8 143.3C601.2 141.8 599.3 139.9 597.3 137.8C595.2 135.8 591.8 133.2 591.8 131.3Z" fill="#fee496"/><ellipse cx="639.7" cy="175.9" rx="5.4" ry="3.3" fill="#fee496"/><ellipse cx="661.5" cy="184.6" rx="2.6" ry="1.7" fill="#fee496"/><ellipse cx="701.8" cy="208.2" rx="4.4" ry="4.8" fill="#fee496"/><ellipse cx="692.0" cy="219.1" rx="3.3" ry="2.2" fill="#fee496"/><path d="M865.1 87.7C865.8 86.3 868.2 85.0 870.6 84.5C873.0 83.9 877.6 82.8 879.3 84.5C881.0 86.1 881.9 92.4 880.8 94.3C879.7 96.2 875.2 95.8 872.8 95.6C870.4 95.4 868.0 94.5 866.7 93.2C865.4 91.8 864.5 89.2 865.1 87.7Z" fill="#fee496"/><ellipse cx="873.4" cy="121.1" rx="6.1" ry="3.3" fill="#fee496"/><ellipse cx="787.8" cy="34.4" rx="14.2" ry="3.3" fill="#e5f3ec"/><ellipse cx="817.9" cy="183.1" rx="2.2" ry="1.3" fill="#e5f3ec"/><path d="M174.8 291.3C174.4 286.7 178.5 278.1 181.3 275.0C184.1 271.8 186.9 272.2 191.1 272.8C195.4 273.4 200.8 277.5 206.4 278.2C211.9 279.0 219.0 277.0 223.8 277.2C228.6 277.3 233.9 277.9 234.7 279.3C235.4 280.8 228.0 283.5 228.1 285.9C228.3 288.3 233.2 290.7 235.8 293.5C238.4 296.3 241.5 299.2 243.4 302.2C245.2 305.2 244.4 310.0 246.6 310.9C248.9 311.8 254.0 306.9 256.4 307.6C258.9 308.4 258.4 313.6 260.8 315.3C263.2 316.9 270.6 316.5 270.6 317.4C270.6 318.4 264.3 319.7 260.8 320.7C257.3 321.7 254.0 323.7 249.9 323.5C245.8 323.4 239.3 319.2 236.8 319.6C234.4 320.1 238.0 324.3 235.8 326.2C233.5 328.0 228.4 330.1 223.8 330.5C219.2 330.9 213.2 330.2 208.5 328.3C203.9 326.5 200.1 321.8 196.6 319.6C193.0 317.4 190.1 318.2 187.8 315.3C185.6 312.3 185.7 306.3 183.5 302.2C181.3 298.1 175.2 295.9 174.8 291.3Z" fill="#fee496"/><path d="M251.0 341.4C252.1 340.5 256.0 339.7 258.6 339.7C261.2 339.7 265.9 340.4 266.2 341.4C266.6 342.4 263.2 344.8 260.8 345.3C258.4 345.9 253.8 345.3 252.1 344.7C250.4 344.0 249.9 342.2 251.0 341.4Z" fill="#fee496"/><path d="M344.6 312.0C345.4 310.9 349.9 310.5 352.3 310.9C354.7 311.3 358.2 312.9 358.8 314.2C359.4 315.5 357.4 318.0 355.5 318.5C353.7 319.1 349.8 318.6 347.9 317.4C346.1 316.3 343.9 313.1 344.6 312.0Z" fill="#fee496"/><path d="M359.9 310.9C359.7 309.2 361.5 305.7 363.2 304.4C364.8 303.1 368.8 302.4 369.7 303.3C370.6 304.2 369.5 308.0 368.6 309.8C367.7 311.7 365.7 314.0 364.2 314.2C362.8 314.4 360.1 312.6 359.9 310.9Z" fill="#fee496"/><path d="M410.0 331.6C410.7 330.1 414.8 327.8 417.6 326.2C420.4 324.5 424.6 321.8 426.3 321.8C428.0 321.8 428.5 324.3 427.4 326.2C426.3 328.0 422.2 331.2 419.8 332.7C417.4 334.2 414.9 335.0 413.2 334.9C411.6 334.7 409.2 333.1 410.0 331.6Z" fill="#fee496"/><ellipse cx="91.6" cy="222.7" rx="0.9" ry="2.6" fill="#fee496"/><path d="M89.8 282.6C90.2 280.2 95.1 275.5 97.5 275.0C99.9 274.4 101.0 278.0 104.0 279.3C107.0 280.6 112.1 281.5 114.9 282.6C117.7 283.7 120.0 284.2 120.3 285.9C120.7 287.5 119.5 291.3 117.1 292.4C114.7 293.5 109.9 293.0 106.2 292.4C102.5 291.8 98.1 290.8 95.3 289.1C92.5 287.5 89.5 285.0 89.8 282.6Z" fill="#e5f3ec"/><ellipse cx="4.9" cy="277.2" rx="3.9" ry="2.2" fill="#e5f3ec"/><ellipse cx="81.1" cy="328.3" rx="3.3" ry="1.7" fill="#e5f3ec"/><ellipse cx="114.9" cy="313.5" rx="2.2" ry="1.7" fill="#e5f3ec"/><ellipse cx="74.6" cy="303.3" rx="1.7" ry="2.6" fill="#e5f3ec"/><path d="M613.6 249.9C614.7 247.2 618.1 242.5 621.2 240.1C624.4 237.7 627.7 236.6 632.1 235.8C636.6 234.9 642.7 234.0 647.4 235.1C652.0 236.2 657.5 239.4 659.3 242.3C661.2 245.2 659.4 249.0 658.2 252.1C657.1 255.3 653.2 257.5 652.8 260.8C652.4 264.2 654.4 268.4 656.1 271.7C657.7 275.0 659.6 278.0 662.6 280.4C665.6 282.8 669.4 284.2 673.5 285.9C677.6 287.5 683.6 288.2 686.6 290.2C689.5 292.3 690.5 295.3 690.9 297.8C691.3 300.4 688.9 303.2 688.7 305.5C688.6 307.7 692.0 309.4 689.8 310.9C687.6 312.4 679.9 313.2 675.7 314.2C671.4 315.1 668.1 316.9 664.8 316.4C661.4 315.8 658.7 312.9 656.1 310.9C653.5 308.9 652.9 306.0 649.5 304.4C646.2 302.7 640.5 302.4 636.5 301.1C632.4 299.8 626.5 298.2 625.6 296.8C624.7 295.3 631.0 294.4 631.0 292.4C631.0 290.4 627.1 288.3 625.6 284.8C624.1 281.3 623.1 275.6 622.3 271.7C621.6 267.8 622.5 264.5 621.2 261.9C619.9 259.3 616.0 258.5 614.7 256.5C613.4 254.4 612.5 252.7 613.6 249.9Z" fill="#fee496"/><path d="M645.2 316.4C646.7 315.4 652.7 314.5 656.1 314.8C659.4 315.2 664.4 317.4 664.8 318.5C665.2 319.6 661.2 321.0 658.2 321.4C655.3 321.7 649.6 321.6 647.4 320.7C645.1 319.9 643.7 317.4 645.2 316.4Z" fill="#fee496"/><path d="M660.4 334.9C661.4 333.0 663.6 331.1 667.0 330.5C670.3 330.0 676.5 331.6 680.0 331.6C683.5 331.6 686.0 329.0 687.6 330.5C689.3 332.0 689.6 337.0 689.8 340.3C690.0 343.6 690.8 348.3 688.7 350.1C686.7 352.0 681.2 350.3 677.8 351.2C674.5 352.1 672.5 354.6 669.1 355.6C665.8 356.5 661.6 356.3 658.2 356.6C654.9 357.0 652.5 357.0 649.5 357.7C646.6 358.5 643.4 360.6 640.8 361.0C638.2 361.4 634.8 361.6 634.3 359.9C633.7 358.2 635.7 353.2 637.6 351.2C639.4 349.2 642.0 348.1 645.2 347.9C648.3 347.7 652.7 350.1 656.1 350.1C659.4 350.1 663.9 349.4 664.8 347.9C665.7 346.5 662.3 343.6 661.5 341.4C660.8 339.2 659.5 336.7 660.4 334.9Z" fill="#fee496"/><path d="M706.2 337.0C706.9 333.7 710.8 331.7 712.7 328.3C714.5 325.0 714.5 319.1 717.0 317.4C719.6 315.8 723.9 317.8 727.9 318.5C732.0 319.3 737.3 320.1 741.0 321.8C744.7 323.5 747.7 325.7 749.7 328.3C751.8 330.9 753.2 333.9 753.0 337.0C752.8 340.2 751.0 343.9 748.6 346.8C746.2 349.8 742.7 352.8 738.8 354.5C734.9 356.1 729.8 356.6 725.8 356.6C721.7 356.6 717.8 355.9 714.9 354.5C711.9 353.0 709.8 350.9 708.3 347.9C706.9 345.0 705.4 340.4 706.2 337.0Z" fill="#fee496"/><path d="M797.6 254.3C797.8 250.0 799.8 244.7 802.0 241.2C804.2 237.7 807.4 235.2 810.7 233.6C814.0 232.0 817.5 231.5 821.6 232.1C825.7 232.6 831.7 235.1 834.6 236.9C837.6 238.6 839.7 240.1 839.0 242.3C838.3 244.5 832.1 247.2 830.3 249.9C828.4 252.7 828.3 255.7 828.1 258.6C827.9 261.6 830.7 265.1 829.2 267.4C827.7 269.6 822.9 271.0 819.4 271.7C815.9 272.4 811.7 272.6 808.5 271.7C805.4 270.8 802.7 269.2 800.9 266.3C799.0 263.3 797.4 258.5 797.6 254.3Z" fill="#fee496"/><path d="M688.7 239.0C689.1 238.3 691.4 243.0 693.1 245.6C694.8 248.2 698.2 252.4 698.5 254.3C698.9 256.1 696.6 257.2 695.3 256.5C694.0 255.7 692.0 252.9 690.9 249.9C689.8 247.0 688.4 239.8 688.7 239.0Z" fill="#fee496"/><path d="M685.5 221.6C687.0 220.9 694.3 220.7 695.3 221.6C696.2 222.5 692.4 226.3 690.9 227.1C689.4 227.8 687.5 226.9 686.6 226.0C685.6 225.1 684.0 222.4 685.5 221.6Z" fill="#fee496"/><ellipse cx="711.6" cy="303.3" rx="3.0" ry="6.5" fill="#fee496"/><path d="M845.5 395.8C846.6 394.6 850.9 392.7 854.2 391.9C857.6 391.2 862.7 391.0 865.1 391.5C867.5 392.0 869.5 393.8 868.4 394.8C867.3 395.7 862.1 396.2 858.6 396.9C855.1 397.7 849.9 399.3 847.7 399.1C845.5 398.9 844.4 397.1 845.5 395.8Z" fill="#fee496"/><ellipse cx="710.5" cy="386.5" rx="2.6" ry="0.9" fill="#fee496"/><path d="M247.7 153.1C248.1 151.0 250.2 149.6 252.1 149.8C253.9 150.0 257.7 152.3 258.6 154.2C259.6 156.0 259.0 159.4 257.5 160.7C256.1 162.0 251.6 163.1 249.9 161.8C248.2 160.5 247.4 155.1 247.7 153.1Z" fill="#fdd283"/><ellipse cx="599.9" cy="131.3" rx="3.9" ry="3.0" fill="#fdd283"/><ellipse cx="607.7" cy="138.9" rx="3.5" ry="3.0" fill="#fdd283"/><path d="M191.1 293.5C192.0 291.5 195.1 289.6 197.6 289.6C200.2 289.6 203.0 291.9 206.4 293.5C209.7 295.1 216.9 297.3 217.2 298.9C217.6 300.6 211.5 302.0 208.5 303.3C205.6 304.6 202.6 306.9 199.8 306.6C197.0 306.2 193.7 303.3 192.2 301.1C190.7 298.9 190.2 295.4 191.1 293.5Z" fill="#fdd283"/><path d="M720.3 334.9C721.8 332.9 725.0 330.4 727.9 330.1C730.9 329.7 735.5 331.1 737.7 332.7C740.0 334.2 741.6 337.0 741.0 339.2C740.4 341.4 737.4 344.5 734.5 345.8C731.5 347.0 726.2 347.6 723.6 346.8C721.0 346.1 719.8 343.4 719.2 341.4C718.7 339.4 718.8 336.8 720.3 334.9Z" fill="#fdd283"/><g transform="matrix(1.00143 0 0 1 -1.17 0)"><use href="#grid"/><use href="#coast"/></g></g>
<path d="M48.90 442.00v5.5M147.16 442.00v5.5M245.41 442.00v5.5M343.67 442.00v5.5M441.93 442.00v5.5M540.18 442.00v5.5M638.44 442.00v5.5M736.70 442.00v5.5M834.95 442.00v5.5M0 418.12h-5.5M0 368.98h-5.5M0 319.85h-5.5M0 270.72h-5.5M0 221.59h-5.5M0 172.46h-5.5M0 123.32h-5.5M0 74.19h-5.5M0 25.06h-5.5" stroke="#000" stroke-width="1.1" fill="none"/>
<rect x="0" y="0" width="881.20" height="442.00" fill="none" stroke="#000" stroke-width="1.4"/>
<text x="879.3" y="-8.5" font-size="34.15" text-anchor="end">T, MAM Increment 821.0 hpa: <tspan dx="3.7">0006UTC</tspan></text>
</g>
<g transform="translate(78.5,581.38)">
<g clip-path="url(#cp1)"><path d="M-0.5 23.6C1.4 20.6 5.6 20.9 10.4 20.3C15.2 19.8 22.3 19.8 27.8 20.3C33.4 20.9 37.9 22.3 43.1 23.6C48.2 24.9 54.8 25.9 58.3 27.9C61.8 30.0 63.7 33.1 63.7 35.6C63.7 38.0 61.8 40.8 58.3 42.1C54.8 43.4 48.2 43.7 43.1 43.2C37.9 42.6 33.0 40.1 27.8 38.8C22.6 37.5 17.4 35.7 12.6 35.6C7.8 35.4 1.7 39.8 -0.5 37.7C-2.7 35.7 -2.4 26.5 -0.5 23.6Z" fill="#fee496"/><path d="M-0.5 61.7C1.7 56.1 8.1 61.2 12.6 60.6C17.0 60.0 21.9 57.9 25.6 58.0C29.3 58.1 34.7 59.8 34.3 61.0C34.0 62.2 26.8 63.2 23.5 65.0C20.1 66.7 15.5 69.3 14.7 71.5C14.0 73.7 19.5 75.4 19.1 78.0C18.7 80.6 14.8 84.5 12.6 86.7C10.3 89.0 8.3 90.0 6.0 91.1C3.8 92.2 0.6 98.3 -0.5 93.3C-1.6 88.3 -2.7 67.2 -0.5 61.7Z" fill="#fee496"/><path d="M46.3 53.0C47.7 51.6 51.9 49.7 56.1 48.6C60.4 47.5 66.2 46.4 71.4 46.4C76.5 46.4 82.5 47.3 86.6 48.6C90.7 49.9 95.0 52.7 95.3 54.1C95.7 55.4 92.1 56.5 88.8 56.7C85.5 56.9 79.8 55.0 75.7 55.2C71.6 55.3 68.5 56.8 64.8 57.3C61.1 57.9 56.8 58.5 53.9 58.4C51.1 58.3 49.1 57.6 47.8 56.7C46.6 55.8 44.9 54.3 46.3 53.0Z" fill="#fee496"/><path d="M97.5 51.9C98.2 50.5 100.7 49.4 104.0 48.6C107.4 47.9 112.7 47.3 117.1 47.5C121.5 47.8 127.2 49.0 130.2 50.1C133.1 51.3 136.0 53.1 134.5 54.1C133.0 55.0 125.9 55.3 121.5 55.8C117.0 56.4 112.1 57.2 108.4 57.3C104.7 57.5 101.5 57.6 99.7 56.7C97.8 55.8 96.8 53.3 97.5 51.9Z" fill="#fee496"/><path d="M-0.5 102.0C1.4 98.6 6.3 99.3 10.4 98.7C14.5 98.2 19.4 98.2 23.5 98.7C27.5 99.3 32.9 100.5 34.3 102.0C35.8 103.5 34.0 106.3 32.2 107.4C30.3 108.5 26.4 107.6 23.5 108.5C20.5 109.4 17.7 111.4 14.7 112.9C11.8 114.3 8.6 116.3 6.0 117.2C3.4 118.1 0.6 120.9 -0.5 118.3C-1.6 115.7 -2.4 105.3 -0.5 102.0Z" fill="#fee496"/><path d="M-0.5 121.6C1.0 120.3 7.5 121.2 8.2 122.7C9.0 124.1 5.3 129.0 3.9 130.3C2.4 131.6 0.2 131.8 -0.5 130.3C-1.2 128.8 -2.0 122.9 -0.5 121.6Z" fill="#fee496"/><path d="M-0.5 147.7C1.7 144.7 7.8 145.5 12.6 145.5C17.4 145.5 22.6 146.6 27.8 147.7C33.0 148.8 38.6 151.7 43.1 152.1C47.5 152.4 50.2 151.0 53.9 149.9C57.6 148.8 60.8 146.3 64.8 145.5C68.9 144.8 73.5 145.7 77.9 145.5C82.3 145.3 86.9 144.1 91.0 144.4C95.0 144.8 99.6 145.7 101.9 147.7C104.1 149.7 102.9 153.1 104.0 156.4C105.1 159.8 106.9 164.3 108.4 167.3C109.9 170.3 111.6 171.3 112.7 173.8C113.9 176.4 116.0 180.7 114.9 182.6C113.8 184.4 108.4 182.9 106.2 184.7C104.0 186.6 101.5 191.4 101.9 193.4C102.2 195.5 108.4 195.6 108.4 196.7C108.4 197.8 105.2 199.4 101.9 200.0C98.5 200.5 91.4 200.7 88.8 200.0C86.2 199.2 85.9 197.5 86.6 195.6C87.4 193.8 92.0 191.7 93.1 189.1C94.3 186.5 94.3 183.3 93.1 180.4C92.0 177.4 88.5 174.6 86.6 171.7C84.8 168.7 84.5 165.5 82.3 163.0C80.0 160.4 76.9 157.5 73.5 156.4C70.2 155.3 66.0 155.3 62.7 156.4C59.3 157.5 54.3 161.1 53.9 163.0C53.6 164.8 61.2 166.2 60.5 167.3C59.7 168.4 52.9 169.9 49.6 169.5C46.3 169.1 44.6 166.2 40.9 165.1C37.2 164.0 30.0 161.8 27.8 163.0C25.6 164.1 28.9 169.6 27.8 171.7C26.7 173.7 23.9 174.9 21.3 174.9C18.7 174.9 14.4 173.3 12.6 171.7C10.7 170.0 12.6 166.6 10.4 165.1C8.2 163.7 1.4 165.9 -0.5 163.0C-2.4 160.0 -2.7 150.7 -0.5 147.7Z" fill="#fee496"/><path d="M71.4 128.1C72.1 125.9 77.5 125.7 80.1 125.9C82.7 126.1 85.1 127.0 86.6 129.2C88.1 131.4 89.5 136.6 88.8 139.0C88.0 141.4 84.5 143.4 82.3 143.4C80.0 143.4 77.6 141.6 75.7 139.0C73.9 136.4 70.6 130.3 71.4 128.1Z" fill="#fee496"/><ellipse cx="121.5" cy="79.8" rx="4.8" ry="4.8" fill="#fee496"/><ellipse cx="137.1" cy="78.0" rx="3.9" ry="2.6" fill="#fee496"/><ellipse cx="158.5" cy="82.8" rx="7.0" ry="4.4" fill="#fee496"/><path d="M184.6 84.6C185.5 82.3 187.4 80.2 191.1 79.1C194.8 78.0 201.9 78.8 206.4 78.0C210.8 77.3 213.2 75.9 217.3 74.8C221.4 73.6 226.6 73.2 230.3 71.5C234.0 69.8 235.4 66.6 239.1 65.0C242.8 63.3 246.6 62.8 252.1 61.7C257.7 60.6 264.7 59.2 271.7 58.4C278.8 57.7 287.2 57.1 293.5 57.3C299.8 57.5 305.0 58.0 308.7 59.5C312.4 61.0 314.0 63.6 315.3 66.0C316.6 68.4 317.1 71.3 316.4 73.7C315.6 76.1 310.4 78.0 310.9 80.2C311.5 82.4 315.9 84.9 319.6 86.7C323.3 88.6 328.8 90.0 332.7 91.1C336.6 92.2 340.6 91.4 342.5 93.3C344.4 95.1 344.5 99.4 343.6 102.0C342.7 104.6 340.0 106.3 337.1 108.5C334.1 110.7 329.9 113.4 326.2 115.0C322.5 116.7 319.0 117.4 315.3 118.3C311.6 119.2 308.1 120.1 304.4 120.5C300.7 120.9 296.8 121.0 293.5 120.5C290.2 119.9 288.5 117.6 284.8 117.2C281.1 116.8 276.5 117.9 271.7 118.3C266.9 118.7 260.6 119.6 256.5 119.4C252.4 119.2 249.2 118.7 247.8 117.2C246.3 115.7 246.3 112.9 247.8 110.7C249.2 108.5 253.9 106.0 256.5 104.2C259.1 102.3 263.0 101.3 263.0 99.8C263.0 98.3 259.4 96.6 256.5 95.4C253.5 94.3 248.9 94.7 245.6 93.3C242.3 91.8 239.8 88.0 236.9 86.7C233.9 85.4 230.8 84.9 228.2 85.6C225.6 86.4 225.0 89.4 221.6 91.1C218.3 92.8 213.0 94.9 208.6 95.4C204.1 96.0 199.4 94.9 195.5 94.4C191.6 93.8 187.6 93.8 185.7 92.2C183.8 90.5 183.7 86.8 184.6 84.6Z" fill="#fee496"/><path d="M230.3 114.0C231.1 112.3 225.2 111.4 226.0 110.7C226.7 109.9 232.5 109.0 234.7 109.6C236.9 110.2 239.4 112.5 239.1 114.0C238.7 115.4 235.5 117.2 232.5 118.3C229.6 119.4 222.0 121.2 221.6 120.5C221.3 119.7 229.6 115.6 230.3 114.0Z" fill="#fee496"/><ellipse cx="207.5" cy="115.7" rx="6.5" ry="2.2" fill="#fee496"/><ellipse cx="182.0" cy="126.6" rx="3.3" ry="3.3" fill="#fee496"/><ellipse cx="194.4" cy="132.9" rx="7.6" ry="2.6" fill="#fee496"/><path d="M133.4 139.0C134.2 135.9 136.5 131.0 138.9 129.2C141.3 127.3 144.9 127.4 147.6 128.1C150.3 128.8 153.6 130.6 154.6 133.6C155.5 136.5 153.8 142.4 153.0 145.5C152.2 148.7 151.8 150.8 149.8 152.1C147.7 153.4 143.6 153.9 141.1 153.2C138.5 152.4 135.8 150.1 134.5 147.7C133.2 145.3 132.7 142.1 133.4 139.0Z" fill="#fee496"/><ellipse cx="230.3" cy="144.4" rx="13.1" ry="3.3" fill="#fee496"/><path d="M269.5 130.3C269.9 128.1 273.1 125.0 276.1 123.8C279.0 122.5 284.4 121.6 287.0 122.7C289.6 123.8 291.7 127.9 291.3 130.3C291.0 132.7 287.8 135.7 284.8 136.8C281.8 137.9 276.5 137.9 273.9 136.8C271.3 135.7 269.2 132.5 269.5 130.3Z" fill="#fee496"/><path d="M317.5 125.9C318.2 123.5 323.2 124.1 326.2 124.8C329.1 125.6 331.5 129.9 334.9 130.3C338.2 130.7 342.6 126.8 345.8 127.0C348.9 127.2 352.5 129.3 353.4 131.4C354.3 133.4 353.2 137.1 351.2 139.0C349.2 140.8 345.3 141.5 341.4 142.3C337.5 143.0 331.7 143.9 328.3 143.4C325.0 142.8 323.7 142.0 321.8 139.0C320.0 136.0 316.7 128.3 317.5 125.9Z" fill="#fee496"/><path d="M247.8 152.1C249.6 150.4 253.9 149.9 256.5 151.0C259.1 152.1 262.5 155.8 263.0 158.6C263.6 161.4 262.0 165.6 259.7 167.3C257.5 169.0 252.4 169.5 249.9 168.4C247.5 167.3 246.0 163.6 245.6 160.8C245.2 158.0 245.9 153.7 247.8 152.1Z" fill="#fee496"/><path d="M256.5 173.8C258.7 171.3 266.2 171.0 271.7 169.5C277.3 168.0 284.7 165.5 289.1 165.1C293.6 164.8 297.1 166.2 297.9 167.3C298.6 168.4 296.1 170.6 293.5 171.7C290.9 172.8 284.8 171.6 282.6 173.8C280.4 176.1 282.3 181.4 280.4 184.7C278.6 188.1 275.1 191.4 271.7 193.4C268.4 195.5 263.8 197.1 260.8 196.7C257.9 196.3 254.7 193.3 254.3 191.3C253.9 189.2 258.3 187.7 258.7 184.7C259.0 181.8 254.3 176.4 256.5 173.8Z" fill="#fee496"/><path d="M287.0 176.0C288.1 173.8 292.7 172.0 295.7 171.7C298.6 171.3 302.2 171.6 304.4 173.8C306.6 176.1 307.8 181.0 308.7 184.7C309.7 188.4 310.6 193.0 309.8 195.6C309.1 198.2 306.8 200.3 304.4 200.0C302.0 199.6 298.3 196.0 295.7 193.4C293.1 190.9 290.6 187.7 289.1 184.7C287.7 181.8 285.9 178.2 287.0 176.0Z" fill="#fee496"/><path d="M233.6 208.7C234.5 205.2 236.3 202.2 239.1 200.0C241.8 197.8 246.2 195.6 249.9 195.6C253.6 195.6 256.8 198.9 260.8 200.0C264.9 201.1 269.5 202.2 273.9 202.2C278.3 202.2 283.6 199.2 287.0 200.0C290.3 200.7 290.5 205.0 293.5 206.5C296.5 208.0 301.8 206.3 304.4 208.7C307.0 211.1 320.8 218.6 308.7 220.7C296.7 222.7 246.4 222.7 233.6 220.7C220.8 218.6 232.7 212.2 233.6 208.7Z" fill="#fee496"/><ellipse cx="349.0" cy="153.6" rx="5.4" ry="3.9" fill="#fee496"/><ellipse cx="319.6" cy="155.3" rx="4.8" ry="3.3" fill="#fee496"/><ellipse cx="377.3" cy="160.8" rx="6.1" ry="4.4" fill="#fee496"/><path d="M324.0 200.0C324.7 197.6 327.6 194.0 330.5 192.4C333.5 190.7 338.1 191.5 341.4 190.2C344.7 188.9 347.2 186.2 350.1 184.7C353.1 183.3 356.4 181.3 358.8 181.5C361.2 181.6 364.3 184.0 364.3 185.8C364.3 187.7 361.6 190.9 358.8 192.4C356.1 193.8 350.9 192.9 347.9 194.5C345.0 196.2 343.6 199.9 341.4 202.2C339.2 204.4 337.5 206.9 334.9 207.6C332.3 208.3 328.0 207.8 326.2 206.5C324.3 205.2 323.2 202.4 324.0 200.0Z" fill="#fee496"/><path d="M365.4 198.9C366.7 197.0 370.0 195.1 374.1 194.5C378.2 194.0 385.6 194.5 389.3 195.6C393.0 196.7 395.1 199.0 395.9 201.1C396.6 203.1 395.9 206.1 393.7 207.6C391.5 209.1 386.5 209.6 382.8 209.8C379.1 210.0 374.7 209.4 371.9 208.7C369.1 207.9 367.6 207.1 366.5 205.4C365.3 203.8 364.1 200.7 365.4 198.9Z" fill="#fee496"/><ellipse cx="419.8" cy="202.2" rx="9.8" ry="7.6" fill="#fee496"/><ellipse cx="428.1" cy="89.3" rx="3.9" ry="3.0" fill="#fee496"/><path d="M391.5 82.4C391.9 81.1 398.0 78.9 400.2 79.1C402.4 79.3 404.9 82.2 404.6 83.5C404.2 84.8 400.3 86.9 398.0 86.7C395.8 86.5 391.1 83.7 391.5 82.4Z" fill="#fee496"/><path d="M12.6 204.3C13.7 201.2 19.1 201.0 21.3 202.2C23.5 203.3 25.3 207.7 25.6 210.9C26.0 214.0 25.3 219.0 23.5 220.7C21.6 222.3 16.6 223.4 14.7 220.7C12.9 217.9 11.5 207.5 12.6 204.3Z" fill="#fee496"/><path d="M80.1 217.4C81.6 216.3 85.8 214.1 88.8 214.1C91.8 214.1 96.4 216.3 97.5 217.4C98.6 218.5 98.3 220.1 95.3 220.7C92.4 221.2 82.7 221.2 80.1 220.7C77.5 220.1 78.6 218.5 80.1 217.4Z" fill="#fee496"/><ellipse cx="-0.5" cy="189.1" rx="2.6" ry="2.6" fill="#fee496"/><ellipse cx="185.7" cy="109.2" rx="8.3" ry="3.3" fill="#e5f3ec"/><ellipse cx="171.5" cy="134.6" rx="2.6" ry="4.4" fill="#e5f3ec"/><ellipse cx="258.7" cy="147.7" rx="3.9" ry="1.7" fill="#e5f3ec"/><ellipse cx="98.6" cy="127.0" rx="1.7" ry="1.1" fill="#e5f3ec"/><path d="M459.0 78.0C460.1 76.5 464.9 76.2 468.8 74.8C472.7 73.3 477.4 71.2 481.9 69.3C486.3 67.5 490.1 65.3 494.9 63.9C499.8 62.4 505.4 61.4 510.2 60.6C515.0 59.7 519.6 58.5 523.3 58.9C527.0 59.2 529.4 61.0 532.0 62.8C534.6 64.6 535.9 67.8 538.5 69.3C541.1 70.8 543.9 70.0 547.2 71.5C550.5 73.0 554.0 75.4 558.1 78.0C562.2 80.6 567.1 84.1 571.2 86.7C575.2 89.3 578.4 90.9 582.1 93.3C585.8 95.7 590.5 99.2 592.9 100.9C595.4 102.6 597.0 101.4 596.2 103.1C595.5 104.7 590.6 108.3 588.6 110.7C586.6 113.1 584.6 114.6 584.2 117.2C583.9 119.8 585.3 123.0 586.4 125.9C587.5 128.9 590.4 132.1 590.8 134.6C591.1 137.2 590.4 140.4 588.6 141.2C586.7 141.9 582.5 140.1 579.9 139.0C577.3 137.9 575.2 136.7 573.3 134.6C571.5 132.6 570.1 130.0 569.0 127.0C567.9 124.1 567.9 120.7 566.8 117.2C565.7 113.7 563.9 110.0 562.5 106.3C561.0 102.6 560.3 98.8 558.1 95.4C555.9 92.1 552.4 89.3 549.4 86.7C546.4 84.1 543.6 81.9 540.7 80.2C537.7 78.5 534.9 77.7 532.0 76.9C529.0 76.2 526.2 75.5 523.3 75.8C520.3 76.2 517.5 77.8 514.5 79.1C511.6 80.4 509.2 82.0 505.8 83.5C502.5 84.9 498.6 86.9 494.9 87.8C491.2 88.7 488.1 89.3 484.1 88.9C480.0 88.5 474.7 86.6 471.0 85.6C467.3 84.7 464.3 84.8 462.3 83.5C460.2 82.2 457.9 79.5 459.0 78.0Z" fill="#fee496"/><path d="M600.6 149.9C601.3 147.7 603.6 143.7 606.0 143.4C608.4 143.0 612.1 145.5 614.7 147.7C617.3 149.9 619.4 153.5 621.3 156.4C623.1 159.4 623.8 162.5 625.6 165.1C627.5 167.7 629.9 169.8 632.1 171.7C634.4 173.5 637.9 173.8 638.7 176.0C639.4 178.2 638.0 183.6 636.5 184.7C635.0 185.8 632.2 184.0 630.0 182.6C627.7 181.1 626.0 178.6 623.4 176.0C620.8 173.4 617.7 169.5 614.7 167.3C611.8 165.1 608.2 164.8 606.0 163.0C603.8 161.1 602.6 158.6 601.7 156.4C600.7 154.2 599.8 152.1 600.6 149.9Z" fill="#fee496"/><path d="M475.3 158.6C475.9 155.8 478.2 152.6 480.8 151.0C483.4 149.3 487.4 149.4 490.6 148.8C493.7 148.2 496.0 147.2 499.3 147.7C502.6 148.3 508.0 149.5 510.2 152.1C512.4 154.7 511.3 159.6 512.4 163.0C513.5 166.3 515.8 168.7 516.7 171.7C517.6 174.6 518.6 177.8 517.8 180.4C517.1 183.0 514.8 185.1 512.4 186.9C510.0 188.8 507.0 191.6 503.7 191.3C500.3 190.9 496.1 187.3 492.8 184.7C489.4 182.1 486.6 179.0 484.1 176.0C481.5 173.1 479.0 170.3 477.5 167.3C476.0 164.3 474.8 161.4 475.3 158.6Z" fill="#fee496"/><path d="M529.8 186.9C530.7 185.4 533.0 184.3 536.3 183.6C539.7 183.0 544.9 182.6 549.4 183.0C553.8 183.4 558.4 184.6 562.5 185.8C566.5 187.0 570.2 189.0 573.3 190.2C576.5 191.4 581.3 192.3 581.0 193.0C580.6 193.7 575.8 194.1 571.2 194.5C566.5 195.0 559.3 195.6 553.7 195.6C548.2 195.6 542.4 195.1 538.5 194.5C534.6 194.0 532.4 193.6 530.9 192.4C529.4 191.1 528.9 188.4 529.8 186.9Z" fill="#fee496"/><ellipse cx="524.3" cy="193.0" rx="2.6" ry="0.7" fill="#fee496"/><ellipse cx="607.1" cy="73.7" rx="6.1" ry="3.3" fill="#fee496"/><ellipse cx="606.0" cy="90.0" rx="9.8" ry="7.6" fill="#fee496"/><ellipse cx="572.3" cy="59.5" rx="2.2" ry="1.7" fill="#fee496"/><ellipse cx="650.7" cy="76.3" rx="3.9" ry="3.0" fill="#fee496"/><ellipse cx="634.3" cy="86.7" rx="2.2" ry="0.7" fill="#fee496"/><path d="M645.2 167.3C645.2 164.7 647.3 163.4 649.6 160.8C651.8 158.2 654.9 154.7 658.3 152.1C661.6 149.5 666.2 147.8 669.2 145.5C672.1 143.3 672.7 140.8 675.7 139.0C678.7 137.1 682.9 136.1 686.6 134.6C690.3 133.2 694.5 130.3 697.5 130.3C700.4 130.3 703.3 132.4 704.0 134.6C704.8 136.9 703.3 140.4 701.8 143.4C700.4 146.3 695.7 149.1 695.3 152.1C694.9 155.0 697.4 158.2 699.7 160.8C701.9 163.4 704.7 166.2 708.4 167.3C712.1 168.4 717.4 166.6 721.4 167.3C725.5 168.0 729.7 169.8 732.3 171.7C734.9 173.5 734.8 176.3 736.7 178.2C738.5 180.0 741.7 180.7 743.2 182.6C744.7 184.4 746.1 187.1 745.4 189.1C744.6 191.1 741.4 194.2 738.9 194.5C736.3 194.9 733.1 192.9 730.1 191.3C727.2 189.6 725.1 186.2 721.4 184.7C717.7 183.3 712.4 182.6 708.4 182.6C704.3 182.6 700.8 183.6 697.5 184.7C694.1 185.8 689.9 187.2 688.8 189.1C687.7 190.9 688.7 194.9 690.9 195.6C693.2 196.4 697.8 194.2 701.8 193.4C705.9 192.7 710.5 191.1 714.9 191.3C719.3 191.4 724.6 193.4 728.0 194.5C731.3 195.6 735.2 196.9 734.5 197.8C733.8 198.7 728.1 199.8 723.6 200.0C719.2 200.2 713.2 198.7 708.4 198.9C703.6 199.1 699.0 200.9 695.3 201.1C691.6 201.2 689.2 201.3 686.6 200.0C684.0 198.7 682.3 195.7 680.1 193.4C677.8 191.2 675.7 188.8 673.5 186.9C671.3 185.1 669.6 183.7 667.0 182.6C664.4 181.4 661.2 181.5 658.3 180.4C655.3 179.3 651.8 178.2 649.6 176.0C647.3 173.8 645.2 169.9 645.2 167.3Z" fill="#fee496"/><path d="M744.3 99.8C745.6 98.4 749.0 97.4 751.9 97.2C754.9 97.0 759.6 97.7 761.7 98.7C763.9 99.7 765.1 101.6 764.6 103.1C764.0 104.5 761.0 106.5 758.5 107.4C755.9 108.3 752.2 108.9 749.7 108.5C747.3 108.1 745.2 106.7 744.3 105.2C743.4 103.8 743.0 101.2 744.3 99.8Z" fill="#fee496"/><ellipse cx="724.7" cy="140.7" rx="6.1" ry="4.4" fill="#fee496"/><path d="M804.2 123.8C804.9 121.2 807.8 118.7 810.7 117.2C813.7 115.7 817.9 114.9 821.6 115.0C825.3 115.2 829.7 116.5 832.5 118.3C835.3 120.2 835.7 123.9 837.9 125.9C840.2 128.0 843.2 128.4 845.6 130.3C848.0 132.1 851.4 134.4 852.1 136.8C852.8 139.2 851.8 142.8 849.9 144.4C848.1 146.1 844.2 147.0 841.2 146.6C838.2 146.2 834.7 144.3 832.5 142.3C830.3 140.2 830.7 135.8 828.1 134.6C825.6 133.5 821.0 136.1 817.3 135.7C813.6 135.4 808.6 134.5 806.4 132.5C804.1 130.4 803.4 126.3 804.2 123.8Z" fill="#fee496"/><path d="M808.5 60.6C809.7 59.2 815.0 57.8 819.4 56.7C823.9 55.6 829.9 54.3 834.7 54.1C839.5 53.8 844.0 54.2 847.7 55.2C851.4 56.1 855.7 57.7 856.5 59.5C857.2 61.4 855.1 64.5 852.1 66.0C849.1 67.6 843.8 68.7 839.0 68.9C834.2 69.1 828.2 67.8 823.8 67.1C819.3 66.5 815.5 66.1 812.9 65.0C810.3 63.8 807.4 62.0 808.5 60.6Z" fill="#fee496"/><path d="M849.9 43.2C851.6 41.8 856.4 40.5 860.8 39.9C865.3 39.4 872.5 39.7 876.1 39.9C879.6 40.1 880.6 39.1 881.5 41.0C882.4 42.8 883.2 48.9 881.5 50.8C879.8 52.6 875.6 51.9 871.7 51.9C867.8 51.9 862.2 51.5 858.6 50.8C855.1 50.1 852.5 49.3 851.0 48.0C849.5 46.7 848.3 44.5 849.9 43.2Z" fill="#fee496"/><path d="M856.5 67.1C856.5 65.5 863.1 63.7 867.3 62.8C871.6 61.9 879.1 60.2 881.5 61.7C883.9 63.2 883.9 69.6 881.5 71.5C879.1 73.3 871.6 73.3 867.3 72.6C863.1 71.8 856.5 68.8 856.5 67.1Z" fill="#fee496"/><path d="M881.5 73.7C879.1 62.9 872.0 74.2 867.3 75.8C862.7 77.5 857.6 80.9 854.3 83.5C850.9 86.1 849.6 87.9 847.7 91.1C845.9 94.2 843.8 98.3 843.4 102.0C843.0 105.7 844.8 109.2 845.6 112.9C846.3 116.6 846.3 120.8 847.7 123.8C849.2 126.7 851.7 128.4 854.3 130.3C856.9 132.1 858.4 133.2 863.0 134.6C867.6 136.1 878.4 149.4 881.5 139.0C884.6 128.6 883.9 84.4 881.5 73.7Z" fill="#fee496"/><path d="M836.9 156.4C838.3 153.5 843.7 151.7 847.7 149.9C851.8 148.0 855.1 146.6 860.8 145.5C866.5 144.4 878.0 140.8 881.5 143.4C885.0 145.9 883.5 157.8 881.5 160.8C879.5 163.7 873.4 160.0 869.5 160.8C865.6 161.5 862.3 163.3 858.6 165.1C854.9 167.0 851.1 171.3 847.7 171.7C844.4 172.0 840.9 169.9 839.0 167.3C837.2 164.7 835.4 159.4 836.9 156.4Z" fill="#fee496"/><ellipse cx="876.1" cy="191.3" rx="2.6" ry="4.4" fill="#fee496"/><path d="M875.0 208.7C875.9 207.6 880.4 205.6 881.5 206.5C882.6 207.4 882.4 213.0 881.5 214.1C880.6 215.2 877.2 214.0 876.1 213.0C874.9 212.1 874.0 209.8 875.0 208.7Z" fill="#fee496"/><path d="M688.8 220.7C687.7 218.6 693.1 211.8 695.3 208.7C697.5 205.5 699.4 202.5 701.8 202.2C704.2 201.8 708.3 204.3 709.5 206.5C710.6 208.7 709.7 212.8 708.4 215.2C707.1 217.6 705.2 219.7 701.8 220.7C698.5 221.6 689.9 222.7 688.8 220.7Z" fill="#fee496"/><path d="M734.5 212.0C735.2 209.5 741.7 207.1 745.4 206.5C749.1 206.0 753.3 207.2 756.3 208.7C759.2 210.2 759.8 213.2 762.8 215.2C765.8 217.3 777.4 219.7 773.7 220.7C770.0 221.6 747.7 222.1 741.0 220.7C734.4 219.2 733.8 214.4 734.5 212.0Z" fill="#fee496"/><path d="M603.8 119.4C604.2 117.7 607.4 115.8 610.4 116.1C613.3 116.5 618.1 119.2 621.3 121.6C624.4 124.0 628.5 127.7 628.9 130.3C629.2 132.9 625.8 136.4 623.4 136.8C621.0 137.2 617.3 134.3 614.7 132.5C612.1 130.6 610.0 128.2 608.2 125.9C606.3 123.7 603.5 121.1 603.8 119.4Z" fill="#e5f3ec"/><path d="M630.0 119.4C631.1 117.7 635.3 113.4 638.7 112.9C642.0 112.3 646.2 116.1 649.6 116.1C652.9 116.1 654.9 114.0 658.3 112.9C661.6 111.8 668.1 109.2 669.2 109.6C670.3 110.0 667.4 113.0 664.8 115.0C662.2 117.1 658.0 119.9 653.9 121.6C649.8 123.2 644.6 124.7 640.9 124.8C637.2 125.0 634.0 123.6 632.1 122.7C630.3 121.7 628.9 121.1 630.0 119.4Z" fill="#e5f3ec"/><path d="M-0.5 284.9C1.4 280.2 6.7 289.4 10.4 291.4C14.1 293.4 17.9 295.3 21.3 296.8C24.6 298.4 27.6 303.0 30.0 300.8C32.4 298.5 35.1 288.3 35.4 283.8C35.8 279.2 30.3 276.4 32.2 274.0C34.0 271.6 43.7 272.0 46.3 269.6C48.9 267.2 45.7 262.6 47.4 259.8C49.1 257.0 52.0 255.0 56.1 253.3C60.2 251.6 66.6 250.0 71.4 250.0C76.2 250.0 81.5 251.3 84.4 253.3C87.4 255.3 86.9 261.1 88.8 262.0C90.6 262.9 93.1 261.0 95.3 258.7C97.5 256.5 98.2 251.3 101.9 248.9C105.6 246.5 113.0 244.6 117.1 244.6C121.2 244.6 122.8 247.5 125.8 248.9C128.8 250.4 130.1 251.4 134.5 253.3C139.0 255.1 146.8 256.9 151.9 259.8C157.1 262.8 161.3 266.6 165.0 270.7C168.7 274.8 171.1 279.3 173.7 283.8C176.3 288.2 179.1 292.8 180.3 296.8C181.4 300.9 181.0 304.4 180.3 307.7C179.5 311.1 176.3 313.9 175.9 316.4C175.5 319.0 175.9 320.8 178.1 323.0C180.3 325.2 186.4 326.9 189.0 329.5C191.6 332.1 193.0 335.3 193.3 338.2C193.7 341.2 193.7 344.7 191.1 346.9C188.6 349.2 182.9 350.5 178.1 351.3C173.3 352.0 167.3 352.4 162.8 351.3C158.4 350.2 154.5 347.0 151.9 344.8C149.4 342.5 147.6 340.8 147.6 338.2C147.6 335.6 153.1 332.1 151.9 329.5C150.8 326.9 145.5 324.8 141.1 323.0C136.6 321.1 130.6 319.7 125.8 318.6C121.0 317.5 114.2 315.3 112.7 316.4C111.3 317.6 117.1 322.2 117.1 325.2C117.1 328.1 113.3 330.9 112.7 333.9C112.2 336.8 115.7 340.4 113.8 342.6C112.0 344.8 105.4 345.5 101.9 346.9C98.3 348.4 96.5 351.7 93.1 351.3C89.8 350.9 85.6 347.0 82.3 344.8C78.9 342.5 76.9 340.1 73.5 338.2C70.2 336.4 66.7 335.0 62.7 333.9C58.6 332.8 53.7 333.5 49.6 331.7C45.5 329.8 42.4 325.2 38.7 323.0C35.0 320.8 32.3 319.2 27.8 318.6C23.4 318.1 17.4 319.7 12.6 319.7C7.8 319.7 1.7 324.5 -0.5 318.6C-2.7 312.7 -2.4 289.5 -0.5 284.9Z" fill="#fee496"/><path d="M80.1 220.6C81.9 218.8 92.5 219.1 95.3 220.6C98.1 222.1 97.2 226.7 96.4 229.3C95.7 231.9 92.6 233.6 91.0 235.9C89.3 238.1 88.1 241.7 86.6 242.4C85.1 243.1 82.6 242.1 82.3 240.2C81.9 238.4 84.8 234.8 84.4 231.5C84.1 228.2 78.2 222.5 80.1 220.6Z" fill="#fee496"/><ellipse cx="135.6" cy="230.9" rx="5.4" ry="3.9" fill="#fee496"/><path d="M236.9 220.6C221.0 222.1 241.5 226.6 245.6 229.3C249.7 232.1 255.3 234.9 260.8 237.0C266.4 239.0 272.3 240.4 278.3 241.3C284.2 242.2 291.2 241.1 295.7 242.4C300.1 243.7 301.4 248.4 304.4 248.9C307.4 249.5 310.1 245.7 313.1 245.7C316.1 245.7 319.6 247.3 321.8 248.9C324.0 250.6 324.3 255.5 326.2 255.5C328.0 255.5 330.5 251.2 332.7 248.9C334.9 246.7 337.0 243.9 339.2 242.4C341.5 240.9 345.8 241.7 345.8 240.2C345.8 238.7 342.6 235.5 339.2 233.7C335.9 231.8 326.2 231.6 326.2 229.3C326.2 227.1 354.4 222.1 339.2 220.6C324.1 219.1 252.8 219.1 236.9 220.6Z" fill="#fee496"/><path d="M275.0 271.8C276.1 270.4 280.4 269.2 282.6 269.6C284.8 270.0 288.1 272.3 288.1 274.0C288.1 275.6 284.6 278.8 282.6 279.4C280.6 280.0 277.4 279.0 276.1 277.7C274.8 276.4 273.9 273.2 275.0 271.8Z" fill="#fee496"/><path d="M278.3 294.7C279.2 293.2 284.4 292.8 287.0 293.6C289.6 294.3 293.1 297.2 293.5 299.0C293.9 300.9 291.2 303.9 289.1 304.5C287.1 305.0 283.4 304.0 281.5 302.3C279.7 300.6 277.3 296.1 278.3 294.7Z" fill="#fee496"/><path d="M331.6 300.1C332.4 298.1 335.7 297.9 339.2 297.9C342.8 297.9 347.5 299.6 352.3 300.1C357.1 300.7 364.6 299.9 367.5 301.2C370.5 302.5 370.1 305.1 369.7 307.7C369.4 310.3 365.0 313.5 365.4 316.4C365.7 319.4 371.5 322.4 371.9 325.2C372.3 327.9 369.8 331.3 367.5 332.8C365.3 334.3 361.8 334.8 358.8 333.9C355.9 332.9 352.7 329.9 350.1 327.3C347.5 324.7 346.2 321.6 343.6 318.6C341.0 315.7 336.9 313.1 334.9 309.9C332.8 306.8 330.9 302.1 331.6 300.1Z" fill="#fee496"/><path d="M417.6 307.7C419.5 305.0 421.2 303.2 424.2 302.3C427.1 301.4 432.3 301.7 435.1 302.3C437.8 302.8 439.6 298.7 440.5 305.6C441.4 312.4 441.8 335.9 440.5 342.6C439.2 349.2 436.8 344.6 432.9 344.8C429.0 344.9 422.4 344.6 417.6 343.7C412.8 342.7 407.5 341.3 404.6 339.3C401.6 337.3 399.8 334.1 400.2 331.7C400.6 329.3 404.5 327.4 406.7 325.2C409.0 322.9 411.4 321.6 413.3 318.6C415.1 315.7 415.8 310.5 417.6 307.7Z" fill="#fee496"/><ellipse cx="390.4" cy="353.9" rx="17.0" ry="10.5" fill="#fee496"/><ellipse cx="435.1" cy="263.1" rx="7.6" ry="6.1" fill="#fee496"/><ellipse cx="408.9" cy="273.5" rx="6.1" ry="3.3" fill="#fee496"/><path d="M64.8 391.6C66.7 390.1 74.9 387.6 80.1 386.1C85.3 384.7 89.8 383.6 95.3 382.9C100.9 382.1 107.9 381.9 112.7 381.8C117.6 381.7 122.9 381.4 123.6 382.2C124.4 383.0 120.8 385.0 117.1 386.6C113.4 388.2 107.0 390.2 101.9 391.6C96.7 392.9 92.2 393.9 86.6 394.4C81.1 395.0 72.9 395.3 69.2 394.8C65.5 394.4 63.0 393.1 64.8 391.6Z" fill="#fee496"/><path d="M149.8 385.0C149.8 384.4 157.3 384.2 160.7 384.4C164.0 384.6 169.4 385.5 169.4 386.1C169.4 386.7 164.0 388.1 160.7 387.9C157.3 387.7 149.8 385.6 149.8 385.0Z" fill="#fee496"/><path d="M177.0 387.2C177.4 386.6 184.0 386.1 186.8 386.1C189.6 386.1 193.7 386.6 193.3 387.2C193.0 387.9 187.4 390.1 184.6 390.1C181.8 390.1 176.6 387.9 177.0 387.2Z" fill="#fee496"/><ellipse cx="230.3" cy="380.7" rx="4.4" ry="1.3" fill="#fee496"/><path d="M260.8 381.3C261.9 380.9 269.5 381.5 273.9 381.8C278.3 382.0 285.9 382.1 287.0 382.9C288.1 383.6 283.8 385.9 280.4 386.1C277.1 386.4 270.7 385.2 267.4 384.4C264.0 383.6 259.7 381.8 260.8 381.3Z" fill="#fee496"/><path d="M88.8 406.8C89.9 405.6 97.0 403.9 101.9 402.5C106.7 401.0 112.3 399.1 117.1 398.1C121.9 397.1 129.4 396.0 130.2 396.6C130.9 397.1 125.2 399.6 121.5 401.4C117.8 403.1 112.8 405.4 108.4 406.8C103.9 408.2 98.7 409.7 95.3 409.7C92.0 409.7 87.7 408.0 88.8 406.8Z" fill="#e5f3ec"/><path d="M235.8 411.2C239.9 410.4 251.0 411.5 260.8 411.8C270.6 412.2 282.4 413.1 293.5 413.4C304.6 413.6 316.5 413.0 326.2 413.4C335.8 413.7 348.6 413.9 350.1 415.5C351.6 417.2 342.7 421.2 334.9 423.2C327.1 425.1 315.1 426.5 304.4 427.1C293.7 427.6 281.7 427.3 271.7 426.4C261.7 425.6 251.5 423.7 245.6 422.1C239.7 420.4 238.5 418.5 236.9 416.6C235.2 414.8 231.7 412.0 235.8 411.2Z" fill="#e5f3ec"/><path d="M16.9 272.9C17.3 272.5 20.2 274.9 21.3 276.2C22.4 277.4 23.8 280.1 23.5 280.5C23.1 280.9 20.2 279.6 19.1 278.3C18.0 277.0 16.6 273.3 16.9 272.9Z" fill="#e5f3ec"/><ellipse cx="464.5" cy="255.0" rx="10.5" ry="8.3" fill="#fee496"/><path d="M505.8 262.0C506.6 259.6 507.6 256.8 510.2 255.5C512.8 254.2 517.9 253.6 521.1 254.4C524.2 255.1 527.2 257.2 528.7 259.8C530.2 262.4 530.7 267.2 529.8 269.6C528.9 272.0 525.8 272.3 523.3 274.0C520.7 275.6 517.1 278.9 514.5 279.4C512.0 280.0 509.5 278.9 508.0 277.2C506.5 275.6 506.2 272.2 505.8 269.6C505.5 267.0 505.1 264.4 505.8 262.0Z" fill="#fee496"/><path d="M573.3 244.6C574.5 241.8 580.9 239.9 584.2 237.0C587.6 234.0 590.0 229.5 592.9 227.2C595.9 224.8 599.1 222.1 601.7 223.2C604.2 224.3 606.0 230.1 608.2 233.7C610.4 237.3 614.0 241.2 614.7 244.6C615.5 247.9 614.8 250.8 612.5 253.3C610.3 255.8 605.7 258.6 601.7 259.4C597.6 260.1 592.7 258.7 588.6 257.6C584.5 256.6 580.3 255.5 577.7 253.3C575.1 251.1 572.2 247.4 573.3 244.6Z" fill="#fee496"/><ellipse cx="548.3" cy="296.4" rx="2.6" ry="1.7" fill="#fee496"/><ellipse cx="573.3" cy="293.6" rx="4.4" ry="2.2" fill="#fee496"/><ellipse cx="440.5" cy="317.5" rx="5.4" ry="9.8" fill="#fee496"/><path d="M488.4 333.9C489.0 331.6 490.9 327.4 492.8 326.2C494.6 325.1 497.4 326.0 499.3 327.3C501.2 328.6 501.1 332.8 503.7 333.9C506.2 335.0 511.6 335.2 514.5 333.9C517.5 332.6 518.1 327.7 521.1 326.2C524.0 324.8 528.3 324.8 532.0 325.2C535.7 325.5 538.8 328.2 542.9 328.4C546.9 328.6 551.8 326.8 555.9 326.2C560.0 325.7 562.7 324.2 566.8 325.2C570.9 326.1 576.7 329.5 579.9 331.7C583.0 333.9 585.3 336.6 585.3 338.2C585.3 339.9 582.7 341.3 579.9 341.5C577.1 341.7 572.7 338.9 569.0 339.3C565.3 339.7 561.4 343.5 558.1 343.7C554.8 343.8 553.1 340.8 549.4 340.4C545.7 340.0 540.0 340.9 536.3 341.5C532.6 342.0 530.9 343.7 527.6 343.7C524.3 343.7 520.4 341.7 516.7 341.5C513.0 341.3 509.5 342.4 505.8 342.6C502.1 342.8 497.7 343.1 494.9 342.6C492.2 342.0 490.6 340.8 489.5 339.3C488.4 337.8 487.9 336.1 488.4 333.9Z" fill="#fee496"/><path d="M690.9 316.4C691.1 312.7 693.1 307.4 694.2 303.4C695.3 299.3 696.2 295.8 697.5 292.5C698.8 289.2 700.9 287.1 701.8 283.8C702.8 280.4 701.6 275.3 702.9 272.9C704.2 270.5 707.8 269.2 709.5 269.6C711.1 270.0 712.5 272.3 712.7 275.1C712.9 277.8 709.8 283.0 710.5 286.0C711.3 288.9 715.2 292.9 717.1 292.5C718.9 292.1 720.3 287.1 721.4 283.8C722.5 280.4 724.0 276.2 723.6 272.9C723.2 269.6 718.5 265.1 719.3 264.2C720.0 263.2 726.5 264.9 728.0 267.4C729.4 270.0 728.7 275.5 728.0 279.4C727.2 283.3 722.9 287.5 723.6 290.3C724.4 293.1 729.0 295.4 732.3 295.8C735.7 296.1 741.7 291.6 743.2 292.5C744.7 293.4 742.5 297.9 741.0 301.2C739.6 304.5 736.4 308.4 734.5 312.1C732.6 315.8 730.5 320.0 730.1 323.0C729.8 325.9 731.2 326.9 732.3 329.5C733.4 332.1 736.3 334.9 736.7 338.2C737.0 341.6 736.4 345.8 734.5 349.1C732.6 352.4 729.1 355.7 725.8 357.8C722.5 360.0 719.0 361.2 714.9 361.7C710.8 362.3 705.5 361.9 701.8 361.1C698.1 360.2 695.2 358.8 693.1 356.7C691.1 354.7 689.5 351.5 689.9 349.1C690.2 346.7 694.0 345.5 695.3 342.6C696.6 339.6 697.8 334.6 697.5 331.7C697.1 328.7 694.2 327.7 693.1 325.2C692.0 322.6 690.8 320.1 690.9 316.4Z" fill="#fee496"/><ellipse cx="714.9" cy="260.9" rx="2.6" ry="1.7" fill="#fee496"/><path d="M745.4 220.6C748.7 219.9 760.5 220.1 767.2 220.6C773.8 221.2 779.0 222.8 784.6 223.9C790.1 225.0 795.4 225.9 799.8 227.2C804.3 228.4 809.2 229.7 810.7 231.5C812.2 233.4 810.4 236.2 808.5 238.0C806.7 239.9 802.4 239.8 799.8 242.4C797.2 245.0 794.4 249.2 793.3 253.3C792.2 257.4 794.4 262.3 793.3 266.4C792.2 270.4 789.7 274.3 786.8 277.2C783.8 280.2 779.2 281.2 775.9 283.8C772.5 286.4 770.5 291.0 767.2 292.5C763.8 294.0 759.6 293.6 756.3 292.5C752.9 291.4 749.4 288.9 747.6 286.0C745.7 283.0 745.4 278.4 745.4 275.1C745.4 271.7 745.7 268.9 747.6 266.4C749.4 263.8 753.7 262.0 756.3 259.8C758.9 257.6 759.8 255.1 762.8 253.3C765.8 251.4 771.1 251.2 773.7 248.9C776.3 246.7 778.4 242.8 778.1 240.2C777.7 237.6 774.9 235.5 771.5 233.7C768.2 231.8 762.5 230.8 758.5 229.3C754.4 227.9 749.8 226.5 747.6 225.0C745.3 223.5 742.1 221.4 745.4 220.6Z" fill="#fee496"/><path d="M685.5 220.6C686.8 219.5 694.0 219.5 695.3 220.6C696.6 221.7 694.4 226.0 693.1 227.2C691.8 228.3 689.0 228.3 687.7 227.2C686.4 226.0 684.2 221.7 685.5 220.6Z" fill="#fee496"/><ellipse cx="695.3" cy="248.9" rx="4.4" ry="3.3" fill="#fee496"/><ellipse cx="811.8" cy="269.6" rx="5.4" ry="4.4" fill="#fee496"/><path d="M832.5 242.4C833.2 238.7 833.9 234.1 836.9 231.5C839.8 228.9 845.1 228.1 849.9 227.2C854.7 226.2 861.3 225.0 865.2 226.1C869.1 227.2 870.9 230.2 872.8 233.7C874.6 237.2 874.6 243.1 876.1 246.8C877.5 250.5 880.6 241.4 881.5 255.5C882.4 269.5 883.2 316.4 881.5 329.5C879.8 342.7 875.6 332.6 871.7 332.8C867.8 333.0 862.3 332.3 858.6 330.6C854.9 328.9 852.0 325.8 849.9 323.0C847.9 320.2 846.3 317.2 846.7 314.3C847.0 311.3 850.8 309.3 852.1 305.6C853.4 301.9 854.6 296.6 854.3 292.5C853.9 288.4 851.8 285.3 849.9 281.6C848.1 277.9 845.6 274.0 843.4 270.7C841.2 267.4 838.7 265.0 836.9 262.0C835.0 259.0 833.2 256.6 832.5 253.3C831.8 250.0 831.8 246.1 832.5 242.4Z" fill="#fee496"/><path d="M669.2 401.4C670.6 399.9 677.8 397.4 682.2 394.8C686.7 392.3 690.9 389.1 695.3 386.1C699.7 383.2 703.6 379.6 708.4 377.4C713.2 375.2 718.1 374.0 723.6 373.1C729.2 372.1 736.2 371.6 741.0 372.0C745.8 372.3 749.7 373.2 751.9 375.2C754.1 377.3 754.8 381.0 754.1 384.0C753.4 386.9 750.2 390.6 747.6 392.7C745.0 394.7 741.4 396.3 738.9 395.9C736.3 395.6 734.9 391.0 732.3 390.5C729.7 389.9 725.8 391.2 723.6 392.7C721.4 394.1 723.0 397.7 719.3 399.2C715.6 400.7 707.4 400.7 701.8 401.4C696.3 402.0 691.4 402.7 686.6 403.1C681.8 403.5 676.5 403.8 673.5 403.6C670.6 403.3 667.7 402.9 669.2 401.4Z" fill="#fee496"/><path d="M832.5 399.2C833.2 397.0 835.7 392.5 839.0 390.5C842.4 388.5 847.3 387.9 852.1 387.2C856.9 386.6 862.3 386.2 867.3 386.6C872.3 386.9 879.1 388.0 881.5 389.4C883.9 390.8 883.9 393.7 881.5 394.8C879.1 396.0 872.0 395.2 867.3 395.9C862.7 396.7 858.4 397.9 854.3 399.2C850.2 400.5 846.7 402.8 843.4 403.6C840.1 404.3 836.5 404.3 834.7 403.6C832.8 402.8 831.8 401.4 832.5 399.2Z" fill="#fee496"/><path d="M815.1 405.7C815.4 405.2 821.2 404.5 823.8 404.6C826.4 404.8 830.7 406.3 830.3 406.8C830.0 407.4 824.2 408.1 821.6 407.9C819.0 407.7 814.7 406.3 815.1 405.7Z" fill="#fee496"/><path d="M12.6 155.3C14.4 154.5 21.2 154.3 25.6 154.7C30.1 155.0 35.0 156.5 38.7 157.5C42.4 158.5 47.4 159.9 47.4 160.8C47.4 161.6 42.4 162.7 38.7 162.5C35.0 162.3 29.7 160.2 25.6 159.7C21.6 159.2 17.0 160.4 14.7 159.7C12.5 158.9 10.7 156.2 12.6 155.3Z" fill="#ffffff"/><path d="M267.4 102.0C269.8 101.0 276.4 100.1 280.4 100.9C284.5 101.6 287.6 105.6 291.3 106.3C295.0 107.1 301.1 104.7 302.2 105.2C303.3 105.8 300.8 108.7 297.9 109.6C294.9 110.5 288.9 110.9 284.8 110.7C280.7 110.5 277.0 109.2 273.9 108.5C270.8 107.8 267.4 107.4 266.3 106.3C265.2 105.2 265.0 102.9 267.4 102.0Z" fill="#ffffff"/><path d="M646.3 155.3C647.6 152.6 652.8 152.1 655.0 152.1C657.2 152.1 659.7 153.1 659.4 155.3C659.0 157.6 654.9 162.9 652.8 165.1C650.8 167.4 648.5 170.1 647.4 168.4C646.3 166.7 645.0 158.1 646.3 155.3Z" fill="#ffffff"/><path d="M35.4 286.0C34.9 282.8 34.7 278.4 36.5 276.2C38.4 273.9 43.9 272.6 46.3 272.9C48.7 273.1 47.5 276.3 50.7 277.7C53.8 279.1 61.1 279.8 64.8 281.2C68.5 282.6 71.5 283.8 72.5 286.0C73.4 288.1 72.1 291.2 70.3 293.6C68.4 296.0 64.9 298.5 61.6 300.1C58.2 301.7 53.6 302.7 50.7 302.9C47.7 303.2 46.0 303.0 44.1 301.6C42.3 300.2 41.3 297.3 39.8 294.7C38.3 292.0 36.0 289.1 35.4 286.0Z" fill="#ffffff"/><ellipse cx="44.1" cy="34.5" rx="3.3" ry="1.7" fill="#fdd283"/><ellipse cx="1.7" cy="79.8" rx="5.4" ry="1.7" fill="#fdd283"/><path d="M260.8 74.8C262.7 72.3 269.1 67.2 273.9 65.0C278.7 62.7 284.0 62.1 289.1 61.7C294.3 61.3 300.3 61.5 304.4 62.8C308.5 64.1 312.4 66.7 313.1 69.3C313.8 71.9 310.6 75.8 308.7 78.0C306.9 80.2 303.0 80.2 302.2 82.4C301.5 84.6 304.8 88.5 304.4 91.1C304.0 93.7 302.6 96.1 300.0 97.6C297.4 99.1 292.5 100.2 289.1 99.8C285.8 99.4 282.3 97.7 280.4 95.4C278.6 93.2 277.9 89.0 278.3 86.7C278.6 84.5 283.7 83.5 282.6 82.4C281.5 81.3 275.1 80.8 271.7 80.2C268.4 79.6 264.9 80.0 263.0 79.1C261.2 78.2 259.0 77.2 260.8 74.8Z" fill="#fdd283"/><ellipse cx="326.2" cy="97.6" rx="5.4" ry="4.4" fill="#fdd283"/><ellipse cx="142.8" cy="140.1" rx="6.1" ry="7.6" fill="#fdd283"/><ellipse cx="280.4" cy="128.1" rx="3.3" ry="3.3" fill="#fdd283"/><ellipse cx="344.7" cy="135.7" rx="5.4" ry="3.3" fill="#fdd283"/><ellipse cx="253.2" cy="156.4" rx="4.4" ry="4.4" fill="#fdd283"/><ellipse cx="298.9" cy="180.4" rx="4.4" ry="6.5" fill="#fdd283"/><path d="M236.9 208.7C238.4 205.4 242.3 202.2 245.6 201.1C248.9 200.0 253.1 200.9 256.5 202.2C259.8 203.4 262.2 206.1 265.2 208.7C268.2 211.3 272.8 215.4 273.9 217.4C275.0 219.4 278.0 220.1 271.7 220.7C265.4 221.2 242.8 222.7 236.9 220.7C231.0 218.6 235.4 212.0 236.9 208.7Z" fill="#fdd283"/><ellipse cx="334.9" cy="198.9" rx="6.1" ry="3.9" fill="#fdd283"/><ellipse cx="373.0" cy="202.2" rx="3.9" ry="2.6" fill="#fdd283"/><ellipse cx="388.2" cy="203.2" rx="3.9" ry="2.6" fill="#fdd283"/><ellipse cx="419.8" cy="202.2" rx="4.8" ry="3.3" fill="#fdd283"/><path d="M562.5 86.7C563.9 86.4 568.2 88.9 571.2 91.1C574.1 93.3 577.7 97.2 579.9 99.8C582.1 102.4 583.9 103.7 584.2 106.3C584.6 108.9 582.8 111.7 582.1 115.0C581.3 118.4 579.9 123.0 579.9 125.9C579.9 128.9 582.6 131.4 582.1 132.5C581.5 133.6 578.3 133.9 576.6 132.5C574.9 131.0 573.2 127.1 572.3 123.8C571.3 120.4 572.1 116.6 571.2 112.9C570.2 109.2 568.3 105.3 566.8 102.0C565.3 98.6 563.2 95.9 562.5 93.3C561.7 90.7 561.0 87.1 562.5 86.7Z" fill="#fdd283"/><ellipse cx="632.1" cy="176.0" rx="5.4" ry="3.3" fill="#fdd283"/><ellipse cx="494.9" cy="166.2" rx="8.7" ry="6.5" fill="#fdd283"/><path d="M667.0 158.6C670.0 156.4 672.7 153.5 675.7 152.1C678.7 150.6 682.2 149.1 684.4 149.9C686.6 150.6 688.8 153.8 688.8 156.4C688.8 159.0 684.0 162.5 684.4 165.1C684.8 167.7 688.0 170.2 690.9 171.7C693.9 173.1 698.1 173.5 701.8 173.8C705.5 174.2 709.0 173.5 712.7 173.8C716.4 174.2 723.2 174.9 723.6 176.0C724.0 177.1 718.6 179.6 714.9 180.4C711.2 181.1 706.3 180.7 701.8 180.4C697.4 180.0 692.8 179.3 688.8 178.2C684.7 177.1 680.8 175.3 677.9 173.8C674.9 172.4 673.9 169.5 671.3 169.5C668.8 169.5 665.2 173.5 662.6 173.8C660.0 174.2 656.8 173.1 656.1 171.7C655.4 170.2 656.4 167.4 658.3 165.1C660.1 162.9 664.0 160.8 667.0 158.6Z" fill="#fdd283"/><ellipse cx="751.9" cy="103.1" rx="3.3" ry="2.2" fill="#fdd283"/><ellipse cx="816.2" cy="123.8" rx="8.7" ry="6.5" fill="#fdd283"/><ellipse cx="832.5" cy="60.6" rx="9.8" ry="3.9" fill="#fdd283"/><path d="M881.5 82.4C879.5 75.0 873.0 82.7 869.5 84.6C866.0 86.4 863.4 90.3 860.8 93.3C858.2 96.2 855.4 98.6 854.3 102.0C853.2 105.3 853.5 109.5 854.3 112.9C855.0 116.2 856.4 119.0 858.6 121.6C860.9 124.2 863.5 127.0 867.3 128.1C871.2 129.2 879.1 135.9 881.5 128.1C883.9 120.3 883.5 89.8 881.5 82.4Z" fill="#fdd283"/><ellipse cx="701.8" cy="208.7" rx="4.4" ry="6.5" fill="#fdd283"/><path d="M58.3 262.0C58.3 260.1 61.9 257.3 64.8 256.6C67.8 255.8 73.1 256.3 75.7 257.6C78.3 258.9 80.4 262.5 80.1 264.2C79.7 265.8 76.1 266.9 73.5 267.4C71.0 268.0 67.4 268.4 64.8 267.4C62.2 266.5 58.3 263.8 58.3 262.0Z" fill="#fdd283"/><path d="M69.2 275.1C69.9 273.4 73.7 271.4 75.7 271.8C77.8 272.2 80.8 275.2 81.2 277.2C81.5 279.3 79.6 283.0 77.9 283.8C76.2 284.5 72.8 283.1 71.4 281.6C69.9 280.1 68.4 276.7 69.2 275.1Z" fill="#fdd283"/><path d="M80.1 288.1C81.6 285.7 84.4 283.1 86.6 282.7C88.8 282.3 92.4 283.9 93.1 286.0C93.9 288.0 92.4 292.4 91.0 294.7C89.5 296.9 86.7 298.6 84.4 299.0C82.2 299.4 78.6 298.7 77.9 296.8C77.2 295.0 78.6 290.5 80.1 288.1Z" fill="#fdd283"/><path d="M38.7 301.2C39.4 300.8 42.3 305.0 45.2 305.6C48.2 306.1 52.0 305.2 56.1 304.5C60.2 303.7 66.2 301.2 69.2 301.2C72.2 301.2 74.7 303.2 73.5 304.5C72.4 305.8 66.7 307.9 62.7 308.8C58.6 309.7 53.3 310.1 49.6 309.9C45.9 309.7 42.7 309.2 40.9 307.7C39.0 306.3 38.0 301.6 38.7 301.2Z" fill="#fdd283"/><ellipse cx="112.7" cy="283.8" rx="5.4" ry="4.4" fill="#fdd283"/><ellipse cx="136.7" cy="271.8" rx="9.8" ry="8.7" fill="#fdd283"/><ellipse cx="92.1" cy="334.5" rx="12.0" ry="9.8" fill="#fdd283"/><ellipse cx="171.5" cy="340.0" rx="15.2" ry="9.8" fill="#fdd283"/><ellipse cx="89.9" cy="223.9" rx="4.4" ry="3.3" fill="#fdd283"/><path d="M336.0 303.4C336.3 301.7 344.1 303.7 347.9 304.5C351.8 305.2 356.2 306.1 358.8 307.7C361.4 309.4 363.6 312.6 363.2 314.3C362.8 315.9 359.6 317.5 356.7 317.5C353.7 317.5 349.3 316.7 345.8 314.3C342.2 311.9 335.6 305.0 336.0 303.4Z" fill="#fdd283"/><path d="M422.0 306.6C425.0 303.5 429.9 303.5 432.9 304.5C435.8 305.4 438.7 308.9 439.4 312.1C440.2 315.2 439.5 320.0 437.2 323.0C435.0 325.9 430.4 327.3 426.3 329.5C422.3 331.7 416.6 335.5 413.3 336.0C409.9 336.6 406.4 335.0 406.7 332.8C407.1 330.6 412.9 327.4 415.5 323.0C418.0 318.5 419.0 309.8 422.0 306.6Z" fill="#fdd283"/><ellipse cx="390.4" cy="353.9" rx="10.9" ry="6.5" fill="#fdd283"/><ellipse cx="436.1" cy="263.1" rx="2.6" ry="2.6" fill="#fdd283"/><path d="M82.3 387.9C84.1 386.7 92.3 385.1 97.5 384.4C102.7 383.6 112.0 382.9 112.7 383.5C113.5 384.2 106.3 386.9 101.9 388.3C97.4 389.7 89.9 391.6 86.6 391.6C83.3 391.5 80.4 389.1 82.3 387.9Z" fill="#fdd283"/><ellipse cx="463.4" cy="255.0" rx="5.4" ry="3.3" fill="#fdd283"/><ellipse cx="515.6" cy="261.6" rx="5.4" ry="3.3" fill="#fdd283"/><path d="M695.3 312.1C695.1 308.0 696.9 300.5 698.6 296.8C700.2 293.1 702.7 290.7 705.1 290.3C707.5 289.9 711.1 292.4 712.7 294.7C714.4 296.9 712.7 301.5 714.9 303.4C717.1 305.2 723.6 303.7 725.8 305.6C728.0 307.4 728.7 311.7 728.0 314.3C727.2 316.9 721.8 318.2 721.4 320.8C721.1 323.4 724.3 326.5 725.8 329.5C727.3 332.5 730.1 334.9 730.1 338.2C730.1 341.6 728.0 346.1 725.8 349.1C723.6 352.1 720.8 354.3 717.1 355.6C713.4 356.9 707.5 357.5 704.0 356.7C700.5 356.0 697.1 353.7 696.4 351.3C695.6 348.9 698.7 346.3 699.7 342.6C700.6 338.9 701.8 333.2 701.8 329.5C701.8 325.8 700.8 323.8 699.7 320.8C698.5 317.8 695.5 316.2 695.3 312.1Z" fill="#fdd283"/><path d="M702.9 272.9C703.1 270.9 704.9 269.8 706.2 269.6C707.5 269.4 710.0 269.4 710.5 271.8C711.1 274.2 710.4 282.1 709.5 283.8C708.5 285.4 706.2 283.4 705.1 281.6C704.0 279.7 702.7 274.9 702.9 272.9Z" fill="#fdd283"/><path d="M782.4 238.0C783.9 236.2 790.3 233.9 793.3 233.7C796.3 233.5 799.8 235.1 799.8 237.0C799.8 238.8 795.9 243.3 793.3 244.6C790.7 245.9 786.4 245.7 784.6 244.6C782.7 243.5 780.9 239.9 782.4 238.0Z" fill="#fdd283"/><path d="M762.8 264.2C764.7 261.6 768.6 260.9 771.5 259.8C774.5 258.7 777.6 256.9 780.2 257.6C782.8 258.4 786.0 261.6 786.8 264.2C787.5 266.8 786.4 270.3 784.6 272.9C782.7 275.5 778.8 277.9 775.9 279.4C772.9 280.9 769.8 282.3 767.2 281.6C764.6 280.9 761.4 278.0 760.6 275.1C759.9 272.1 761.0 266.8 762.8 264.2Z" fill="#fdd283"/><ellipse cx="754.1" cy="279.4" rx="4.4" ry="3.3" fill="#fdd283"/><path d="M845.6 251.1C845.6 247.4 847.3 242.4 849.9 240.2C852.5 238.0 857.5 237.3 860.8 238.0C864.1 238.8 867.5 241.6 869.5 244.6C871.6 247.5 873.2 252.1 872.8 255.5C872.4 258.8 869.8 262.3 867.3 264.2C864.9 266.0 861.6 266.7 858.6 266.4C855.7 266.0 852.1 264.6 849.9 262.0C847.7 259.4 845.6 254.8 845.6 251.1Z" fill="#fdd283"/><ellipse cx="860.8" cy="318.6" rx="9.8" ry="6.5" fill="#fdd283"/><path d="M697.5 392.7C697.8 390.4 704.3 386.2 708.4 384.0C712.4 381.7 718.5 379.6 721.4 379.6C724.4 379.6 726.5 382.1 725.8 384.0C725.0 385.8 720.4 388.3 717.1 390.5C713.7 392.7 709.5 396.6 706.2 397.0C702.9 397.4 697.1 394.9 697.5 392.7Z" fill="#fdd283"/><path d="M845.6 394.8C847.0 393.7 853.8 392.1 858.6 391.6C863.4 391.0 872.8 391.0 873.9 391.6C875.0 392.1 869.2 393.7 865.2 394.8C861.1 396.0 853.3 398.1 849.9 398.1C846.6 398.1 844.1 396.0 845.6 394.8Z" fill="#fdd283"/><ellipse cx="142.1" cy="141.2" rx="2.6" ry="3.9" fill="#fdbe70"/><path d="M245.6 206.5C247.4 204.1 251.7 205.0 254.3 206.5C256.9 208.0 260.1 212.8 260.8 215.2C261.6 217.6 261.6 219.7 258.7 220.7C255.7 221.6 245.6 223.1 243.4 220.7C241.2 218.3 243.7 208.9 245.6 206.5Z" fill="#fdbe70"/><path d="M571.2 97.6C572.1 96.7 576.2 100.1 577.7 102.0C579.2 103.8 580.1 106.7 579.9 108.5C579.7 110.4 577.9 113.0 576.6 112.9C575.3 112.7 573.2 110.0 572.3 107.4C571.3 104.8 570.2 98.5 571.2 97.6Z" fill="#fdbe70"/><ellipse cx="494.9" cy="165.1" rx="3.9" ry="2.6" fill="#fdbe70"/><ellipse cx="680.1" cy="158.6" rx="4.4" ry="4.4" fill="#fdbe70"/><ellipse cx="817.3" cy="121.1" rx="3.9" ry="2.2" fill="#fdbe70"/><path d="M881.5 91.1C879.8 87.4 874.5 93.6 871.7 95.4C868.9 97.3 866.6 99.4 865.2 102.0C863.7 104.6 862.6 108.1 863.0 110.7C863.4 113.3 864.2 116.1 867.3 117.2C870.5 118.3 879.1 121.7 881.5 117.2C883.9 112.8 883.2 94.8 881.5 91.1Z" fill="#fdbe70"/><ellipse cx="702.5" cy="208.7" rx="1.7" ry="3.3" fill="#fdbe70"/><ellipse cx="136.7" cy="271.8" rx="4.4" ry="3.3" fill="#fdbe70"/><ellipse cx="92.1" cy="334.5" rx="7.6" ry="6.1" fill="#fdbe70"/><ellipse cx="171.5" cy="340.0" rx="10.9" ry="7.0" fill="#fdbe70"/><ellipse cx="390.4" cy="353.9" rx="6.5" ry="3.9" fill="#fdbe70"/><path d="M699.7 305.6C699.5 302.8 701.3 297.0 702.9 295.8C704.6 294.5 708.0 295.9 709.5 297.9C710.9 300.0 711.8 305.0 711.6 307.7C711.4 310.5 709.7 313.5 708.4 314.3C707.1 315.0 705.5 313.6 704.0 312.1C702.5 310.6 699.8 308.3 699.7 305.6Z" fill="#fdbe70"/><path d="M705.1 333.9C706.6 331.3 709.9 328.1 712.7 327.3C715.5 326.6 719.6 327.3 721.4 329.5C723.3 331.7 724.0 337.1 723.6 340.4C723.2 343.7 721.5 346.9 719.3 349.1C717.0 351.3 713.5 353.1 710.5 353.5C707.6 353.8 702.9 353.1 701.8 351.3C700.7 349.4 703.5 345.5 704.0 342.6C704.6 339.6 703.6 336.5 705.1 333.9Z" fill="#fdbe70"/><ellipse cx="719.3" cy="311.0" rx="5.4" ry="4.4" fill="#fdbe70"/><ellipse cx="860.8" cy="318.6" rx="5.4" ry="3.3" fill="#fdbe70"/><path d="M247.8 209.8C248.9 208.3 252.6 210.1 254.3 212.0C256.0 213.8 258.7 219.2 257.6 220.7C256.5 222.1 249.4 222.5 247.8 220.7C246.1 218.8 246.7 211.3 247.8 209.8Z" fill="#fca85e"/><ellipse cx="92.5" cy="334.5" rx="3.3" ry="2.6" fill="#fca85e"/><ellipse cx="171.5" cy="340.0" rx="7.6" ry="4.8" fill="#fca85e"/><ellipse cx="390.4" cy="353.9" rx="3.0" ry="1.7" fill="#fca85e"/><path d="M702.9 303.4C702.9 301.3 706.0 297.7 707.3 297.9C708.6 298.1 710.5 302.4 710.5 304.5C710.5 306.5 708.6 310.1 707.3 309.9C706.0 309.7 702.9 305.4 702.9 303.4Z" fill="#fca85e"/><path d="M708.4 342.6C709.1 339.8 713.0 334.6 714.9 333.9C716.8 333.1 718.9 336.0 719.3 338.2C719.6 340.4 718.6 344.9 717.1 346.9C715.6 349.0 712.0 350.9 710.5 350.2C709.1 349.5 707.6 345.4 708.4 342.6Z" fill="#fca85e"/><ellipse cx="171.5" cy="340.2" rx="4.4" ry="2.6" fill="#f98e52"/><ellipse cx="707.9" cy="302.9" rx="1.7" ry="3.9" fill="#f98e52"/><ellipse cx="711.6" cy="346.5" rx="3.3" ry="2.6" fill="#f98e52"/><g transform="translate(0 -0.95)"><use href="#grid"/><use href="#coast"/></g></g>
<path d="M50.00 440.95v5.5M148.12 440.95v5.5M246.23 440.95v5.5M344.35 440.95v5.5M442.46 440.95v5.5M540.58 440.95v5.5M638.70 440.95v5.5M736.81 440.95v5.5M834.93 440.95v5.5M0 417.17h-5.5M0 368.03h-5.5M0 318.90h-5.5M0 269.77h-5.5M0 220.64h-5.5M0 171.51h-5.5M0 122.37h-5.5M0 73.24h-5.5M0 24.11h-5.5" stroke="#000" stroke-width="1.1" fill="none"/>
<rect x="0" y="0" width="881.20" height="440.95" fill="none" stroke="#000" stroke-width="1.4"/>
<text x="879.3" y="-8.5" font-size="34.15" text-anchor="end">T, MAM Increment 821.0 hpa: <tspan dx="3.7">0012UTC</tspan></text>
<text x="-9.6" y="33.3" font-size="27.6" text-anchor="end">80°N</text>
<text x="-9.6" y="82.4" font-size="27.6" text-anchor="end">60°N</text>
<text x="-9.6" y="131.6" font-size="27.6" text-anchor="end">40°N</text>
<text x="-9.6" y="180.7" font-size="27.6" text-anchor="end">20°N</text>
<text x="-9.6" y="229.8" font-size="27.6" text-anchor="end">0°</text>
<text x="-9.6" y="279.0" font-size="27.6" text-anchor="end">20°S</text>
<text x="-9.6" y="328.1" font-size="27.6" text-anchor="end">40°S</text>
<text x="-9.6" y="377.2" font-size="27.6" text-anchor="end">60°S</text>
<text x="-9.6" y="426.4" font-size="27.6" text-anchor="end">80°S</text>
<text x="50.3" y="469.8" font-size="27.6" text-anchor="middle">20°E</text>
<text x="148.4" y="469.8" font-size="27.6" text-anchor="middle">60°E</text>
<text x="244.2" y="469.8" font-size="27.6" text-anchor="middle">100°E</text>
<text x="342.3" y="469.8" font-size="27.6" text-anchor="middle">140°E</text>
<text x="440.5" y="469.8" font-size="27.6" text-anchor="middle">180°E</text>
<text x="538.6" y="469.8" font-size="27.6" text-anchor="middle">140°W</text>
<text x="636.7" y="469.8" font-size="27.6" text-anchor="middle">100°W</text>
<text x="737.1" y="469.8" font-size="27.6" text-anchor="middle">60°W</text>
<text x="835.2" y="469.8" font-size="27.6" text-anchor="middle">20°W</text>
</g>
<g transform="translate(1135.53,581.38)">
<g clip-path="url(#cp1)"><ellipse cx="46.7" cy="36.2" rx="6.1" ry="2.8" fill="#fee496"/><path d="M12.5 104.2C13.1 102.3 15.8 99.9 18.0 98.7C20.2 97.5 22.6 96.7 25.6 97.0C28.6 97.2 33.5 98.8 35.4 100.2C37.3 101.6 37.9 104.0 36.9 105.2C36.0 106.5 32.6 106.5 30.0 107.4C27.3 108.3 23.8 110.3 21.2 110.7C18.7 111.1 16.2 110.7 14.7 109.6C13.2 108.5 12.0 106.0 12.5 104.2Z" fill="#fee496"/><path d="M85.5 197.8C85.9 195.6 87.3 191.7 88.8 189.1C90.2 186.5 92.7 182.6 94.2 182.6C95.7 182.6 96.2 186.7 97.5 189.1C98.8 191.5 101.6 194.3 101.8 196.7C102.0 199.1 100.4 201.8 98.6 203.2C96.7 204.7 93.0 205.6 90.9 205.4C88.9 205.2 87.5 203.4 86.6 202.2C85.7 200.9 85.1 200.0 85.5 197.8Z" fill="#fee496"/><path d="M11.4 196.7C12.0 194.7 15.6 192.4 18.0 192.4C20.4 192.4 23.4 194.9 25.6 196.7C27.8 198.6 29.4 201.6 31.0 203.2C32.7 204.9 34.8 204.7 35.4 206.5C36.0 208.4 35.6 212.5 34.3 214.1C33.0 215.8 30.0 217.2 27.8 216.3C25.6 215.4 23.5 210.7 21.2 208.7C19.0 206.7 16.4 206.4 14.7 204.3C13.0 202.3 10.9 198.7 11.4 196.7Z" fill="#fee496"/><ellipse cx="188.5" cy="175.6" rx="2.8" ry="4.8" fill="#fee496"/><ellipse cx="189.6" cy="186.9" rx="2.6" ry="3.3" fill="#fee496"/><ellipse cx="79.0" cy="218.5" rx="2.6" ry="2.2" fill="#fee496"/><ellipse cx="167.6" cy="130.3" rx="3.0" ry="1.7" fill="#e5f3ec"/><ellipse cx="224.9" cy="137.9" rx="6.5" ry="2.2" fill="#e5f3ec"/><path d="M210.7 158.6C211.5 157.2 217.2 156.1 219.4 156.9C221.6 157.6 223.4 161.0 223.8 163.0C224.2 164.9 223.1 168.0 221.6 168.4C220.1 168.8 216.9 166.8 215.1 165.1C213.2 163.5 210.0 160.0 210.7 158.6Z" fill="#e5f3ec"/><path d="M502.5 69.3C502.9 67.9 505.2 66.0 508.0 65.0C510.8 64.0 515.2 63.2 518.9 63.4C522.6 63.6 527.4 64.9 529.8 66.0C532.2 67.2 533.8 69.3 533.0 70.4C532.3 71.5 528.6 72.0 525.4 72.6C522.3 73.1 517.8 73.6 514.5 73.7C511.2 73.8 507.8 74.0 505.8 73.2C503.8 72.5 502.2 70.7 502.5 69.3Z" fill="#fee496"/><path d="M549.4 74.8C550.3 74.4 555.7 75.6 558.1 76.9C560.5 78.2 563.3 81.3 563.5 82.4C563.7 83.5 561.0 84.0 559.2 83.5C557.3 82.9 554.3 80.6 552.6 79.1C551.0 77.6 548.4 75.1 549.4 74.8Z" fill="#fee496"/><path d="M574.4 110.7C574.8 108.1 577.4 105.3 579.8 104.2C582.3 103.0 586.5 102.6 588.6 103.7C590.6 104.8 591.8 108.2 591.8 110.7C591.8 113.2 588.7 115.7 588.6 118.3C588.4 120.9 589.3 125.0 590.7 125.9C592.2 126.9 594.7 124.3 597.3 123.8C599.9 123.2 603.0 122.3 606.0 122.7C608.9 123.0 612.5 126.7 614.7 125.9C616.9 125.2 617.2 120.0 619.0 118.3C620.9 116.6 623.5 115.6 625.6 116.1C627.6 116.7 630.3 119.5 631.0 121.6C631.8 123.6 629.2 125.9 629.9 128.1C630.7 130.3 634.3 131.3 635.4 134.6C636.5 138.0 635.9 144.0 636.5 147.7C637.0 151.4 637.2 153.5 638.6 156.4C640.1 159.4 643.0 162.2 645.2 165.1C647.4 168.1 649.1 171.6 651.7 173.8C654.3 176.1 657.5 177.1 660.4 178.2C663.4 179.3 666.9 178.9 669.1 180.4C671.4 181.9 673.1 184.5 673.5 186.9C673.9 189.3 672.8 193.4 671.3 194.5C669.8 195.6 667.4 194.4 664.8 193.4C662.2 192.5 658.7 189.5 656.1 189.1C653.5 188.7 651.8 191.3 649.5 191.3C647.3 191.3 644.5 190.8 643.0 189.1C641.5 187.4 642.7 183.5 640.8 181.5C639.0 179.4 634.9 178.8 632.1 177.1C629.3 175.4 626.7 174.1 624.5 171.7C622.3 169.3 621.1 165.5 619.0 163.0C617.0 160.4 614.7 158.6 612.5 156.4C610.3 154.2 608.6 151.7 606.0 149.9C603.4 148.0 600.2 146.1 597.3 145.5C594.3 145.0 591.2 147.2 588.6 146.6C586.0 146.1 583.7 144.3 582.0 142.3C580.4 140.2 578.8 137.0 578.8 134.6C578.8 132.2 582.2 130.7 582.0 128.1C581.8 125.5 579.0 122.4 577.7 119.4C576.4 116.4 574.0 113.3 574.4 110.7Z" fill="#fee496"/><ellipse cx="873.8" cy="120.5" rx="6.1" ry="4.4" fill="#fee496"/><path d="M690.9 220.7C690.2 218.6 693.4 212.0 695.3 208.7C697.1 205.4 699.8 201.8 701.8 201.1C703.8 200.3 706.7 202.5 707.2 204.3C707.8 206.2 706.4 209.2 705.1 212.0C703.8 214.7 702.0 219.2 699.6 220.7C697.2 222.1 691.7 222.7 690.9 220.7Z" fill="#fee496"/><path d="M625.6 220.7C623.5 220.1 629.5 218.0 632.1 217.4C634.7 216.8 638.8 216.8 640.8 217.4C642.9 218.0 646.7 220.1 644.1 220.7C641.5 221.2 627.6 221.2 625.6 220.7Z" fill="#fee496"/><path d="M175.4 290.3C175.2 285.9 177.2 278.5 179.1 275.1C181.1 271.7 184.0 270.6 186.8 270.3C189.5 269.9 192.1 271.3 195.5 272.9C198.8 274.4 203.0 277.8 206.4 279.4C209.7 281.1 212.5 280.8 215.1 282.7C217.7 284.5 219.8 287.2 221.6 290.3C223.5 293.5 224.8 297.9 226.0 301.2C227.1 304.5 228.5 307.7 228.1 309.9C227.8 312.1 226.4 313.2 223.8 314.3C221.2 315.3 217.0 316.0 212.9 316.0C208.8 316.0 203.9 315.5 199.8 314.3C195.8 313.0 192.3 311.0 188.9 308.8C185.6 306.6 182.5 304.3 180.2 301.2C177.9 298.1 175.6 294.8 175.4 290.3Z" fill="#fee496"/><ellipse cx="217.2" cy="319.7" rx="0.9" ry="1.7" fill="#fee496"/><path d="M64.8 280.5C64.6 278.3 67.3 275.9 69.2 275.1C71.0 274.2 73.9 274.2 75.7 275.5C77.5 276.8 79.1 280.5 79.6 282.7C80.2 284.8 79.8 286.1 79.0 288.1C78.1 290.2 75.9 293.7 74.6 294.7C73.3 295.6 72.1 294.7 71.3 293.6C70.6 292.5 71.4 290.4 70.2 288.1C69.1 285.9 65.0 282.7 64.8 280.5Z" fill="#fee496"/><ellipse cx="88.3" cy="224.5" rx="3.9" ry="4.4" fill="#fee496"/><ellipse cx="79.0" cy="221.7" rx="1.7" ry="1.3" fill="#fee496"/><ellipse cx="116.0" cy="265.7" rx="1.3" ry="2.2" fill="#fee496"/><path d="M332.2 284.9C332.4 283.0 334.0 279.3 335.9 278.3C337.9 277.3 341.6 277.9 343.6 279.0C345.5 280.1 347.7 283.0 347.5 284.9C347.3 286.7 344.6 289.1 342.5 289.9C340.3 290.6 336.6 290.1 334.8 289.2C333.1 288.4 332.0 286.7 332.2 284.9Z" fill="#fee496"/><ellipse cx="364.2" cy="306.6" rx="2.2" ry="1.7" fill="#fee496"/><ellipse cx="422.0" cy="325.2" rx="2.6" ry="1.7" fill="#fee496"/><path d="M35.4 411.2C36.1 409.8 40.5 408.2 47.4 407.5C54.2 406.7 66.4 407.3 75.7 406.8C84.9 406.3 94.1 404.6 101.8 404.6C109.6 404.6 116.8 405.3 121.4 406.8C126.1 408.3 129.8 411.5 129.0 413.4C128.3 415.2 123.2 416.6 117.1 417.7C111.0 418.8 102.0 419.8 93.1 419.9C84.2 420.0 73.3 419.1 64.8 418.4C56.3 417.6 48.0 416.8 43.0 415.5C38.0 414.3 34.7 412.5 35.4 411.2Z" fill="#e5f3ec"/><ellipse cx="243.8" cy="400.1" rx="6.1" ry="2.2" fill="#e5f3ec"/><ellipse cx="137.8" cy="394.2" rx="2.6" ry="1.1" fill="#e5f3ec"/><path d="M618.0 227.2C619.1 224.6 615.9 221.7 621.2 220.6C626.6 219.5 643.2 219.5 649.5 220.6C655.8 221.7 654.5 224.9 658.2 227.2C662.0 229.4 668.2 231.5 671.3 233.7C674.5 235.9 676.0 237.8 676.8 240.2C677.5 242.6 677.3 245.1 675.7 247.8C674.0 250.6 669.2 253.4 667.0 256.6C664.7 259.7 663.0 263.4 662.6 266.4C662.2 269.3 662.9 271.2 664.8 274.0C666.6 276.8 670.2 279.9 673.5 282.7C676.8 285.5 681.4 287.2 684.4 290.3C687.3 293.5 688.0 298.6 690.9 301.2C693.9 303.8 699.4 306.3 701.8 305.6C704.2 304.8 703.8 299.4 705.1 296.8C706.4 294.3 707.6 291.2 709.4 290.3C711.3 289.4 714.5 289.5 716.0 291.4C717.4 293.2 717.2 298.1 718.1 301.2C719.1 304.3 719.0 307.7 721.4 309.9C723.8 312.1 728.2 313.0 732.3 314.3C736.4 315.6 742.8 315.3 745.4 317.5C748.0 319.8 746.1 324.2 747.5 327.3C749.0 330.5 752.0 333.1 754.1 336.0C756.1 339.0 759.0 342.2 759.5 344.8C760.1 347.3 759.7 349.3 757.3 351.3C754.9 353.3 749.6 355.3 745.4 356.7C741.1 358.2 736.7 360.0 732.3 360.0C727.8 360.0 723.3 357.8 719.2 356.7C715.2 355.6 711.7 355.9 708.3 353.5C705.0 351.1 701.5 345.2 699.6 342.6C697.8 340.0 699.3 338.2 697.4 338.2C695.6 338.2 690.4 340.7 688.7 342.6C687.1 344.4 687.3 346.5 687.6 349.1C688.0 351.7 692.2 355.6 690.9 357.8C689.6 360.0 684.1 361.1 680.0 362.2C676.0 363.3 670.3 365.1 667.0 364.4C663.6 363.6 661.9 360.0 660.4 357.8C658.9 355.6 660.1 353.1 658.2 351.3C656.4 349.4 649.9 348.4 649.5 346.9C649.2 345.5 656.4 344.8 656.1 342.6C655.7 340.4 650.7 336.5 647.4 333.9C644.0 331.3 638.1 329.6 636.5 327.3C634.8 325.1 637.9 323.4 637.6 320.8C637.2 318.2 634.5 314.7 634.3 312.1C634.1 309.5 637.2 308.5 636.5 305.6C635.7 302.6 631.4 298.7 629.9 294.7C628.5 290.6 628.9 285.7 627.8 281.6C626.6 277.5 624.9 274.0 623.4 270.7C621.9 267.4 620.9 264.4 619.0 262.0C617.2 259.6 614.6 259.1 612.5 256.6C610.5 254.0 607.6 249.5 607.1 246.8C606.5 244.0 608.0 242.1 609.2 240.2C610.5 238.4 613.2 238.1 614.7 235.9C616.2 233.6 616.8 229.7 618.0 227.2Z" fill="#fee496"/><ellipse cx="529.8" cy="287.7" rx="8.3" ry="6.1" fill="#fee496"/><path d="M806.3 255.5C806.3 252.1 808.1 245.7 809.6 242.4C811.1 239.1 812.6 237.1 815.0 236.3C817.5 235.5 821.2 236.0 823.8 237.6C826.4 239.2 828.8 242.6 830.3 245.7C831.8 248.7 832.7 252.3 832.5 255.5C832.3 258.6 829.6 261.4 829.2 264.2C828.8 267.0 831.2 270.3 830.3 271.8C829.4 273.3 826.4 273.6 823.8 272.9C821.2 272.1 817.5 269.3 815.0 267.4C812.6 265.6 811.1 264.0 809.6 262.0C808.1 260.0 806.3 258.8 806.3 255.5Z" fill="#fee496"/><path d="M822.7 286.0C823.0 284.5 825.0 283.2 827.0 283.8C829.1 284.3 833.9 287.4 834.6 289.2C835.4 291.1 833.0 294.1 831.4 294.7C829.7 295.2 826.3 294.0 824.8 292.5C823.4 291.0 822.3 287.4 822.7 286.0Z" fill="#fee496"/><ellipse cx="806.3" cy="293.1" rx="2.2" ry="1.7" fill="#fee496"/><ellipse cx="820.9" cy="309.9" rx="3.3" ry="2.2" fill="#fee496"/><path d="M686.6 220.6C687.9 219.7 694.5 219.5 695.3 220.6C696.0 221.7 692.2 226.2 690.9 227.2C689.6 228.1 688.4 227.2 687.6 226.1C686.9 225.0 685.3 221.5 686.6 220.6Z" fill="#fee496"/><path d="M612.5 132.5C613.6 131.2 618.3 129.4 621.2 129.2C624.2 129.0 628.5 130.3 629.9 131.4C631.4 132.5 631.4 135.0 629.9 135.7C628.5 136.5 623.8 135.5 621.2 135.7C618.6 135.9 616.2 137.4 614.7 136.8C613.2 136.3 611.4 133.8 612.5 132.5Z" fill="#ffffff"/><path d="M621.2 152.1C622.2 150.8 627.9 151.1 629.9 152.1C632.0 153.0 633.2 155.7 633.2 157.5C633.2 159.4 631.4 162.6 629.9 163.0C628.5 163.3 626.0 161.5 624.5 159.7C623.0 157.8 620.3 153.4 621.2 152.1Z" fill="#ffffff"/><ellipse cx="22.3" cy="107.4" rx="2.6" ry="1.7" fill="#fdd283"/><ellipse cx="93.5" cy="196.7" rx="4.8" ry="5.4" fill="#fdd283"/><path d="M590.7 132.5C591.1 130.4 594.7 127.6 597.3 127.0C599.9 126.5 603.4 127.9 606.0 129.2C608.6 130.5 611.0 132.2 612.5 134.6C614.0 137.0 615.4 141.5 614.7 143.4C614.0 145.2 610.4 145.9 608.2 145.5C605.9 145.2 603.8 142.3 601.6 141.2C599.4 140.1 596.9 140.5 595.1 139.0C593.2 137.5 590.4 134.5 590.7 132.5Z" fill="#fdd283"/><path d="M625.6 167.3C626.7 165.8 631.3 164.0 634.3 164.0C637.3 164.0 640.8 165.6 643.0 167.3C645.2 169.0 647.4 171.6 647.4 173.8C647.4 176.1 645.2 179.8 643.0 180.4C640.8 180.9 636.9 178.4 634.3 177.1C631.7 175.8 629.2 174.4 627.8 172.8C626.3 171.1 624.5 168.8 625.6 167.3Z" fill="#fdd283"/><path d="M653.9 180.4C654.6 179.6 660.0 180.5 662.6 181.5C665.2 182.4 668.8 184.5 669.1 185.8C669.5 187.1 666.6 189.1 664.8 189.1C662.9 189.1 660.1 187.3 658.2 185.8C656.4 184.3 653.2 181.1 653.9 180.4Z" fill="#fdd283"/><ellipse cx="701.8" cy="208.3" rx="2.6" ry="4.4" fill="#fdd283"/><path d="M621.2 242.4C621.6 239.8 624.8 239.0 627.8 238.0C630.7 237.1 634.9 236.4 638.6 237.0C642.3 237.5 646.9 239.5 649.5 241.3C652.1 243.2 654.3 245.8 653.9 247.8C653.5 249.9 650.3 252.0 647.4 253.3C644.4 254.6 640.2 255.5 636.5 255.5C632.8 255.5 628.2 255.5 625.6 253.3C623.0 251.1 620.9 245.0 621.2 242.4Z" fill="#fdd283"/><path d="M721.4 329.5C722.9 327.3 725.3 325.3 727.9 325.2C730.5 325.0 734.4 326.2 736.6 328.4C738.9 330.6 741.4 335.4 741.0 338.2C740.6 341.0 737.4 343.6 734.5 344.8C731.5 345.9 726.2 345.9 723.6 344.8C721.0 343.6 719.6 340.8 719.2 338.2C718.9 335.6 719.9 331.7 721.4 329.5Z" fill="#fdd283"/><ellipse cx="709.9" cy="303.4" rx="2.6" ry="5.4" fill="#fdd283"/><ellipse cx="529.8" cy="287.7" rx="4.4" ry="3.0" fill="#fdd283"/><ellipse cx="93.8" cy="197.4" rx="2.6" ry="2.6" fill="#fdbe70"/><ellipse cx="599.4" cy="131.4" rx="3.9" ry="3.3" fill="#fdbe70"/><ellipse cx="607.7" cy="139.0" rx="3.9" ry="2.6" fill="#fdbe70"/><path d="M629.9 169.5C630.1 168.2 634.2 166.9 636.5 167.3C638.7 167.7 642.1 170.0 643.0 171.7C643.9 173.3 643.2 176.6 641.9 177.1C640.6 177.7 637.4 176.2 635.4 174.9C633.3 173.6 629.8 170.8 629.9 169.5Z" fill="#fdbe70"/><ellipse cx="702.2" cy="208.7" rx="1.3" ry="2.2" fill="#fdbe70"/><ellipse cx="94.0" cy="197.8" rx="1.1" ry="1.1" fill="#fca85e"/><ellipse cx="638.6" cy="172.8" rx="3.9" ry="3.0" fill="#fca85e"/><ellipse cx="639.1" cy="173.4" rx="2.2" ry="1.7" fill="#f98e52"/><ellipse cx="639.1" cy="173.4" rx="1.5" ry="1.1" fill="#f47044"/><ellipse cx="639.3" cy="173.4" rx="0.9" ry="0.7" fill="#dd3d2d"/><g transform="matrix(1.00143 0 0 1 -1.17 0) translate(0 -0.95)"><use href="#grid"/><use href="#coast"/></g></g>
<path d="M48.90 440.95v5.5M147.16 440.95v5.5M245.41 440.95v5.5M343.67 440.95v5.5M441.93 440.95v5.5M540.18 440.95v5.5M638.44 440.95v5.5M736.70 440.95v5.5M834.95 440.95v5.5M0 417.17h-5.5M0 368.03h-5.5M0 318.90h-5.5M0 269.77h-5.5M0 220.64h-5.5M0 171.51h-5.5M0 122.37h-5.5M0 73.24h-5.5M0 24.11h-5.5" stroke="#000" stroke-width="1.1" fill="none"/>
<rect x="0" y="0" width="881.20" height="440.95" fill="none" stroke="#000" stroke-width="1.4"/>
<text x="879.3" y="-8.5" font-size="34.15" text-anchor="end">T, MAM Increment 821.0 hpa: <tspan dx="3.7">0018UTC</tspan></text>
<text x="49.2" y="469.8" font-size="27.6" text-anchor="middle">20°E</text>
<text x="147.5" y="469.8" font-size="27.6" text-anchor="middle">60°E</text>
<text x="243.4" y="469.8" font-size="27.6" text-anchor="middle">100°E</text>
<text x="341.7" y="469.8" font-size="27.6" text-anchor="middle">140°E</text>
<text x="439.9" y="469.8" font-size="27.6" text-anchor="middle">180°E</text>
<text x="538.2" y="469.8" font-size="27.6" text-anchor="middle">140°W</text>
<text x="636.4" y="469.8" font-size="27.6" text-anchor="middle">100°W</text>
<text x="737.0" y="469.8" font-size="27.6" text-anchor="middle">60°W</text>
<text x="835.3" y="469.8" font-size="27.6" text-anchor="middle">20°W</text>
</g>
<rect x="1175.30" y="1098.3" width="33.88" height="35.0" fill="#313695"/>
<rect x="1208.68" y="1098.3" width="33.88" height="35.0" fill="#394fa1"/>
<rect x="1242.06" y="1098.3" width="33.88" height="35.0" fill="#4167ad"/>
<rect x="1275.44" y="1098.3" width="33.88" height="35.0" fill="#4f81ba"/>
<rect x="1308.82" y="1098.3" width="33.88" height="35.0" fill="#6297c6"/>
<rect x="1342.20" y="1098.3" width="33.88" height="35.0" fill="#76afd2"/>
<rect x="1375.58" y="1098.3" width="33.88" height="35.0" fill="#8cc0db"/>
<rect x="1408.95" y="1098.3" width="33.88" height="35.0" fill="#a3d3e6"/>
<rect x="1442.33" y="1098.3" width="33.88" height="35.0" fill="#b9e0ed"/>
<rect x="1475.71" y="1098.3" width="33.88" height="35.0" fill="#d4ecf4"/>
<rect x="1509.09" y="1098.3" width="33.88" height="35.0" fill="#e5f3ec"/>
<rect x="1542.47" y="1098.3" width="33.88" height="35.0" fill="#ffffff"/>
<rect x="1575.85" y="1098.3" width="33.88" height="35.0" fill="#ffffff"/>
<rect x="1609.23" y="1098.3" width="33.88" height="35.0" fill="#fee294"/>
<rect x="1642.61" y="1098.3" width="33.88" height="35.0" fill="#fed081"/>
<rect x="1675.99" y="1098.3" width="33.88" height="35.0" fill="#fdbb6d"/>
<rect x="1709.37" y="1098.3" width="33.88" height="35.0" fill="#fca55d"/>
<rect x="1742.75" y="1098.3" width="33.88" height="35.0" fill="#f88950"/>
<rect x="1776.12" y="1098.3" width="33.88" height="35.0" fill="#f47044"/>
<rect x="1809.50" y="1098.3" width="33.88" height="35.0" fill="#e95538"/>
<rect x="1842.88" y="1098.3" width="33.88" height="35.0" fill="#dd3d2d"/>
<rect x="1876.26" y="1098.3" width="33.88" height="35.0" fill="#cc2627"/>
<rect x="1909.64" y="1098.3" width="33.88" height="35.0" fill="#b91326"/>
<rect x="1943.02" y="1098.3" width="33.88" height="35.0" fill="#a50026"/>
<path d="M1177.3 1098.3H1175.3L1135.3 1115.8L1175.3 1133.3h2Z" fill="#313695"/>
<path d="M1974.4 1098.3H1976.4L2016 1115.8L1976.4 1133.3h-2Z" fill="#a50026"/>
<path d="M1175.3 1098.3L1135.3 1115.8L1175.3 1133.3H1976.4L2016 1115.8L1976.4 1098.3Z" fill="none" stroke="#000" stroke-width="1.1" stroke-linejoin="miter"/>
<text transform="translate(1134.80,1162.2) scale(1.2145,1)" font-size="27.6">−</text>
<text x="1153.70" y="1162.2" font-size="27.6">1.900</text>
<text transform="translate(1234.93,1162.2) scale(1.2145,1)" font-size="27.6">−</text>
<text x="1253.84" y="1162.2" font-size="27.6">1.425</text>
<text transform="translate(1335.07,1162.2) scale(1.2145,1)" font-size="27.6">−</text>
<text x="1353.98" y="1162.2" font-size="27.6">0.950</text>
<text transform="translate(1435.21,1162.2) scale(1.2145,1)" font-size="27.6">−</text>
<text x="1454.12" y="1162.2" font-size="27.6">0.475</text>
<text x="1575.8" y="1162.2" font-size="27.6" text-anchor="middle">0.000</text>
<text x="1676.0" y="1162.2" font-size="27.6" text-anchor="middle">0.475</text>
<text x="1776.1" y="1162.2" font-size="27.6" text-anchor="middle">0.950</text>
<text x="1873.8" y="1162.2" font-size="27.6" text-anchor="middle">1.425</text>
<text x="1973.9" y="1162.2" font-size="27.6" text-anchor="middle">1.900</text>
<path d="M1175.3 1133.3v5.3M1275.4 1133.3v5.3M1375.6 1133.3v5.3M1475.7 1133.3v5.3M1575.8 1133.3v5.3M1676.0 1133.3v5.3M1776.1 1133.3v5.3M1876.3 1133.3v5.3M1976.4 1133.3v5.3" stroke="#000" stroke-width="1.1" fill="none"/>
<text x="1575.8" y="1213" font-size="46.5" text-anchor="middle">K</text>
</svg>
</body></html>
